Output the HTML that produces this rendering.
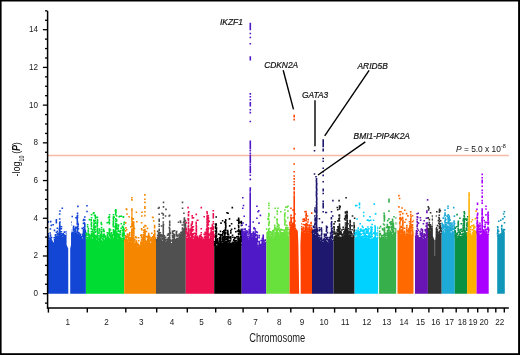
<!DOCTYPE html>
<html><head><meta charset="utf-8"><style>
html,body{margin:0;padding:0;background:#fff;}
svg{display:block;will-change:transform;}
</style></head><body>
<svg width="520" height="355" viewBox="0 0 520 355" font-family="Liberation Sans, sans-serif">
<rect x="0" y="0" width="520" height="355" fill="#000"/>
<rect x="1.6" y="1.5" width="516.5" height="351.7" fill="#fff"/>
<line x1="47.6" y1="155.5" x2="508.8" y2="155.5" stroke="#F5B9A5" stroke-width="1.6"/>
<path fill="#1446D6" d="M47.9,293.7 47.9,239.9 48.9,239.9 48.9,239.2 49.9,239.2 49.9,239 50.9,239 50.9,238.5 51.9,238.5 51.9,240.6 52.9,240.6 52.9,242.2 53.9,242.2 53.9,239.7 54.9,239.7 54.9,237.9 55.9,237.9 55.9,237.3 56.9,237.3 56.9,235.2 57.9,235.2 57.9,235.4 58.9,235.4 58.9,235.7 59.9,235.7 59.9,235.5 60.9,235.5 60.9,234.8 61.9,234.8 61.9,236.5 62.9,236.5 62.9,236.9 63.9,236.9 63.9,237.1 64.9,237.1 64.9,236.9 65.9,236.9 65.9,236.9 66.9,236.9 66.9,236.6 67.9,236.6 67.9,233.7 68.9,233.7 68.9,232.8 69.9,232.8 69.9,233 70.9,233 70.9,233.4 71.9,233.4 71.9,233.4 72.9,233.4 72.9,232.3 73.9,232.3 73.9,232.2 74.9,232.2 74.9,232.3 75.9,232.3 75.9,234.6 76.9,234.6 76.9,235.2 77.9,235.2 77.9,234.6 78.9,234.6 78.9,234.4 79.9,234.4 79.9,235.3 80.9,235.3 80.9,237.5 81.9,237.5 81.9,238.4 82.9,238.4 82.9,238.4 83.9,238.4 83.9,237.7 84.9,237.7 84.9,236.5 85.9,236.5 85.9,293.7ZM47.5 221.1h1.6v1.6h-1.6zM47.5 233.1h1.6v1.6h-1.6zM47.6 235.1h1.6v1.6h-1.6zM47.6 236.1h1.6v1.6h-1.6zM47.6 237.1h1.6v1.6h-1.6zM47.4 238.1h1.6v1.6h-1.6zM48.7 237.4h1.6v1.6h-1.6zM49.6 228.2h1.6v1.6h-1.6zM49.4 232.2h1.6v1.6h-1.6zM49.7 234.2h1.6v1.6h-1.6zM49.7 235.2h1.6v1.6h-1.6zM49.4 237.2h1.6v1.6h-1.6zM49.6 238.2h1.6v1.6h-1.6zM50.8 236.7h1.6v1.6h-1.6zM53.4 236.9h1.6v1.6h-1.6zM53.7 238.9h1.6v1.6h-1.6zM54.7 234.1h1.6v1.6h-1.6zM54.6 235.1h1.6v1.6h-1.6zM54.6 237.1h1.6v1.6h-1.6zM55.5 220.5h1.6v1.6h-1.6zM55.6 231.5h1.6v1.6h-1.6zM55.7 235.5h1.6v1.6h-1.6zM55.5 236.5h1.6v1.6h-1.6zM56.5 227.4h1.6v1.6h-1.6zM56.7 230.4h1.6v1.6h-1.6zM56.7 232.4h1.6v1.6h-1.6zM56.5 233.4h1.6v1.6h-1.6zM57.6 233.6h1.6v1.6h-1.6zM58.6 227.9h1.6v1.6h-1.6zM58.5 228.9h1.6v1.6h-1.6zM58.5 231.9h1.6v1.6h-1.6zM58.7 233.9h1.6v1.6h-1.6zM58.7 234.9h1.6v1.6h-1.6zM59.4 232.7h1.6v1.6h-1.6zM59.4 233.7h1.6v1.6h-1.6zM59.8 234.7h1.6v1.6h-1.6zM60.7 226h1.6v1.6h-1.6zM60.6 228h1.6v1.6h-1.6zM60.6 231h1.6v1.6h-1.6zM60.7 233h1.6v1.6h-1.6zM61.8 233.7h1.6v1.6h-1.6zM61.5 234.7h1.6v1.6h-1.6zM62.5 233.1h1.6v1.6h-1.6zM62.7 235.1h1.6v1.6h-1.6zM63.6 231.3h1.6v1.6h-1.6zM63.5 234.3h1.6v1.6h-1.6zM63.4 235.3h1.6v1.6h-1.6zM64.8 235.1h1.6v1.6h-1.6zM64.7 236.1h1.6v1.6h-1.6zM65.5 231.1h1.6v1.6h-1.6zM65.7 233.1h1.6v1.6h-1.6zM65.6 235.1h1.6v1.6h-1.6zM66.5 235.8h1.6v1.6h-1.6zM67.7 218.9h1.6v1.6h-1.6zM67.7 220.9h1.6v1.6h-1.6zM67.8 221.9h1.6v1.6h-1.6zM67.7 223.9h1.6v1.6h-1.6zM67.6 225.9h1.6v1.6h-1.6zM67.5 229.9h1.6v1.6h-1.6zM67.6 231.9h1.6v1.6h-1.6zM68.4 227h1.6v1.6h-1.6zM68.6 228h1.6v1.6h-1.6zM68.4 229h1.6v1.6h-1.6zM68.5 230h1.6v1.6h-1.6zM68.5 231h1.6v1.6h-1.6zM68.6 232h1.6v1.6h-1.6zM69.6 223.2h1.6v1.6h-1.6zM69.8 224.2h1.6v1.6h-1.6zM69.4 228.2h1.6v1.6h-1.6zM69.7 229.2h1.6v1.6h-1.6zM69.7 231.2h1.6v1.6h-1.6zM70.4 232.6h1.6v1.6h-1.6zM71.8 231.6h1.6v1.6h-1.6zM71.8 232.6h1.6v1.6h-1.6zM72.8 225.5h1.6v1.6h-1.6zM72.7 227.5h1.6v1.6h-1.6zM72.6 228.5h1.6v1.6h-1.6zM72.6 229.5h1.6v1.6h-1.6zM72.7 231.5h1.6v1.6h-1.6zM73.5 228.4h1.6v1.6h-1.6zM73.6 230.4h1.6v1.6h-1.6zM74.8 226.5h1.6v1.6h-1.6zM74.7 227.5h1.6v1.6h-1.6zM74.5 228.5h1.6v1.6h-1.6zM74.5 229.5h1.6v1.6h-1.6zM74.7 230.5h1.6v1.6h-1.6zM74.8 231.5h1.6v1.6h-1.6zM75.7 226.8h1.6v1.6h-1.6zM75.6 232.8h1.6v1.6h-1.6zM75.8 233.8h1.6v1.6h-1.6zM76.7 212.4h1.6v1.6h-1.6zM76.8 214.4h1.6v1.6h-1.6zM76.4 215.4h1.6v1.6h-1.6zM76.8 216.4h1.6v1.6h-1.6zM76.4 218.4h1.6v1.6h-1.6zM76.5 219.4h1.6v1.6h-1.6zM76.5 220.4h1.6v1.6h-1.6zM76.8 221.4h1.6v1.6h-1.6zM76.4 222.4h1.6v1.6h-1.6zM76.5 223.4h1.6v1.6h-1.6zM76.7 225.4h1.6v1.6h-1.6zM76.7 226.4h1.6v1.6h-1.6zM76.8 227.4h1.6v1.6h-1.6zM76.6 228.4h1.6v1.6h-1.6zM76.8 229.4h1.6v1.6h-1.6zM76.6 230.4h1.6v1.6h-1.6zM76.6 231.4h1.6v1.6h-1.6zM76.6 233.4h1.6v1.6h-1.6zM76.6 234.4h1.6v1.6h-1.6zM77.6 227.8h1.6v1.6h-1.6zM77.6 231.8h1.6v1.6h-1.6zM77.5 233.8h1.6v1.6h-1.6zM78.4 232.6h1.6v1.6h-1.6zM79.6 233.5h1.6v1.6h-1.6zM79.4 234.5h1.6v1.6h-1.6zM80.6 235.7h1.6v1.6h-1.6zM80.5 236.7h1.6v1.6h-1.6zM81.4 227.6h1.6v1.6h-1.6zM81.7 233.6h1.6v1.6h-1.6zM81.8 235.6h1.6v1.6h-1.6zM82.6 230.6h1.6v1.6h-1.6zM82.6 231.6h1.6v1.6h-1.6zM82.6 233.6h1.6v1.6h-1.6zM82.5 234.6h1.6v1.6h-1.6zM82.7 235.6h1.6v1.6h-1.6zM82.6 236.6h1.6v1.6h-1.6zM82.7 237.6h1.6v1.6h-1.6zM83.5 221.9h1.6v1.6h-1.6zM83.7 227.9h1.6v1.6h-1.6zM83.8 228.9h1.6v1.6h-1.6zM83.5 229.9h1.6v1.6h-1.6zM83.7 231.9h1.6v1.6h-1.6zM83.7 232.9h1.6v1.6h-1.6zM83.7 234.9h1.6v1.6h-1.6zM83.5 235.9h1.6v1.6h-1.6zM83.7 236.9h1.6v1.6h-1.6zM84.5 229.7h1.6v1.6h-1.6zM84.5 230.7h1.6v1.6h-1.6zM84.8 231.7h1.6v1.6h-1.6zM84.7 232.7h1.6v1.6h-1.6zM84.6 233.7h1.6v1.6h-1.6zM84.8 234.7h1.6v1.6h-1.6zM84.6 235.7h1.6v1.6h-1.6zM59.2 210.2h1.6v1.6h-1.6zM58.9 213.2h1.6v1.6h-1.6zM58.9 218.2h1.6v1.6h-1.6zM59.2 221.2h1.6v1.6h-1.6zM58.9 222.2h1.6v1.6h-1.6zM58.9 223.2h1.6v1.6h-1.6zM59 224.2h1.6v1.6h-1.6zM59.1 225.2h1.6v1.6h-1.6zM58.8 226.2h1.6v1.6h-1.6zM59.1 227.2h1.6v1.6h-1.6zM59.1 228.2h1.6v1.6h-1.6zM59 229.2h1.6v1.6h-1.6zM59.1 230.2h1.6v1.6h-1.6zM58.9 231.2h1.6v1.6h-1.6zM59 232.2h1.6v1.6h-1.6zM58.8 233.2h1.6v1.6h-1.6zM83 218.7h1.6v1.6h-1.6zM82.6 219.7h1.6v1.6h-1.6zM82.6 222.7h1.6v1.6h-1.6zM83 226.7h1.6v1.6h-1.6zM82.8 228.7h1.6v1.6h-1.6zM82.7 229.7h1.6v1.6h-1.6zM82.9 232.7h1.6v1.6h-1.6zM82.8 233.7h1.6v1.6h-1.6zM82.7 234.7h1.6v1.6h-1.6zM84 216.2h1.6v1.6h-1.6zM84 219.2h1.6v1.6h-1.6zM84 223.2h1.6v1.6h-1.6zM84 224.2h1.6v1.6h-1.6zM84 225.2h1.6v1.6h-1.6zM84 226.2h1.6v1.6h-1.6zM84 228.2h1.6v1.6h-1.6zM84 229.2h1.6v1.6h-1.6zM84 231.2h1.6v1.6h-1.6zM84 232.2h1.6v1.6h-1.6zM84 233.2h1.6v1.6h-1.6zM84 234.2h1.6v1.6h-1.6zM61.5 207.5h1.6v1.6h-1.6zM49.9 220.8h1.6v1.6h-1.6zM50.5 224.6h1.6v1.6h-1.6zM52.4 223.9h1.6v1.6h-1.6zM55.6 218.9h1.6v1.6h-1.6zM55.6 222h1.6v1.6h-1.6zM53.7 229.6h1.6v1.6h-1.6zM71.4 215.7h1.6v1.6h-1.6zM70.2 221.4h1.6v1.6h-1.6zM72.7 226.5h1.6v1.6h-1.6zM75.2 217h1.6v1.6h-1.6zM76.5 217.6h1.6v1.6h-1.6zM77.1 205.6h1.6v1.6h-1.6zM77.4 223.3h1.6v1.6h-1.6zM77.4 225.2h1.6v1.6h-1.6zM86.2 205h1.6v1.6h-1.6zM86.2 210.7h1.6v1.6h-1.6z"/>
<path fill="#00DC32" d="M85.9,293.7 85.9,239.3 86.9,239.3 86.9,239.8 87.9,239.8 87.9,239.6 88.9,239.6 88.9,238.6 89.9,238.6 89.9,240.5 90.9,240.5 90.9,237.7 91.9,237.7 91.9,238.6 92.9,238.6 92.9,236.9 93.9,236.9 93.9,238.3 94.9,238.3 94.9,238.2 95.9,238.2 95.9,240 96.9,240 96.9,237.6 97.9,237.6 97.9,240.2 98.9,240.2 98.9,239 99.9,239 99.9,238.7 100.9,238.7 100.9,240.5 101.9,240.5 101.9,241.7 102.9,241.7 102.9,240.4 103.9,240.4 103.9,239.4 104.9,239.4 104.9,240.1 105.9,240.1 105.9,241.4 106.9,241.4 106.9,238.7 107.9,238.7 107.9,237.2 108.9,237.2 108.9,238.8 109.9,238.8 109.9,240 110.9,240 110.9,239.7 111.9,239.7 111.9,237.7 112.9,237.7 112.9,237.8 113.9,237.8 113.9,236.6 114.9,236.6 114.9,237.8 115.9,237.8 115.9,238.5 116.9,238.5 116.9,239.7 117.9,239.7 117.9,237.1 118.9,237.1 118.9,236.4 119.9,236.4 119.9,236.5 120.9,236.5 120.9,239.3 121.9,239.3 121.9,239.3 122.9,239.3 122.9,239.2 123.9,239.2 123.9,239.4 124.2,239.4 124.2,293.7ZM85.7 232.5h1.6v1.6h-1.6zM85.4 233.5h1.6v1.6h-1.6zM85.8 234.5h1.6v1.6h-1.6zM85.4 236.5h1.6v1.6h-1.6zM85.6 238.5h1.6v1.6h-1.6zM86.8 224h1.6v1.6h-1.6zM86.8 226h1.6v1.6h-1.6zM86.6 237h1.6v1.6h-1.6zM86.7 238h1.6v1.6h-1.6zM87.6 227.8h1.6v1.6h-1.6zM87.4 229.8h1.6v1.6h-1.6zM87.6 230.8h1.6v1.6h-1.6zM87.5 232.8h1.6v1.6h-1.6zM87.4 233.8h1.6v1.6h-1.6zM87.7 234.8h1.6v1.6h-1.6zM87.6 236.8h1.6v1.6h-1.6zM87.5 238.8h1.6v1.6h-1.6zM88.6 218.8h1.6v1.6h-1.6zM88.7 233.8h1.6v1.6h-1.6zM88.8 235.8h1.6v1.6h-1.6zM88.6 236.8h1.6v1.6h-1.6zM89.7 234.7h1.6v1.6h-1.6zM89.7 237.7h1.6v1.6h-1.6zM89.6 238.7h1.6v1.6h-1.6zM89.5 239.7h1.6v1.6h-1.6zM90.7 213.9h1.6v1.6h-1.6zM90.8 216.9h1.6v1.6h-1.6zM90.4 218.9h1.6v1.6h-1.6zM90.4 219.9h1.6v1.6h-1.6zM90.7 221.9h1.6v1.6h-1.6zM90.6 222.9h1.6v1.6h-1.6zM90.5 223.9h1.6v1.6h-1.6zM90.7 224.9h1.6v1.6h-1.6zM90.7 225.9h1.6v1.6h-1.6zM90.4 227.9h1.6v1.6h-1.6zM90.6 230.9h1.6v1.6h-1.6zM90.8 232.9h1.6v1.6h-1.6zM90.8 233.9h1.6v1.6h-1.6zM90.7 234.9h1.6v1.6h-1.6zM90.5 235.9h1.6v1.6h-1.6zM90.6 236.9h1.6v1.6h-1.6zM91.5 228.8h1.6v1.6h-1.6zM91.5 230.8h1.6v1.6h-1.6zM91.5 232.8h1.6v1.6h-1.6zM91.7 233.8h1.6v1.6h-1.6zM91.4 234.8h1.6v1.6h-1.6zM91.7 235.8h1.6v1.6h-1.6zM92.7 234.1h1.6v1.6h-1.6zM92.6 235.1h1.6v1.6h-1.6zM92.6 236.1h1.6v1.6h-1.6zM93.7 234.5h1.6v1.6h-1.6zM93.5 235.5h1.6v1.6h-1.6zM93.7 236.5h1.6v1.6h-1.6zM93.6 237.5h1.6v1.6h-1.6zM94.5 214.4h1.6v1.6h-1.6zM94.4 215.4h1.6v1.6h-1.6zM94.6 216.4h1.6v1.6h-1.6zM94.7 217.4h1.6v1.6h-1.6zM94.5 219.4h1.6v1.6h-1.6zM94.8 221.4h1.6v1.6h-1.6zM94.6 222.4h1.6v1.6h-1.6zM94.6 225.4h1.6v1.6h-1.6zM94.5 226.4h1.6v1.6h-1.6zM94.5 228.4h1.6v1.6h-1.6zM94.8 230.4h1.6v1.6h-1.6zM94.5 231.4h1.6v1.6h-1.6zM94.5 234.4h1.6v1.6h-1.6zM94.5 235.4h1.6v1.6h-1.6zM94.8 236.4h1.6v1.6h-1.6zM94.8 237.4h1.6v1.6h-1.6zM95.7 235.2h1.6v1.6h-1.6zM95.7 236.2h1.6v1.6h-1.6zM95.8 237.2h1.6v1.6h-1.6zM95.7 239.2h1.6v1.6h-1.6zM96.7 218.8h1.6v1.6h-1.6zM96.7 219.8h1.6v1.6h-1.6zM96.7 220.8h1.6v1.6h-1.6zM96.8 221.8h1.6v1.6h-1.6zM96.4 222.8h1.6v1.6h-1.6zM96.5 223.8h1.6v1.6h-1.6zM96.6 224.8h1.6v1.6h-1.6zM96.4 225.8h1.6v1.6h-1.6zM96.7 227.8h1.6v1.6h-1.6zM96.5 228.8h1.6v1.6h-1.6zM96.6 229.8h1.6v1.6h-1.6zM96.8 230.8h1.6v1.6h-1.6zM96.7 231.8h1.6v1.6h-1.6zM96.6 233.8h1.6v1.6h-1.6zM96.8 234.8h1.6v1.6h-1.6zM96.7 235.8h1.6v1.6h-1.6zM96.6 236.8h1.6v1.6h-1.6zM97.5 232.4h1.6v1.6h-1.6zM97.7 238.4h1.6v1.6h-1.6zM98.5 228.2h1.6v1.6h-1.6zM98.7 229.2h1.6v1.6h-1.6zM98.6 230.2h1.6v1.6h-1.6zM98.5 232.2h1.6v1.6h-1.6zM98.4 235.2h1.6v1.6h-1.6zM98.4 237.2h1.6v1.6h-1.6zM98.4 238.2h1.6v1.6h-1.6zM99.6 233.9h1.6v1.6h-1.6zM99.5 234.9h1.6v1.6h-1.6zM99.8 235.9h1.6v1.6h-1.6zM99.6 236.9h1.6v1.6h-1.6zM99.6 237.9h1.6v1.6h-1.6zM100.5 221.7h1.6v1.6h-1.6zM100.5 222.7h1.6v1.6h-1.6zM100.8 223.7h1.6v1.6h-1.6zM100.7 226.7h1.6v1.6h-1.6zM100.7 228.7h1.6v1.6h-1.6zM100.4 230.7h1.6v1.6h-1.6zM100.6 231.7h1.6v1.6h-1.6zM100.5 232.7h1.6v1.6h-1.6zM100.8 233.7h1.6v1.6h-1.6zM100.7 234.7h1.6v1.6h-1.6zM100.7 235.7h1.6v1.6h-1.6zM100.6 236.7h1.6v1.6h-1.6zM100.7 239.7h1.6v1.6h-1.6zM101.5 235.9h1.6v1.6h-1.6zM101.5 237.9h1.6v1.6h-1.6zM101.5 240.9h1.6v1.6h-1.6zM102.7 228.6h1.6v1.6h-1.6zM102.8 229.6h1.6v1.6h-1.6zM102.4 230.6h1.6v1.6h-1.6zM102.6 233.6h1.6v1.6h-1.6zM102.5 234.6h1.6v1.6h-1.6zM102.6 235.6h1.6v1.6h-1.6zM102.7 236.6h1.6v1.6h-1.6zM102.4 238.6h1.6v1.6h-1.6zM102.8 239.6h1.6v1.6h-1.6zM103.4 230.6h1.6v1.6h-1.6zM103.5 233.6h1.6v1.6h-1.6zM103.4 234.6h1.6v1.6h-1.6zM103.5 235.6h1.6v1.6h-1.6zM104.5 235.3h1.6v1.6h-1.6zM104.5 236.3h1.6v1.6h-1.6zM104.6 237.3h1.6v1.6h-1.6zM104.5 238.3h1.6v1.6h-1.6zM105.8 237.6h1.6v1.6h-1.6zM105.7 238.6h1.6v1.6h-1.6zM105.6 239.6h1.6v1.6h-1.6zM105.5 240.6h1.6v1.6h-1.6zM106.4 221.9h1.6v1.6h-1.6zM106.5 231.9h1.6v1.6h-1.6zM106.7 233.9h1.6v1.6h-1.6zM106.5 234.9h1.6v1.6h-1.6zM106.5 235.9h1.6v1.6h-1.6zM106.6 236.9h1.6v1.6h-1.6zM106.5 237.9h1.6v1.6h-1.6zM107.7 221.4h1.6v1.6h-1.6zM107.5 232.4h1.6v1.6h-1.6zM107.6 236.4h1.6v1.6h-1.6zM108.7 214h1.6v1.6h-1.6zM108.7 216h1.6v1.6h-1.6zM108.5 217h1.6v1.6h-1.6zM108.6 219h1.6v1.6h-1.6zM108.6 220h1.6v1.6h-1.6zM108.6 222h1.6v1.6h-1.6zM108.6 223h1.6v1.6h-1.6zM108.7 228h1.6v1.6h-1.6zM108.5 229h1.6v1.6h-1.6zM108.7 230h1.6v1.6h-1.6zM108.6 231h1.6v1.6h-1.6zM108.7 232h1.6v1.6h-1.6zM108.7 233h1.6v1.6h-1.6zM108.6 234h1.6v1.6h-1.6zM108.6 235h1.6v1.6h-1.6zM108.7 238h1.6v1.6h-1.6zM109.7 229.2h1.6v1.6h-1.6zM109.5 234.2h1.6v1.6h-1.6zM109.8 235.2h1.6v1.6h-1.6zM109.6 236.2h1.6v1.6h-1.6zM109.4 239.2h1.6v1.6h-1.6zM110.7 231.9h1.6v1.6h-1.6zM110.5 232.9h1.6v1.6h-1.6zM110.6 234.9h1.6v1.6h-1.6zM110.5 235.9h1.6v1.6h-1.6zM110.4 236.9h1.6v1.6h-1.6zM110.5 237.9h1.6v1.6h-1.6zM110.6 238.9h1.6v1.6h-1.6zM111.5 233.9h1.6v1.6h-1.6zM111.7 234.9h1.6v1.6h-1.6zM111.6 235.9h1.6v1.6h-1.6zM111.7 236.9h1.6v1.6h-1.6zM112.7 214h1.6v1.6h-1.6zM112.7 216h1.6v1.6h-1.6zM112.5 217h1.6v1.6h-1.6zM112.6 218h1.6v1.6h-1.6zM112.7 219h1.6v1.6h-1.6zM112.7 220h1.6v1.6h-1.6zM112.5 221h1.6v1.6h-1.6zM112.7 222h1.6v1.6h-1.6zM112.5 223h1.6v1.6h-1.6zM112.4 224h1.6v1.6h-1.6zM112.5 225h1.6v1.6h-1.6zM112.7 226h1.6v1.6h-1.6zM112.7 229h1.6v1.6h-1.6zM112.7 230h1.6v1.6h-1.6zM112.7 231h1.6v1.6h-1.6zM112.8 232h1.6v1.6h-1.6zM112.8 233h1.6v1.6h-1.6zM112.8 234h1.6v1.6h-1.6zM113.6 230.8h1.6v1.6h-1.6zM113.6 232.8h1.6v1.6h-1.6zM113.8 233.8h1.6v1.6h-1.6zM113.6 234.8h1.6v1.6h-1.6zM113.7 235.8h1.6v1.6h-1.6zM114.8 225h1.6v1.6h-1.6zM114.5 226h1.6v1.6h-1.6zM114.6 227h1.6v1.6h-1.6zM114.4 230h1.6v1.6h-1.6zM114.4 232h1.6v1.6h-1.6zM114.6 233h1.6v1.6h-1.6zM114.7 236h1.6v1.6h-1.6zM114.5 237h1.6v1.6h-1.6zM115.4 223.7h1.6v1.6h-1.6zM115.4 231.7h1.6v1.6h-1.6zM115.7 233.7h1.6v1.6h-1.6zM115.6 234.7h1.6v1.6h-1.6zM115.6 236.7h1.6v1.6h-1.6zM115.5 237.7h1.6v1.6h-1.6zM116.4 232.9h1.6v1.6h-1.6zM116.5 233.9h1.6v1.6h-1.6zM116.5 234.9h1.6v1.6h-1.6zM116.7 235.9h1.6v1.6h-1.6zM116.5 236.9h1.6v1.6h-1.6zM116.6 238.9h1.6v1.6h-1.6zM117.8 224.3h1.6v1.6h-1.6zM117.6 225.3h1.6v1.6h-1.6zM117.4 227.3h1.6v1.6h-1.6zM117.4 229.3h1.6v1.6h-1.6zM117.6 230.3h1.6v1.6h-1.6zM117.5 233.3h1.6v1.6h-1.6zM117.5 234.3h1.6v1.6h-1.6zM117.5 235.3h1.6v1.6h-1.6zM117.7 236.3h1.6v1.6h-1.6zM118.5 230.6h1.6v1.6h-1.6zM118.4 233.6h1.6v1.6h-1.6zM118.7 234.6h1.6v1.6h-1.6zM118.4 235.6h1.6v1.6h-1.6zM119.6 229.7h1.6v1.6h-1.6zM119.6 230.7h1.6v1.6h-1.6zM119.6 231.7h1.6v1.6h-1.6zM119.4 233.7h1.6v1.6h-1.6zM120.7 215.5h1.6v1.6h-1.6zM120.4 227.5h1.6v1.6h-1.6zM120.7 237.5h1.6v1.6h-1.6zM120.7 238.5h1.6v1.6h-1.6zM121.7 225.5h1.6v1.6h-1.6zM121.7 226.5h1.6v1.6h-1.6zM121.6 229.5h1.6v1.6h-1.6zM121.7 232.5h1.6v1.6h-1.6zM121.6 233.5h1.6v1.6h-1.6zM121.5 234.5h1.6v1.6h-1.6zM121.8 235.5h1.6v1.6h-1.6zM121.6 237.5h1.6v1.6h-1.6zM122.5 226.4h1.6v1.6h-1.6zM122.7 227.4h1.6v1.6h-1.6zM122.5 228.4h1.6v1.6h-1.6zM122.5 229.4h1.6v1.6h-1.6zM122.4 230.4h1.6v1.6h-1.6zM122.6 231.4h1.6v1.6h-1.6zM122.6 232.4h1.6v1.6h-1.6zM122.8 234.4h1.6v1.6h-1.6zM122.7 237.4h1.6v1.6h-1.6zM122.8 238.4h1.6v1.6h-1.6zM123.4 221.6h1.6v1.6h-1.6zM123.2 223.6h1.6v1.6h-1.6zM123.3 228.6h1.6v1.6h-1.6zM123.1 230.6h1.6v1.6h-1.6zM123.4 232.6h1.6v1.6h-1.6zM123.2 233.6h1.6v1.6h-1.6zM123.3 234.6h1.6v1.6h-1.6zM123.2 236.6h1.6v1.6h-1.6zM123.2 237.6h1.6v1.6h-1.6zM123.4 238.6h1.6v1.6h-1.6zM93 219.6h1.6v1.6h-1.6zM93.3 220.6h1.6v1.6h-1.6zM93.4 222.6h1.6v1.6h-1.6zM93.1 223.6h1.6v1.6h-1.6zM93.1 224.6h1.6v1.6h-1.6zM93.2 225.6h1.6v1.6h-1.6zM93.2 226.6h1.6v1.6h-1.6zM93.1 227.6h1.6v1.6h-1.6zM93.3 228.6h1.6v1.6h-1.6zM93.4 229.6h1.6v1.6h-1.6zM93 231.6h1.6v1.6h-1.6zM93.2 232.6h1.6v1.6h-1.6zM93 233.6h1.6v1.6h-1.6zM93.3 234.6h1.6v1.6h-1.6zM93.3 235.6h1.6v1.6h-1.6zM93.1 236.6h1.6v1.6h-1.6zM115.8 215.2h1.6v1.6h-1.6zM115.8 219.2h1.6v1.6h-1.6zM115.9 220.2h1.6v1.6h-1.6zM115.8 223.2h1.6v1.6h-1.6zM116 224.2h1.6v1.6h-1.6zM115.7 225.2h1.6v1.6h-1.6zM115.7 226.2h1.6v1.6h-1.6zM115.9 227.2h1.6v1.6h-1.6zM116.1 228.2h1.6v1.6h-1.6zM115.9 231.2h1.6v1.6h-1.6zM115.9 232.2h1.6v1.6h-1.6zM115.9 233.2h1.6v1.6h-1.6zM116 234.2h1.6v1.6h-1.6zM115.8 236.2h1.6v1.6h-1.6zM115.9 237.2h1.6v1.6h-1.6zM114.9 208.9h1.6v1.6h-1.6zM114.9 210.9h1.6v1.6h-1.6zM114.9 212.9h1.6v1.6h-1.6zM114.9 213.9h1.6v1.6h-1.6zM114.9 217.9h1.6v1.6h-1.6zM114.9 218.9h1.6v1.6h-1.6zM114.9 220.9h1.6v1.6h-1.6zM114.9 222.9h1.6v1.6h-1.6zM114.9 223.9h1.6v1.6h-1.6zM114.9 225.9h1.6v1.6h-1.6zM114.9 226.9h1.6v1.6h-1.6zM114.9 227.9h1.6v1.6h-1.6zM114.9 228.9h1.6v1.6h-1.6zM114.9 229.9h1.6v1.6h-1.6zM114.9 230.9h1.6v1.6h-1.6zM114.9 231.9h1.6v1.6h-1.6zM114.9 232.9h1.6v1.6h-1.6zM114.9 233.9h1.6v1.6h-1.6zM114.9 234.9h1.6v1.6h-1.6zM114.9 235.9h1.6v1.6h-1.6zM114.9 236.9h1.6v1.6h-1.6zM92.5 212.6h1.6v1.6h-1.6zM93.8 214.5h1.6v1.6h-1.6zM96.3 216.4h1.6v1.6h-1.6zM107.7 217h1.6v1.6h-1.6zM115.2 209.4h1.6v1.6h-1.6zM115.2 211.3h1.6v1.6h-1.6zM113.4 216.4h1.6v1.6h-1.6zM118.4 216h1.6v1.6h-1.6zM122.7 216h1.6v1.6h-1.6zM120.5 223h1.6v1.6h-1.6zM93.2 212h1.6v1.6h-1.6zM96.6 216.5h1.6v1.6h-1.6zM107.9 216.5h1.6v1.6h-1.6zM114.6 209.8h1.6v1.6h-1.6zM119.2 215.4h1.6v1.6h-1.6zM122.5 216.5h1.6v1.6h-1.6z"/>
<path fill="#F58700" d="M124.2,293.7 124.2,240.2 125.2,240.2 125.2,240.9 126.2,240.9 126.2,240.7 127.2,240.7 127.2,240.1 128.2,240.1 128.2,241.5 129.2,241.5 129.2,239.8 130.2,239.8 130.2,239.9 131.2,239.9 131.2,242.9 132.2,242.9 132.2,243.8 133.2,243.8 133.2,243.1 134.2,243.1 134.2,242.8 135.2,242.8 135.2,240.7 136.2,240.7 136.2,239.7 137.2,239.7 137.2,246.3 138.2,246.3 138.2,246.8 139.2,246.8 139.2,245.4 140.2,245.4 140.2,245.4 141.2,245.4 141.2,242.7 142.2,242.7 142.2,240.9 143.2,240.9 143.2,241.2 144.2,241.2 144.2,242.8 145.2,242.8 145.2,241.9 146.2,241.9 146.2,242.5 147.2,242.5 147.2,241.4 148.2,241.4 148.2,241.5 149.2,241.5 149.2,240.6 150.2,240.6 150.2,242.8 151.2,242.8 151.2,241.2 152.2,241.2 152.2,239.8 153.2,239.8 153.2,238.9 154.2,238.9 154.2,240.6 155.2,240.6 155.2,241.1 156,241.1 156,293.7ZM123.8 239.4h1.6v1.6h-1.6zM124.9 222.1h1.6v1.6h-1.6zM125.1 227.1h1.6v1.6h-1.6zM124.7 230.1h1.6v1.6h-1.6zM125 235.1h1.6v1.6h-1.6zM125 236.1h1.6v1.6h-1.6zM125.1 237.1h1.6v1.6h-1.6zM124.7 239.1h1.6v1.6h-1.6zM125 240.1h1.6v1.6h-1.6zM125.9 228.9h1.6v1.6h-1.6zM125.9 235.9h1.6v1.6h-1.6zM125.8 236.9h1.6v1.6h-1.6zM125.8 237.9h1.6v1.6h-1.6zM125.8 238.9h1.6v1.6h-1.6zM125.8 239.9h1.6v1.6h-1.6zM126.7 233.3h1.6v1.6h-1.6zM127.1 234.3h1.6v1.6h-1.6zM127.1 235.3h1.6v1.6h-1.6zM126.9 236.3h1.6v1.6h-1.6zM127 239.3h1.6v1.6h-1.6zM127.8 236.7h1.6v1.6h-1.6zM128 237.7h1.6v1.6h-1.6zM127.9 238.7h1.6v1.6h-1.6zM127.8 239.7h1.6v1.6h-1.6zM129 232h1.6v1.6h-1.6zM128.8 233h1.6v1.6h-1.6zM128.8 234h1.6v1.6h-1.6zM128.8 235h1.6v1.6h-1.6zM128.8 237h1.6v1.6h-1.6zM128.8 239h1.6v1.6h-1.6zM130 226.1h1.6v1.6h-1.6zM129.7 237.1h1.6v1.6h-1.6zM130 238.1h1.6v1.6h-1.6zM129.9 239.1h1.6v1.6h-1.6zM131 230.1h1.6v1.6h-1.6zM130.9 231.1h1.6v1.6h-1.6zM131 232.1h1.6v1.6h-1.6zM131.1 233.1h1.6v1.6h-1.6zM130.9 234.1h1.6v1.6h-1.6zM131 235.1h1.6v1.6h-1.6zM131 236.1h1.6v1.6h-1.6zM130.9 237.1h1.6v1.6h-1.6zM131.1 238.1h1.6v1.6h-1.6zM131 239.1h1.6v1.6h-1.6zM131.1 241.1h1.6v1.6h-1.6zM131.9 221h1.6v1.6h-1.6zM131.9 222h1.6v1.6h-1.6zM132 223h1.6v1.6h-1.6zM132 225h1.6v1.6h-1.6zM131.8 226h1.6v1.6h-1.6zM131.7 230h1.6v1.6h-1.6zM131.9 232h1.6v1.6h-1.6zM132 234h1.6v1.6h-1.6zM131.8 235h1.6v1.6h-1.6zM132 237h1.6v1.6h-1.6zM132 238h1.6v1.6h-1.6zM132 239h1.6v1.6h-1.6zM132 240h1.6v1.6h-1.6zM131.8 242h1.6v1.6h-1.6zM131.9 243h1.6v1.6h-1.6zM132.9 221.3h1.6v1.6h-1.6zM132.8 222.3h1.6v1.6h-1.6zM132.7 223.3h1.6v1.6h-1.6zM132.9 224.3h1.6v1.6h-1.6zM132.8 225.3h1.6v1.6h-1.6zM133.1 226.3h1.6v1.6h-1.6zM132.7 227.3h1.6v1.6h-1.6zM132.8 228.3h1.6v1.6h-1.6zM132.7 229.3h1.6v1.6h-1.6zM133.1 230.3h1.6v1.6h-1.6zM132.9 231.3h1.6v1.6h-1.6zM133.1 232.3h1.6v1.6h-1.6zM133.1 234.3h1.6v1.6h-1.6zM132.9 236.3h1.6v1.6h-1.6zM133.1 237.3h1.6v1.6h-1.6zM132.9 238.3h1.6v1.6h-1.6zM132.9 239.3h1.6v1.6h-1.6zM132.7 240.3h1.6v1.6h-1.6zM133 241.3h1.6v1.6h-1.6zM133.7 228h1.6v1.6h-1.6zM134 239h1.6v1.6h-1.6zM133.7 240h1.6v1.6h-1.6zM135 235.9h1.6v1.6h-1.6zM135.1 236.9h1.6v1.6h-1.6zM135.7 236.9h1.6v1.6h-1.6zM136.9 242.5h1.6v1.6h-1.6zM137 243.5h1.6v1.6h-1.6zM137.1 244.5h1.6v1.6h-1.6zM137.8 237h1.6v1.6h-1.6zM137.9 240h1.6v1.6h-1.6zM138 244h1.6v1.6h-1.6zM137.9 245h1.6v1.6h-1.6zM137.9 246h1.6v1.6h-1.6zM140 234.6h1.6v1.6h-1.6zM140.1 241.6h1.6v1.6h-1.6zM140 242.6h1.6v1.6h-1.6zM139.9 244.6h1.6v1.6h-1.6zM140.8 221.9h1.6v1.6h-1.6zM140.8 227.9h1.6v1.6h-1.6zM140.9 228.9h1.6v1.6h-1.6zM141.1 233.9h1.6v1.6h-1.6zM141 234.9h1.6v1.6h-1.6zM141 235.9h1.6v1.6h-1.6zM140.7 236.9h1.6v1.6h-1.6zM140.8 238.9h1.6v1.6h-1.6zM140.8 239.9h1.6v1.6h-1.6zM141 241.9h1.6v1.6h-1.6zM142 237.1h1.6v1.6h-1.6zM142.1 238.1h1.6v1.6h-1.6zM141.7 239.1h1.6v1.6h-1.6zM143 226.4h1.6v1.6h-1.6zM142.8 229.4h1.6v1.6h-1.6zM142.9 231.4h1.6v1.6h-1.6zM143 233.4h1.6v1.6h-1.6zM143 234.4h1.6v1.6h-1.6zM143 235.4h1.6v1.6h-1.6zM142.9 236.4h1.6v1.6h-1.6zM143 237.4h1.6v1.6h-1.6zM142.8 238.4h1.6v1.6h-1.6zM142.7 239.4h1.6v1.6h-1.6zM142.8 240.4h1.6v1.6h-1.6zM144 239h1.6v1.6h-1.6zM143.9 240h1.6v1.6h-1.6zM144.1 241h1.6v1.6h-1.6zM144.9 225.1h1.6v1.6h-1.6zM145.1 236.1h1.6v1.6h-1.6zM144.7 240.1h1.6v1.6h-1.6zM144.8 241.1h1.6v1.6h-1.6zM145.7 230.7h1.6v1.6h-1.6zM146 235.7h1.6v1.6h-1.6zM146 240.7h1.6v1.6h-1.6zM146 241.7h1.6v1.6h-1.6zM146.7 227.6h1.6v1.6h-1.6zM147 235.6h1.6v1.6h-1.6zM147 236.6h1.6v1.6h-1.6zM146.8 238.6h1.6v1.6h-1.6zM147 239.6h1.6v1.6h-1.6zM147 240.6h1.6v1.6h-1.6zM147.9 232.7h1.6v1.6h-1.6zM147.9 233.7h1.6v1.6h-1.6zM148 234.7h1.6v1.6h-1.6zM147.8 235.7h1.6v1.6h-1.6zM147.8 236.7h1.6v1.6h-1.6zM147.8 237.7h1.6v1.6h-1.6zM147.7 238.7h1.6v1.6h-1.6zM147.8 239.7h1.6v1.6h-1.6zM147.9 240.7h1.6v1.6h-1.6zM148.8 235.8h1.6v1.6h-1.6zM149 237.8h1.6v1.6h-1.6zM149.1 239.8h1.6v1.6h-1.6zM150.1 237h1.6v1.6h-1.6zM150 239h1.6v1.6h-1.6zM149.9 240h1.6v1.6h-1.6zM151 232.4h1.6v1.6h-1.6zM151 238.4h1.6v1.6h-1.6zM150.8 239.4h1.6v1.6h-1.6zM150.9 240.4h1.6v1.6h-1.6zM151.9 236h1.6v1.6h-1.6zM151.8 237h1.6v1.6h-1.6zM152.1 239h1.6v1.6h-1.6zM153.1 234.1h1.6v1.6h-1.6zM153 235.1h1.6v1.6h-1.6zM152.9 236.1h1.6v1.6h-1.6zM152.8 237.1h1.6v1.6h-1.6zM152.8 238.1h1.6v1.6h-1.6zM153.8 224.8h1.6v1.6h-1.6zM153.8 225.8h1.6v1.6h-1.6zM153.8 226.8h1.6v1.6h-1.6zM153.7 229.8h1.6v1.6h-1.6zM153.9 230.8h1.6v1.6h-1.6zM154 232.8h1.6v1.6h-1.6zM154 233.8h1.6v1.6h-1.6zM153.8 234.8h1.6v1.6h-1.6zM153.9 235.8h1.6v1.6h-1.6zM154.1 236.8h1.6v1.6h-1.6zM153.9 238.8h1.6v1.6h-1.6zM154 239.8h1.6v1.6h-1.6zM154.6 237.3h1.6v1.6h-1.6zM154.9 239.3h1.6v1.6h-1.6zM154.8 240.3h1.6v1.6h-1.6zM131.1 208.2h1.6v1.6h-1.6zM131.1 209.2h1.6v1.6h-1.6zM131.1 210.2h1.6v1.6h-1.6zM131.1 212.2h1.6v1.6h-1.6zM131.1 214.2h1.6v1.6h-1.6zM131.1 216.2h1.6v1.6h-1.6zM131.1 217.2h1.6v1.6h-1.6zM131.1 218.2h1.6v1.6h-1.6zM131.1 219.2h1.6v1.6h-1.6zM131.1 220.2h1.6v1.6h-1.6zM131.1 222.2h1.6v1.6h-1.6zM131.1 223.2h1.6v1.6h-1.6zM131.1 224.2h1.6v1.6h-1.6zM131.1 225.2h1.6v1.6h-1.6zM131.1 228.2h1.6v1.6h-1.6zM131.1 229.2h1.6v1.6h-1.6zM131.1 230.2h1.6v1.6h-1.6zM131.1 231.2h1.6v1.6h-1.6zM131.1 232.2h1.6v1.6h-1.6zM131.1 233.2h1.6v1.6h-1.6zM131.1 234.2h1.6v1.6h-1.6zM131.1 235.2h1.6v1.6h-1.6zM131.1 236.2h1.6v1.6h-1.6zM131.1 237.2h1.6v1.6h-1.6zM131.1 238.2h1.6v1.6h-1.6zM131.1 239.2h1.6v1.6h-1.6zM131.1 240.2h1.6v1.6h-1.6zM144.1 214.8h1.6v1.6h-1.6zM144.2 224.8h1.6v1.6h-1.6zM144.2 228.8h1.6v1.6h-1.6zM143.9 229.8h1.6v1.6h-1.6zM144.1 230.8h1.6v1.6h-1.6zM144.2 231.8h1.6v1.6h-1.6zM144.3 232.8h1.6v1.6h-1.6zM143.9 233.8h1.6v1.6h-1.6zM144.3 234.8h1.6v1.6h-1.6zM144 235.8h1.6v1.6h-1.6zM144 236.8h1.6v1.6h-1.6zM144.1 237.8h1.6v1.6h-1.6zM144.2 238.8h1.6v1.6h-1.6zM144 239.8h1.6v1.6h-1.6zM144.2 240.8h1.6v1.6h-1.6zM131.1 196.9h1.6v1.6h-1.6zM131.1 199.1h1.6v1.6h-1.6zM144.1 194.1h1.6v1.6h-1.6zM144.1 198.4h1.6v1.6h-1.6zM144.1 201.6h1.6v1.6h-1.6zM144.1 206.1h1.6v1.6h-1.6zM144.1 207.5h1.6v1.6h-1.6zM144.1 211h1.6v1.6h-1.6zM125.5 208.2h1.6v1.6h-1.6zM126.2 213.2h1.6v1.6h-1.6zM128.3 216h1.6v1.6h-1.6zM135.6 211.5h1.6v1.6h-1.6zM141.2 211.5h1.6v1.6h-1.6zM141 215.2h1.6v1.6h-1.6zM132.5 218.1h1.6v1.6h-1.6zM131.1 218.8h1.6v1.6h-1.6zM152.2 216.7h1.6v1.6h-1.6zM152.9 220.2h1.6v1.6h-1.6zM136 220.9h1.6v1.6h-1.6zM125.9 208.6h1.6v1.6h-1.6zM151.8 216.5h1.6v1.6h-1.6z"/>
<path fill="#505050" d="M156,293.7 156,239.7 157,239.7 157,238.2 158,238.2 158,237.4 159,237.4 159,239.4 160,239.4 160,238.8 161,238.8 161,240 162,240 162,241.2 163,241.2 163,239.7 164,239.7 164,239.9 165,239.9 165,241.2 166,241.2 166,241.9 167,241.9 167,239.2 168,239.2 168,238.7 169,238.7 169,238.6 170,238.6 170,241.1 171,241.1 171,243 172,243 172,241.2 173,241.2 173,240.1 174,240.1 174,239.7 175,239.7 175,239.9 176,239.9 176,239.6 177,239.6 177,241.3 178,241.3 178,240.2 179,240.2 179,240.1 180,240.1 180,234.5 181,234.5 181,236.4 182,236.4 182,234 183,234 183,233.4 184,233.4 184,233 185,233 185,232.6 185.8,232.6 185.8,293.7ZM155.6 238.9h1.6v1.6h-1.6zM156.8 230.4h1.6v1.6h-1.6zM156.8 234.4h1.6v1.6h-1.6zM156.8 236.4h1.6v1.6h-1.6zM156.8 237.4h1.6v1.6h-1.6zM157.7 231.6h1.6v1.6h-1.6zM157.7 232.6h1.6v1.6h-1.6zM157.8 234.6h1.6v1.6h-1.6zM157.9 235.6h1.6v1.6h-1.6zM157.5 236.6h1.6v1.6h-1.6zM158.6 233.6h1.6v1.6h-1.6zM158.6 236.6h1.6v1.6h-1.6zM158.7 237.6h1.6v1.6h-1.6zM158.7 238.6h1.6v1.6h-1.6zM159.6 232h1.6v1.6h-1.6zM159.9 234h1.6v1.6h-1.6zM159.8 235h1.6v1.6h-1.6zM159.8 236h1.6v1.6h-1.6zM159.8 238h1.6v1.6h-1.6zM160.7 225.2h1.6v1.6h-1.6zM160.8 234.2h1.6v1.6h-1.6zM160.9 235.2h1.6v1.6h-1.6zM160.6 236.2h1.6v1.6h-1.6zM160.7 238.2h1.6v1.6h-1.6zM161.9 235.4h1.6v1.6h-1.6zM161.6 237.4h1.6v1.6h-1.6zM161.7 238.4h1.6v1.6h-1.6zM161.6 240.4h1.6v1.6h-1.6zM162.7 223.9h1.6v1.6h-1.6zM162.5 234.9h1.6v1.6h-1.6zM162.8 235.9h1.6v1.6h-1.6zM162.7 236.9h1.6v1.6h-1.6zM162.8 238.9h1.6v1.6h-1.6zM163.6 235.1h1.6v1.6h-1.6zM163.6 237.1h1.6v1.6h-1.6zM163.6 238.1h1.6v1.6h-1.6zM163.7 239.1h1.6v1.6h-1.6zM164.8 236.4h1.6v1.6h-1.6zM164.9 238.4h1.6v1.6h-1.6zM164.5 239.4h1.6v1.6h-1.6zM165.5 239.1h1.6v1.6h-1.6zM165.8 241.1h1.6v1.6h-1.6zM166.7 234.4h1.6v1.6h-1.6zM166.8 238.4h1.6v1.6h-1.6zM167.5 232.9h1.6v1.6h-1.6zM167.5 233.9h1.6v1.6h-1.6zM167.6 236.9h1.6v1.6h-1.6zM167.5 237.9h1.6v1.6h-1.6zM168.5 226.8h1.6v1.6h-1.6zM168.9 227.8h1.6v1.6h-1.6zM168.9 229.8h1.6v1.6h-1.6zM168.9 230.8h1.6v1.6h-1.6zM168.9 231.8h1.6v1.6h-1.6zM168.8 232.8h1.6v1.6h-1.6zM168.7 233.8h1.6v1.6h-1.6zM168.7 234.8h1.6v1.6h-1.6zM168.8 237.8h1.6v1.6h-1.6zM169.6 232.3h1.6v1.6h-1.6zM169.6 239.3h1.6v1.6h-1.6zM170.9 240.2h1.6v1.6h-1.6zM171.7 230.4h1.6v1.6h-1.6zM171.8 231.4h1.6v1.6h-1.6zM171.8 232.4h1.6v1.6h-1.6zM171.7 234.4h1.6v1.6h-1.6zM171.8 235.4h1.6v1.6h-1.6zM171.8 236.4h1.6v1.6h-1.6zM171.8 238.4h1.6v1.6h-1.6zM171.6 239.4h1.6v1.6h-1.6zM171.9 240.4h1.6v1.6h-1.6zM172.7 230.3h1.6v1.6h-1.6zM172.8 233.3h1.6v1.6h-1.6zM172.9 234.3h1.6v1.6h-1.6zM172.6 235.3h1.6v1.6h-1.6zM172.8 236.3h1.6v1.6h-1.6zM172.7 238.3h1.6v1.6h-1.6zM173.8 229.9h1.6v1.6h-1.6zM173.7 233.9h1.6v1.6h-1.6zM173.6 234.9h1.6v1.6h-1.6zM173.7 235.9h1.6v1.6h-1.6zM173.5 236.9h1.6v1.6h-1.6zM173.6 237.9h1.6v1.6h-1.6zM173.6 238.9h1.6v1.6h-1.6zM174.8 239.1h1.6v1.6h-1.6zM175.9 230.8h1.6v1.6h-1.6zM175.5 231.8h1.6v1.6h-1.6zM175.6 232.8h1.6v1.6h-1.6zM175.9 233.8h1.6v1.6h-1.6zM175.6 234.8h1.6v1.6h-1.6zM175.9 237.8h1.6v1.6h-1.6zM175.6 238.8h1.6v1.6h-1.6zM176.7 235.5h1.6v1.6h-1.6zM176.9 238.5h1.6v1.6h-1.6zM176.8 239.5h1.6v1.6h-1.6zM176.7 240.5h1.6v1.6h-1.6zM177.7 221.4h1.6v1.6h-1.6zM177.6 234.4h1.6v1.6h-1.6zM177.5 237.4h1.6v1.6h-1.6zM177.8 239.4h1.6v1.6h-1.6zM178.6 233.3h1.6v1.6h-1.6zM178.7 235.3h1.6v1.6h-1.6zM178.6 236.3h1.6v1.6h-1.6zM178.5 237.3h1.6v1.6h-1.6zM178.6 238.3h1.6v1.6h-1.6zM178.7 239.3h1.6v1.6h-1.6zM179.9 221.7h1.6v1.6h-1.6zM179.9 231.7h1.6v1.6h-1.6zM179.7 233.7h1.6v1.6h-1.6zM180.8 231.6h1.6v1.6h-1.6zM180.9 232.6h1.6v1.6h-1.6zM180.5 233.6h1.6v1.6h-1.6zM180.8 234.6h1.6v1.6h-1.6zM180.7 235.6h1.6v1.6h-1.6zM181.5 224.2h1.6v1.6h-1.6zM181.8 227.2h1.6v1.6h-1.6zM181.5 228.2h1.6v1.6h-1.6zM181.7 230.2h1.6v1.6h-1.6zM181.7 231.2h1.6v1.6h-1.6zM181.9 232.2h1.6v1.6h-1.6zM181.7 233.2h1.6v1.6h-1.6zM182.7 221.6h1.6v1.6h-1.6zM182.7 228.6h1.6v1.6h-1.6zM182.9 229.6h1.6v1.6h-1.6zM182.6 230.6h1.6v1.6h-1.6zM182.7 231.6h1.6v1.6h-1.6zM183.7 217.2h1.6v1.6h-1.6zM183.7 219.2h1.6v1.6h-1.6zM183.8 221.2h1.6v1.6h-1.6zM183.6 223.2h1.6v1.6h-1.6zM183.6 225.2h1.6v1.6h-1.6zM183.9 227.2h1.6v1.6h-1.6zM183.8 228.2h1.6v1.6h-1.6zM183.8 230.2h1.6v1.6h-1.6zM183.7 231.2h1.6v1.6h-1.6zM184.7 219.8h1.6v1.6h-1.6zM184.7 222.8h1.6v1.6h-1.6zM184.5 223.8h1.6v1.6h-1.6zM184.7 224.8h1.6v1.6h-1.6zM184.6 225.8h1.6v1.6h-1.6zM184.7 226.8h1.6v1.6h-1.6zM184.6 228.8h1.6v1.6h-1.6zM184.6 229.8h1.6v1.6h-1.6zM184.7 230.8h1.6v1.6h-1.6zM184.5 231.8h1.6v1.6h-1.6zM158.4 213.4h1.6v1.6h-1.6zM158.4 218.4h1.6v1.6h-1.6zM158.4 219.4h1.6v1.6h-1.6zM158.4 220.4h1.6v1.6h-1.6zM158.4 223.4h1.6v1.6h-1.6zM158.4 225.4h1.6v1.6h-1.6zM158.4 228.4h1.6v1.6h-1.6zM158.4 229.4h1.6v1.6h-1.6zM158.4 231.4h1.6v1.6h-1.6zM158.4 232.4h1.6v1.6h-1.6zM158.4 233.4h1.6v1.6h-1.6zM158.4 234.4h1.6v1.6h-1.6zM158.4 235.4h1.6v1.6h-1.6zM158.4 237.4h1.6v1.6h-1.6zM158.4 238.4h1.6v1.6h-1.6zM162.5 213.2h1.6v1.6h-1.6zM162.5 214.2h1.6v1.6h-1.6zM162.5 217.2h1.6v1.6h-1.6zM162.5 221.2h1.6v1.6h-1.6zM162.5 223.2h1.6v1.6h-1.6zM162.5 224.2h1.6v1.6h-1.6zM162.5 225.2h1.6v1.6h-1.6zM162.5 226.2h1.6v1.6h-1.6zM162.5 227.2h1.6v1.6h-1.6zM162.5 228.2h1.6v1.6h-1.6zM162.5 229.2h1.6v1.6h-1.6zM162.5 230.2h1.6v1.6h-1.6zM162.5 231.2h1.6v1.6h-1.6zM162.5 232.2h1.6v1.6h-1.6zM162.5 233.2h1.6v1.6h-1.6zM162.5 234.2h1.6v1.6h-1.6zM162.5 235.2h1.6v1.6h-1.6zM162.5 236.2h1.6v1.6h-1.6zM162.5 237.2h1.6v1.6h-1.6zM162.5 238.2h1.6v1.6h-1.6zM168.9 214.6h1.6v1.6h-1.6zM168.9 220.6h1.6v1.6h-1.6zM168.9 221.6h1.6v1.6h-1.6zM168.9 223.6h1.6v1.6h-1.6zM168.9 224.6h1.6v1.6h-1.6zM168.9 228.6h1.6v1.6h-1.6zM168.9 229.6h1.6v1.6h-1.6zM168.9 230.6h1.6v1.6h-1.6zM168.9 231.6h1.6v1.6h-1.6zM168.9 232.6h1.6v1.6h-1.6zM168.9 233.6h1.6v1.6h-1.6zM168.9 234.6h1.6v1.6h-1.6zM168.9 236.6h1.6v1.6h-1.6zM168.9 237.6h1.6v1.6h-1.6zM168.9 238.6h1.6v1.6h-1.6zM168.9 239.6h1.6v1.6h-1.6zM183.5 218.1h1.6v1.6h-1.6zM183.5 219.1h1.6v1.6h-1.6zM183.5 220.1h1.6v1.6h-1.6zM183.3 224.1h1.6v1.6h-1.6zM183.6 225.1h1.6v1.6h-1.6zM183.6 228.1h1.6v1.6h-1.6zM183.6 229.1h1.6v1.6h-1.6zM183.6 230.1h1.6v1.6h-1.6zM183.3 232.1h1.6v1.6h-1.6zM183.6 233.1h1.6v1.6h-1.6zM162.7 201.6h1.6v1.6h-1.6zM158.4 206.8h1.6v1.6h-1.6zM162.7 206.1h1.6v1.6h-1.6zM165.2 208.6h1.6v1.6h-1.6zM161.2 212.4h1.6v1.6h-1.6zM164.8 215.2h1.6v1.6h-1.6zM168.3 215.2h1.6v1.6h-1.6zM181.7 201.6h1.6v1.6h-1.6zM181.7 207.5h1.6v1.6h-1.6zM183.1 212.4h1.6v1.6h-1.6zM179.6 220.2h1.6v1.6h-1.6zM157.6 207.5h1.6v1.6h-1.6z"/>
<path fill="#EB0F50" d="M185.8,293.7 185.8,238.6 186.8,238.6 186.8,238 187.8,238 187.8,238.9 188.8,238.9 188.8,239.6 189.8,239.6 189.8,238 190.8,238 190.8,237.4 191.8,237.4 191.8,237.9 192.8,237.9 192.8,239.8 193.8,239.8 193.8,238.2 194.8,238.2 194.8,236.4 195.8,236.4 195.8,236.4 196.8,236.4 196.8,239.2 197.8,239.2 197.8,238.6 198.8,238.6 198.8,239.2 199.8,239.2 199.8,238.5 200.8,238.5 200.8,239.7 201.8,239.7 201.8,240.1 202.8,240.1 202.8,239.2 203.8,239.2 203.8,240.4 204.8,240.4 204.8,237.3 205.8,237.3 205.8,236.8 206.8,236.8 206.8,237.3 207.8,237.3 207.8,236.9 208.8,236.9 208.8,238.2 209.8,238.2 209.8,237.2 210.8,237.2 210.8,238.9 211.8,238.9 211.8,237.1 212.8,237.1 212.8,237.9 213.8,237.9 213.8,238.6 214.2,238.6 214.2,293.7ZM185.5 221.8h1.6v1.6h-1.6zM185.6 227.8h1.6v1.6h-1.6zM185.6 228.8h1.6v1.6h-1.6zM185.3 230.8h1.6v1.6h-1.6zM185.5 232.8h1.6v1.6h-1.6zM185.6 235.8h1.6v1.6h-1.6zM185.7 237.8h1.6v1.6h-1.6zM186.4 232.2h1.6v1.6h-1.6zM186.7 233.2h1.6v1.6h-1.6zM186.6 234.2h1.6v1.6h-1.6zM186.5 235.2h1.6v1.6h-1.6zM187.5 226.1h1.6v1.6h-1.6zM187.6 229.1h1.6v1.6h-1.6zM187.4 231.1h1.6v1.6h-1.6zM187.5 234.1h1.6v1.6h-1.6zM187.5 236.1h1.6v1.6h-1.6zM187.4 238.1h1.6v1.6h-1.6zM188.4 234.8h1.6v1.6h-1.6zM188.3 235.8h1.6v1.6h-1.6zM188.4 237.8h1.6v1.6h-1.6zM188.7 238.8h1.6v1.6h-1.6zM189.7 228.2h1.6v1.6h-1.6zM189.4 229.2h1.6v1.6h-1.6zM189.4 230.2h1.6v1.6h-1.6zM189.4 232.2h1.6v1.6h-1.6zM189.6 233.2h1.6v1.6h-1.6zM189.4 234.2h1.6v1.6h-1.6zM189.5 237.2h1.6v1.6h-1.6zM190.6 223.6h1.6v1.6h-1.6zM190.5 224.6h1.6v1.6h-1.6zM190.7 226.6h1.6v1.6h-1.6zM190.4 228.6h1.6v1.6h-1.6zM190.3 229.6h1.6v1.6h-1.6zM190.4 230.6h1.6v1.6h-1.6zM190.5 231.6h1.6v1.6h-1.6zM190.5 233.6h1.6v1.6h-1.6zM190.6 234.6h1.6v1.6h-1.6zM190.6 235.6h1.6v1.6h-1.6zM190.4 236.6h1.6v1.6h-1.6zM191.4 215.1h1.6v1.6h-1.6zM191.6 217.1h1.6v1.6h-1.6zM191.6 221.1h1.6v1.6h-1.6zM191.4 222.1h1.6v1.6h-1.6zM191.4 223.1h1.6v1.6h-1.6zM191.7 226.1h1.6v1.6h-1.6zM191.5 227.1h1.6v1.6h-1.6zM191.6 229.1h1.6v1.6h-1.6zM191.6 230.1h1.6v1.6h-1.6zM191.4 233.1h1.6v1.6h-1.6zM191.4 234.1h1.6v1.6h-1.6zM191.3 235.1h1.6v1.6h-1.6zM191.3 236.1h1.6v1.6h-1.6zM191.6 237.1h1.6v1.6h-1.6zM192.7 217h1.6v1.6h-1.6zM192.5 226h1.6v1.6h-1.6zM192.6 229h1.6v1.6h-1.6zM192.4 233h1.6v1.6h-1.6zM192.4 234h1.6v1.6h-1.6zM192.4 236h1.6v1.6h-1.6zM192.3 239h1.6v1.6h-1.6zM193.6 232.4h1.6v1.6h-1.6zM193.5 236.4h1.6v1.6h-1.6zM193.6 237.4h1.6v1.6h-1.6zM194.6 232.6h1.6v1.6h-1.6zM194.4 234.6h1.6v1.6h-1.6zM194.5 235.6h1.6v1.6h-1.6zM195.5 213.6h1.6v1.6h-1.6zM195.4 221.6h1.6v1.6h-1.6zM195.4 222.6h1.6v1.6h-1.6zM195.4 224.6h1.6v1.6h-1.6zM195.6 225.6h1.6v1.6h-1.6zM195.6 226.6h1.6v1.6h-1.6zM195.5 227.6h1.6v1.6h-1.6zM195.6 228.6h1.6v1.6h-1.6zM195.4 229.6h1.6v1.6h-1.6zM195.6 230.6h1.6v1.6h-1.6zM195.6 232.6h1.6v1.6h-1.6zM195.5 233.6h1.6v1.6h-1.6zM195.4 235.6h1.6v1.6h-1.6zM196.3 235.4h1.6v1.6h-1.6zM196.5 236.4h1.6v1.6h-1.6zM196.6 237.4h1.6v1.6h-1.6zM196.5 238.4h1.6v1.6h-1.6zM197.6 237.8h1.6v1.6h-1.6zM198.6 235.4h1.6v1.6h-1.6zM198.4 236.4h1.6v1.6h-1.6zM198.7 237.4h1.6v1.6h-1.6zM198.6 238.4h1.6v1.6h-1.6zM199.4 234.7h1.6v1.6h-1.6zM199.7 235.7h1.6v1.6h-1.6zM200.5 227.9h1.6v1.6h-1.6zM200.5 231.9h1.6v1.6h-1.6zM200.3 233.9h1.6v1.6h-1.6zM200.7 235.9h1.6v1.6h-1.6zM200.5 236.9h1.6v1.6h-1.6zM200.4 237.9h1.6v1.6h-1.6zM200.4 238.9h1.6v1.6h-1.6zM201.5 237.3h1.6v1.6h-1.6zM201.5 239.3h1.6v1.6h-1.6zM202.5 238.4h1.6v1.6h-1.6zM203.4 233.6h1.6v1.6h-1.6zM203.6 236.6h1.6v1.6h-1.6zM203.3 238.6h1.6v1.6h-1.6zM203.5 239.6h1.6v1.6h-1.6zM204.4 231.5h1.6v1.6h-1.6zM204.5 232.5h1.6v1.6h-1.6zM204.7 233.5h1.6v1.6h-1.6zM204.4 235.5h1.6v1.6h-1.6zM204.5 236.5h1.6v1.6h-1.6zM205.6 229h1.6v1.6h-1.6zM205.5 232h1.6v1.6h-1.6zM205.4 233h1.6v1.6h-1.6zM205.5 234h1.6v1.6h-1.6zM205.5 236h1.6v1.6h-1.6zM206.4 212.5h1.6v1.6h-1.6zM206.7 214.5h1.6v1.6h-1.6zM206.3 215.5h1.6v1.6h-1.6zM206.4 216.5h1.6v1.6h-1.6zM206.4 218.5h1.6v1.6h-1.6zM206.4 219.5h1.6v1.6h-1.6zM206.6 222.5h1.6v1.6h-1.6zM206.4 223.5h1.6v1.6h-1.6zM206.6 224.5h1.6v1.6h-1.6zM206.5 225.5h1.6v1.6h-1.6zM206.4 227.5h1.6v1.6h-1.6zM206.5 228.5h1.6v1.6h-1.6zM206.3 229.5h1.6v1.6h-1.6zM206.5 230.5h1.6v1.6h-1.6zM206.5 231.5h1.6v1.6h-1.6zM206.6 232.5h1.6v1.6h-1.6zM206.6 233.5h1.6v1.6h-1.6zM206.5 235.5h1.6v1.6h-1.6zM206.4 236.5h1.6v1.6h-1.6zM207.5 215.1h1.6v1.6h-1.6zM207.6 217.1h1.6v1.6h-1.6zM207.5 218.1h1.6v1.6h-1.6zM207.5 220.1h1.6v1.6h-1.6zM207.6 221.1h1.6v1.6h-1.6zM207.4 222.1h1.6v1.6h-1.6zM207.6 224.1h1.6v1.6h-1.6zM207.4 227.1h1.6v1.6h-1.6zM207.6 228.1h1.6v1.6h-1.6zM207.4 229.1h1.6v1.6h-1.6zM207.3 231.1h1.6v1.6h-1.6zM207.5 233.1h1.6v1.6h-1.6zM207.7 234.1h1.6v1.6h-1.6zM207.5 235.1h1.6v1.6h-1.6zM207.5 236.1h1.6v1.6h-1.6zM208.4 220.4h1.6v1.6h-1.6zM208.4 234.4h1.6v1.6h-1.6zM209.6 227.4h1.6v1.6h-1.6zM209.5 232.4h1.6v1.6h-1.6zM209.4 233.4h1.6v1.6h-1.6zM209.7 235.4h1.6v1.6h-1.6zM209.6 236.4h1.6v1.6h-1.6zM210.6 227.1h1.6v1.6h-1.6zM210.3 228.1h1.6v1.6h-1.6zM210.4 230.1h1.6v1.6h-1.6zM210.5 231.1h1.6v1.6h-1.6zM210.3 232.1h1.6v1.6h-1.6zM210.7 233.1h1.6v1.6h-1.6zM210.4 234.1h1.6v1.6h-1.6zM210.6 236.1h1.6v1.6h-1.6zM210.7 238.1h1.6v1.6h-1.6zM211.5 224.3h1.6v1.6h-1.6zM211.7 225.3h1.6v1.6h-1.6zM211.4 227.3h1.6v1.6h-1.6zM211.5 228.3h1.6v1.6h-1.6zM211.5 231.3h1.6v1.6h-1.6zM211.5 233.3h1.6v1.6h-1.6zM211.5 234.3h1.6v1.6h-1.6zM211.6 235.3h1.6v1.6h-1.6zM211.7 236.3h1.6v1.6h-1.6zM212.3 234.1h1.6v1.6h-1.6zM212.6 236.1h1.6v1.6h-1.6zM212.7 237.1h1.6v1.6h-1.6zM213.2 233.8h1.6v1.6h-1.6zM213.4 235.8h1.6v1.6h-1.6zM206.4 215.2h1.6v1.6h-1.6zM206.4 217.2h1.6v1.6h-1.6zM206.2 218.2h1.6v1.6h-1.6zM206.4 219.2h1.6v1.6h-1.6zM206.1 221.2h1.6v1.6h-1.6zM206.3 224.2h1.6v1.6h-1.6zM206.3 225.2h1.6v1.6h-1.6zM206.2 227.2h1.6v1.6h-1.6zM206.1 228.2h1.6v1.6h-1.6zM206.2 229.2h1.6v1.6h-1.6zM206 231.2h1.6v1.6h-1.6zM206.1 232.2h1.6v1.6h-1.6zM206.4 233.2h1.6v1.6h-1.6zM206.4 234.2h1.6v1.6h-1.6zM206.4 235.2h1.6v1.6h-1.6zM206.1 236.2h1.6v1.6h-1.6zM212.5 209.9h1.6v1.6h-1.6zM212.5 212.9h1.6v1.6h-1.6zM212.5 213.9h1.6v1.6h-1.6zM212.5 214.9h1.6v1.6h-1.6zM212.5 215.9h1.6v1.6h-1.6zM212.5 216.9h1.6v1.6h-1.6zM212.5 220.9h1.6v1.6h-1.6zM212.5 222.9h1.6v1.6h-1.6zM212.5 225.9h1.6v1.6h-1.6zM212.5 226.9h1.6v1.6h-1.6zM212.5 227.9h1.6v1.6h-1.6zM212.5 228.9h1.6v1.6h-1.6zM212.5 230.9h1.6v1.6h-1.6zM212.5 231.9h1.6v1.6h-1.6zM212.5 232.9h1.6v1.6h-1.6zM212.5 233.9h1.6v1.6h-1.6zM212.5 234.9h1.6v1.6h-1.6zM212.5 235.9h1.6v1.6h-1.6zM187.7 212h1.6v1.6h-1.6zM187.7 214h1.6v1.6h-1.6zM187.7 215h1.6v1.6h-1.6zM187.7 218h1.6v1.6h-1.6zM187.7 219h1.6v1.6h-1.6zM187.7 220h1.6v1.6h-1.6zM187.7 222h1.6v1.6h-1.6zM187.7 223h1.6v1.6h-1.6zM187.7 225h1.6v1.6h-1.6zM187.7 226h1.6v1.6h-1.6zM187.7 228h1.6v1.6h-1.6zM187.7 229h1.6v1.6h-1.6zM187.7 230h1.6v1.6h-1.6zM187.7 231h1.6v1.6h-1.6zM187.7 232h1.6v1.6h-1.6zM187.7 233h1.6v1.6h-1.6zM187.7 234h1.6v1.6h-1.6zM187.7 235h1.6v1.6h-1.6zM187.7 236h1.6v1.6h-1.6zM187.7 237h1.6v1.6h-1.6zM187.3 206.8h1.6v1.6h-1.6zM188 211h1.6v1.6h-1.6zM187.3 218.1h1.6v1.6h-1.6zM196.5 219.5h1.6v1.6h-1.6zM191.5 220.9h1.6v1.6h-1.6zM200.5 206.8h1.6v1.6h-1.6zM206.2 211h1.6v1.6h-1.6zM197 219.5h1.6v1.6h-1.6zM203.4 216h1.6v1.6h-1.6zM207.6 218.1h1.6v1.6h-1.6z"/>
<path fill="#000000" d="M214.2,293.7 214.2,244.9 215.2,244.9 215.2,244.1 216.2,244.1 216.2,245.2 217.2,245.2 217.2,242.9 218.2,242.9 218.2,244.1 219.2,244.1 219.2,244.6 220.2,244.6 220.2,242.4 221.2,242.4 221.2,244.9 222.2,244.9 222.2,242.9 223.2,242.9 223.2,241.7 224.2,241.7 224.2,241.4 225.2,241.4 225.2,241.8 226.2,241.8 226.2,242.7 227.2,242.7 227.2,242.5 228.2,242.5 228.2,242.2 229.2,242.2 229.2,242.9 230.2,242.9 230.2,244.9 231.2,244.9 231.2,244.3 232.2,244.3 232.2,243.3 233.2,243.3 233.2,244.5 234.2,244.5 234.2,243.5 235.2,243.5 235.2,241.8 236.2,241.8 236.2,241.7 237.2,241.7 237.2,241 238.2,241 238.2,240.2 239.2,240.2 239.2,240 240.2,240 240.2,242.5 241.2,242.5 241.2,244.5 241.7,244.5 241.7,293.7ZM213.7 241.1h1.6v1.6h-1.6zM214 243.1h1.6v1.6h-1.6zM213.9 244.1h1.6v1.6h-1.6zM214.7 223.3h1.6v1.6h-1.6zM214.9 225.3h1.6v1.6h-1.6zM214.7 226.3h1.6v1.6h-1.6zM214.8 227.3h1.6v1.6h-1.6zM214.7 230.3h1.6v1.6h-1.6zM215.1 232.3h1.6v1.6h-1.6zM215 234.3h1.6v1.6h-1.6zM214.8 235.3h1.6v1.6h-1.6zM214.8 236.3h1.6v1.6h-1.6zM215 237.3h1.6v1.6h-1.6zM215.1 238.3h1.6v1.6h-1.6zM214.9 239.3h1.6v1.6h-1.6zM214.9 240.3h1.6v1.6h-1.6zM215 241.3h1.6v1.6h-1.6zM214.9 242.3h1.6v1.6h-1.6zM214.9 243.3h1.6v1.6h-1.6zM216 242.4h1.6v1.6h-1.6zM216.9 238.1h1.6v1.6h-1.6zM216.8 239.1h1.6v1.6h-1.6zM217 240.1h1.6v1.6h-1.6zM217 241.1h1.6v1.6h-1.6zM216.8 242.1h1.6v1.6h-1.6zM217.7 233.3h1.6v1.6h-1.6zM217.8 242.3h1.6v1.6h-1.6zM217.7 243.3h1.6v1.6h-1.6zM219.1 233.8h1.6v1.6h-1.6zM218.8 236.8h1.6v1.6h-1.6zM219 237.8h1.6v1.6h-1.6zM219.1 238.8h1.6v1.6h-1.6zM219.1 239.8h1.6v1.6h-1.6zM218.8 240.8h1.6v1.6h-1.6zM219 242.8h1.6v1.6h-1.6zM218.8 243.8h1.6v1.6h-1.6zM219.7 230.6h1.6v1.6h-1.6zM220 235.6h1.6v1.6h-1.6zM220 236.6h1.6v1.6h-1.6zM220 237.6h1.6v1.6h-1.6zM220.1 238.6h1.6v1.6h-1.6zM220 239.6h1.6v1.6h-1.6zM219.9 241.6h1.6v1.6h-1.6zM220.7 234.1h1.6v1.6h-1.6zM220.8 241.1h1.6v1.6h-1.6zM220.8 243.1h1.6v1.6h-1.6zM221 244.1h1.6v1.6h-1.6zM222 231.1h1.6v1.6h-1.6zM221.9 233.1h1.6v1.6h-1.6zM221.7 234.1h1.6v1.6h-1.6zM221.9 235.1h1.6v1.6h-1.6zM221.9 237.1h1.6v1.6h-1.6zM221.9 238.1h1.6v1.6h-1.6zM222.1 239.1h1.6v1.6h-1.6zM222 240.1h1.6v1.6h-1.6zM221.7 241.1h1.6v1.6h-1.6zM223 229.9h1.6v1.6h-1.6zM223 231.9h1.6v1.6h-1.6zM223 235.9h1.6v1.6h-1.6zM222.8 236.9h1.6v1.6h-1.6zM222.7 238.9h1.6v1.6h-1.6zM223 240.9h1.6v1.6h-1.6zM223.9 221.6h1.6v1.6h-1.6zM223.8 229.6h1.6v1.6h-1.6zM223.8 231.6h1.6v1.6h-1.6zM224 232.6h1.6v1.6h-1.6zM223.9 233.6h1.6v1.6h-1.6zM224 234.6h1.6v1.6h-1.6zM223.7 236.6h1.6v1.6h-1.6zM223.7 237.6h1.6v1.6h-1.6zM224 238.6h1.6v1.6h-1.6zM223.8 239.6h1.6v1.6h-1.6zM224.9 219h1.6v1.6h-1.6zM225 220h1.6v1.6h-1.6zM224.8 222h1.6v1.6h-1.6zM225 223h1.6v1.6h-1.6zM224.8 224h1.6v1.6h-1.6zM225 225h1.6v1.6h-1.6zM225.1 226h1.6v1.6h-1.6zM224.8 227h1.6v1.6h-1.6zM224.8 228h1.6v1.6h-1.6zM224.8 229h1.6v1.6h-1.6zM224.9 230h1.6v1.6h-1.6zM225 232h1.6v1.6h-1.6zM224.8 233h1.6v1.6h-1.6zM224.8 236h1.6v1.6h-1.6zM225 237h1.6v1.6h-1.6zM225.1 239h1.6v1.6h-1.6zM225 241h1.6v1.6h-1.6zM225.8 235.9h1.6v1.6h-1.6zM225.8 237.9h1.6v1.6h-1.6zM226 238.9h1.6v1.6h-1.6zM226 240.9h1.6v1.6h-1.6zM226.1 241.9h1.6v1.6h-1.6zM226.8 229.7h1.6v1.6h-1.6zM227.1 230.7h1.6v1.6h-1.6zM227 231.7h1.6v1.6h-1.6zM226.9 232.7h1.6v1.6h-1.6zM227 233.7h1.6v1.6h-1.6zM226.8 235.7h1.6v1.6h-1.6zM227.1 236.7h1.6v1.6h-1.6zM226.9 237.7h1.6v1.6h-1.6zM227 238.7h1.6v1.6h-1.6zM226.8 239.7h1.6v1.6h-1.6zM226.8 240.7h1.6v1.6h-1.6zM227.7 233.4h1.6v1.6h-1.6zM228.1 235.4h1.6v1.6h-1.6zM228 239.4h1.6v1.6h-1.6zM227.9 240.4h1.6v1.6h-1.6zM228.9 225.1h1.6v1.6h-1.6zM228.7 237.1h1.6v1.6h-1.6zM229.1 240.1h1.6v1.6h-1.6zM228.9 242.1h1.6v1.6h-1.6zM230 230.1h1.6v1.6h-1.6zM230 232.1h1.6v1.6h-1.6zM230 236.1h1.6v1.6h-1.6zM230 237.1h1.6v1.6h-1.6zM230 238.1h1.6v1.6h-1.6zM229.7 240.1h1.6v1.6h-1.6zM230.1 243.1h1.6v1.6h-1.6zM230 244.1h1.6v1.6h-1.6zM230.8 228.5h1.6v1.6h-1.6zM230.8 242.5h1.6v1.6h-1.6zM230.8 243.5h1.6v1.6h-1.6zM231.7 234.5h1.6v1.6h-1.6zM232.1 236.5h1.6v1.6h-1.6zM232.1 241.5h1.6v1.6h-1.6zM231.9 242.5h1.6v1.6h-1.6zM233 238.7h1.6v1.6h-1.6zM232.8 239.7h1.6v1.6h-1.6zM233.1 242.7h1.6v1.6h-1.6zM232.8 243.7h1.6v1.6h-1.6zM234 227.7h1.6v1.6h-1.6zM233.9 236.7h1.6v1.6h-1.6zM234 237.7h1.6v1.6h-1.6zM233.8 239.7h1.6v1.6h-1.6zM234.1 240.7h1.6v1.6h-1.6zM233.7 241.7h1.6v1.6h-1.6zM235 231h1.6v1.6h-1.6zM234.9 237h1.6v1.6h-1.6zM234.8 240h1.6v1.6h-1.6zM236 235.9h1.6v1.6h-1.6zM235.9 239.9h1.6v1.6h-1.6zM236.8 230.2h1.6v1.6h-1.6zM237.1 236.2h1.6v1.6h-1.6zM236.8 238.2h1.6v1.6h-1.6zM237.8 217.4h1.6v1.6h-1.6zM238 218.4h1.6v1.6h-1.6zM238.1 219.4h1.6v1.6h-1.6zM238.1 220.4h1.6v1.6h-1.6zM237.9 221.4h1.6v1.6h-1.6zM238 222.4h1.6v1.6h-1.6zM237.7 224.4h1.6v1.6h-1.6zM237.9 225.4h1.6v1.6h-1.6zM237.9 226.4h1.6v1.6h-1.6zM237.9 228.4h1.6v1.6h-1.6zM238 229.4h1.6v1.6h-1.6zM237.8 230.4h1.6v1.6h-1.6zM237.8 232.4h1.6v1.6h-1.6zM237.8 233.4h1.6v1.6h-1.6zM237.8 235.4h1.6v1.6h-1.6zM237.8 237.4h1.6v1.6h-1.6zM237.9 238.4h1.6v1.6h-1.6zM237.8 239.4h1.6v1.6h-1.6zM238.9 230.2h1.6v1.6h-1.6zM238.9 231.2h1.6v1.6h-1.6zM239 233.2h1.6v1.6h-1.6zM238.8 237.2h1.6v1.6h-1.6zM238.9 239.2h1.6v1.6h-1.6zM239.8 230.7h1.6v1.6h-1.6zM240.1 231.7h1.6v1.6h-1.6zM240 232.7h1.6v1.6h-1.6zM240 233.7h1.6v1.6h-1.6zM240 235.7h1.6v1.6h-1.6zM239.9 236.7h1.6v1.6h-1.6zM239.7 238.7h1.6v1.6h-1.6zM239.9 239.7h1.6v1.6h-1.6zM240.1 240.7h1.6v1.6h-1.6zM240 241.7h1.6v1.6h-1.6zM240.5 220.7h1.6v1.6h-1.6zM240.7 221.7h1.6v1.6h-1.6zM240.8 222.7h1.6v1.6h-1.6zM240.6 224.7h1.6v1.6h-1.6zM240.5 228.7h1.6v1.6h-1.6zM240.6 229.7h1.6v1.6h-1.6zM240.7 230.7h1.6v1.6h-1.6zM240.6 232.7h1.6v1.6h-1.6zM240.7 233.7h1.6v1.6h-1.6zM240.5 234.7h1.6v1.6h-1.6zM240.6 235.7h1.6v1.6h-1.6zM240.7 236.7h1.6v1.6h-1.6zM240.7 237.7h1.6v1.6h-1.6zM240.6 238.7h1.6v1.6h-1.6zM240.8 239.7h1.6v1.6h-1.6zM240.7 240.7h1.6v1.6h-1.6zM240.6 243.7h1.6v1.6h-1.6zM215.4 216.2h1.6v1.6h-1.6zM215.4 223.2h1.6v1.6h-1.6zM215.5 224.2h1.6v1.6h-1.6zM215.8 227.2h1.6v1.6h-1.6zM215.6 228.2h1.6v1.6h-1.6zM215.6 229.2h1.6v1.6h-1.6zM215.5 230.2h1.6v1.6h-1.6zM215.8 231.2h1.6v1.6h-1.6zM215.4 232.2h1.6v1.6h-1.6zM215.6 234.2h1.6v1.6h-1.6zM215.8 235.2h1.6v1.6h-1.6zM215.5 236.2h1.6v1.6h-1.6zM215.5 239.2h1.6v1.6h-1.6zM215.7 240.2h1.6v1.6h-1.6zM215.8 241.2h1.6v1.6h-1.6zM215.4 242.2h1.6v1.6h-1.6zM231.5 206.8h1.6v1.6h-1.6zM227.3 212.4h1.6v1.6h-1.6zM228.7 218.1h1.6v1.6h-1.6zM224.5 220.9h1.6v1.6h-1.6zM220.2 222.3h1.6v1.6h-1.6zM236.5 219.5h1.6v1.6h-1.6zM230.8 223h1.6v1.6h-1.6zM239.2 221.6h1.6v1.6h-1.6zM226.2 212h1.6v1.6h-1.6zM221.8 219.9h1.6v1.6h-1.6z"/>
<path fill="#5019C8" d="M241.7,293.7 241.7,235.2 242.7,235.2 242.7,235 243.7,235 243.7,235.2 244.7,235.2 244.7,236.1 245.7,236.1 245.7,237.8 246.7,237.8 246.7,238.4 247.7,238.4 247.7,239.3 248.7,239.3 248.7,236.5 249.7,236.5 249.7,235.9 250.7,235.9 250.7,238.1 251.7,238.1 251.7,236.7 252.7,236.7 252.7,236 253.7,236 253.7,237.7 254.7,237.7 254.7,236 255.7,236 255.7,237.9 256.7,237.9 256.7,241.4 257.7,241.4 257.7,246.5 258.7,246.5 258.7,245.6 259.7,245.6 259.7,246.3 260.7,246.3 260.7,245.5 261.7,245.5 261.7,243.6 262.7,243.6 262.7,242.3 263.7,242.3 263.7,242.1 264.7,242.1 264.7,244.1 265.7,244.1 265.7,243.3 266.3,243.3 266.3,293.7ZM241.3 224.4h1.6v1.6h-1.6zM241.5 228.4h1.6v1.6h-1.6zM241.3 229.4h1.6v1.6h-1.6zM241.3 230.4h1.6v1.6h-1.6zM241.5 231.4h1.6v1.6h-1.6zM241.2 232.4h1.6v1.6h-1.6zM241.4 233.4h1.6v1.6h-1.6zM241.3 234.4h1.6v1.6h-1.6zM242.3 222.2h1.6v1.6h-1.6zM242.5 231.2h1.6v1.6h-1.6zM242.6 232.2h1.6v1.6h-1.6zM242.2 233.2h1.6v1.6h-1.6zM243.4 215.4h1.6v1.6h-1.6zM243.4 228.4h1.6v1.6h-1.6zM243.2 230.4h1.6v1.6h-1.6zM243.6 232.4h1.6v1.6h-1.6zM243.3 233.4h1.6v1.6h-1.6zM243.6 234.4h1.6v1.6h-1.6zM244.4 228.3h1.6v1.6h-1.6zM244.4 231.3h1.6v1.6h-1.6zM244.5 232.3h1.6v1.6h-1.6zM244.4 233.3h1.6v1.6h-1.6zM244.4 234.3h1.6v1.6h-1.6zM244.5 235.3h1.6v1.6h-1.6zM245.4 224h1.6v1.6h-1.6zM245.3 230h1.6v1.6h-1.6zM245.3 232h1.6v1.6h-1.6zM245.5 233h1.6v1.6h-1.6zM245.3 234h1.6v1.6h-1.6zM245.4 235h1.6v1.6h-1.6zM245.5 237h1.6v1.6h-1.6zM246.3 230.6h1.6v1.6h-1.6zM246.5 231.6h1.6v1.6h-1.6zM246.5 235.6h1.6v1.6h-1.6zM246.2 236.6h1.6v1.6h-1.6zM246.3 237.6h1.6v1.6h-1.6zM247.3 233.5h1.6v1.6h-1.6zM247.5 235.5h1.6v1.6h-1.6zM247.4 237.5h1.6v1.6h-1.6zM248.3 225.7h1.6v1.6h-1.6zM248.3 228.7h1.6v1.6h-1.6zM248.6 229.7h1.6v1.6h-1.6zM248.3 230.7h1.6v1.6h-1.6zM248.4 231.7h1.6v1.6h-1.6zM248.5 232.7h1.6v1.6h-1.6zM249.4 224.1h1.6v1.6h-1.6zM249.6 231.1h1.6v1.6h-1.6zM249.2 232.1h1.6v1.6h-1.6zM249.5 233.1h1.6v1.6h-1.6zM249.3 235.1h1.6v1.6h-1.6zM250.5 234.3h1.6v1.6h-1.6zM250.3 236.3h1.6v1.6h-1.6zM251.2 232.9h1.6v1.6h-1.6zM251.3 234.9h1.6v1.6h-1.6zM252.4 221.2h1.6v1.6h-1.6zM252.6 231.2h1.6v1.6h-1.6zM252.4 232.2h1.6v1.6h-1.6zM252.6 233.2h1.6v1.6h-1.6zM252.6 234.2h1.6v1.6h-1.6zM253.3 226.9h1.6v1.6h-1.6zM253.2 227.9h1.6v1.6h-1.6zM253.4 232.9h1.6v1.6h-1.6zM253.2 233.9h1.6v1.6h-1.6zM253.2 234.9h1.6v1.6h-1.6zM253.5 235.9h1.6v1.6h-1.6zM253.3 236.9h1.6v1.6h-1.6zM254.5 228.2h1.6v1.6h-1.6zM254.5 230.2h1.6v1.6h-1.6zM254.3 232.2h1.6v1.6h-1.6zM254.3 233.2h1.6v1.6h-1.6zM254.5 234.2h1.6v1.6h-1.6zM254.3 235.2h1.6v1.6h-1.6zM255.4 231.1h1.6v1.6h-1.6zM255.3 234.1h1.6v1.6h-1.6zM256.5 231.6h1.6v1.6h-1.6zM256.6 234.6h1.6v1.6h-1.6zM256.5 235.6h1.6v1.6h-1.6zM256.5 236.6h1.6v1.6h-1.6zM256.4 237.6h1.6v1.6h-1.6zM256.4 238.6h1.6v1.6h-1.6zM256.3 239.6h1.6v1.6h-1.6zM256.4 240.6h1.6v1.6h-1.6zM257.3 240.7h1.6v1.6h-1.6zM257.5 244.7h1.6v1.6h-1.6zM258.5 234.8h1.6v1.6h-1.6zM258.3 236.8h1.6v1.6h-1.6zM258.5 240.8h1.6v1.6h-1.6zM258.5 241.8h1.6v1.6h-1.6zM258.6 242.8h1.6v1.6h-1.6zM258.6 243.8h1.6v1.6h-1.6zM258.4 244.8h1.6v1.6h-1.6zM259.2 245.5h1.6v1.6h-1.6zM260.3 239.7h1.6v1.6h-1.6zM260.2 243.7h1.6v1.6h-1.6zM260.3 244.7h1.6v1.6h-1.6zM261.5 237.8h1.6v1.6h-1.6zM261.4 239.8h1.6v1.6h-1.6zM261.6 240.8h1.6v1.6h-1.6zM261.4 241.8h1.6v1.6h-1.6zM261.3 242.8h1.6v1.6h-1.6zM262.4 234.5h1.6v1.6h-1.6zM262.4 235.5h1.6v1.6h-1.6zM262.3 236.5h1.6v1.6h-1.6zM262.4 237.5h1.6v1.6h-1.6zM262.4 238.5h1.6v1.6h-1.6zM262.6 239.5h1.6v1.6h-1.6zM262.4 240.5h1.6v1.6h-1.6zM263.3 240.3h1.6v1.6h-1.6zM264.5 239.3h1.6v1.6h-1.6zM264.5 242.3h1.6v1.6h-1.6zM264.6 243.3h1.6v1.6h-1.6zM265.3 241.5h1.6v1.6h-1.6zM249.4 189.2h1.6v1.6h-1.6zM249.4 190.2h1.6v1.6h-1.6zM249.4 192.2h1.6v1.6h-1.6zM249.4 193.2h1.6v1.6h-1.6zM249.4 194.2h1.6v1.6h-1.6zM249.4 195.2h1.6v1.6h-1.6zM249.4 196.2h1.6v1.6h-1.6zM249.4 197.2h1.6v1.6h-1.6zM249.4 198.2h1.6v1.6h-1.6zM249.4 199.2h1.6v1.6h-1.6zM249.4 200.2h1.6v1.6h-1.6zM249.4 201.2h1.6v1.6h-1.6zM249.4 202.2h1.6v1.6h-1.6zM249.4 203.2h1.6v1.6h-1.6zM249.4 204.2h1.6v1.6h-1.6zM249.4 205.2h1.6v1.6h-1.6zM249.4 206.2h1.6v1.6h-1.6zM249.4 207.2h1.6v1.6h-1.6zM249.4 208.2h1.6v1.6h-1.6zM249.4 209.2h1.6v1.6h-1.6zM249.4 210.2h1.6v1.6h-1.6zM249.4 211.2h1.6v1.6h-1.6zM249.4 212.2h1.6v1.6h-1.6zM249.4 213.2h1.6v1.6h-1.6zM249.4 214.2h1.6v1.6h-1.6zM249.4 215.2h1.6v1.6h-1.6zM249.4 216.2h1.6v1.6h-1.6zM249.4 217.2h1.6v1.6h-1.6zM249.4 218.2h1.6v1.6h-1.6zM249.4 219.2h1.6v1.6h-1.6zM249.4 220.2h1.6v1.6h-1.6zM249.4 221.2h1.6v1.6h-1.6zM249.4 222.2h1.6v1.6h-1.6zM249.4 223.2h1.6v1.6h-1.6zM249.4 224.2h1.6v1.6h-1.6zM249.4 225.2h1.6v1.6h-1.6zM249.4 226.2h1.6v1.6h-1.6zM249.4 227.2h1.6v1.6h-1.6zM249.4 228.2h1.6v1.6h-1.6zM249.4 229.2h1.6v1.6h-1.6zM249.4 230.2h1.6v1.6h-1.6zM249.4 231.2h1.6v1.6h-1.6zM249.4 232.2h1.6v1.6h-1.6zM249.4 233.2h1.6v1.6h-1.6zM249.4 234.2h1.6v1.6h-1.6zM249.4 235.2h1.6v1.6h-1.6zM242 196.9h1.6v1.6h-1.6zM242.7 204.7h1.6v1.6h-1.6zM242 207.5h1.6v1.6h-1.6zM256.1 205.4h1.6v1.6h-1.6zM257.2 211h1.6v1.6h-1.6zM259.6 214.6h1.6v1.6h-1.6zM256.1 217.4h1.6v1.6h-1.6zM258.2 222.3h1.6v1.6h-1.6zM258 209.9h1.6v1.6h-1.6zM249.5 22.7h1.6v1.6h-1.6zM249.5 23.7h1.6v1.6h-1.6zM249.5 24.7h1.6v1.6h-1.6zM249.5 25.7h1.6v1.6h-1.6zM249.5 26.7h1.6v1.6h-1.6zM249.5 27.7h1.6v1.6h-1.6zM249.5 28.7h1.6v1.6h-1.6zM249.5 32.7h1.6v1.6h-1.6zM249.5 36.7h1.6v1.6h-1.6zM249.5 43h1.6v1.6h-1.6zM249.5 56.2h1.6v1.6h-1.6zM249.5 57.7h1.6v1.6h-1.6zM249.5 59h1.6v1.6h-1.6zM249.5 93.1h1.6v1.6h-1.6zM249.5 96h1.6v1.6h-1.6zM249.5 99h1.6v1.6h-1.6zM249.5 102h1.6v1.6h-1.6zM249.5 103h1.6v1.6h-1.6zM249.5 104h1.6v1.6h-1.6zM249.5 104.9h1.6v1.6h-1.6zM249.5 108.9h1.6v1.6h-1.6zM249.5 111.8h1.6v1.6h-1.6zM249.5 120.7h1.6v1.6h-1.6zM249.5 140.4h1.6v1.6h-1.6zM249.5 141.4h1.6v1.6h-1.6zM249.5 142.4h1.6v1.6h-1.6zM249.5 143.4h1.6v1.6h-1.6zM249.5 147.3h1.6v1.6h-1.6zM249.5 140.6h1.6v1.6h-1.6zM249.5 141.8h1.6v1.6h-1.6zM249.5 143.2h1.6v1.6h-1.6zM249.5 144.7h1.6v1.6h-1.6zM249.5 146.2h1.6v1.6h-1.6zM249.5 147.7h1.6v1.6h-1.6zM249.5 149.8h1.6v1.6h-1.6zM249.5 152.6h1.6v1.6h-1.6zM249.5 154.7h1.6v1.6h-1.6zM249.5 155.7h1.6v1.6h-1.6zM249.5 156.7h1.6v1.6h-1.6zM249.5 157.7h1.6v1.6h-1.6zM249.5 158.7h1.6v1.6h-1.6zM249.5 159.7h1.6v1.6h-1.6zM249.5 160.7h1.6v1.6h-1.6zM249.5 161.7h1.6v1.6h-1.6zM249.5 163.8h1.6v1.6h-1.6zM249.5 166h1.6v1.6h-1.6zM249.5 167.2h1.6v1.6h-1.6zM249.5 168.2h1.6v1.6h-1.6zM249.5 169.2h1.6v1.6h-1.6zM249.5 170.2h1.6v1.6h-1.6zM249.5 171.6h1.6v1.6h-1.6zM249.5 174.4h1.6v1.6h-1.6zM249.5 178.6h1.6v1.6h-1.6zM249.5 187.2h1.6v1.6h-1.6zM249.5 188.2h1.6v1.6h-1.6z"/>
<path fill="#69E13C" d="M266.3,293.7 266.3,232.1 267.3,232.1 267.3,235.1 268.3,235.1 268.3,234 269.3,234 269.3,235.8 270.3,235.8 270.3,233.8 271.3,233.8 271.3,236.3 272.3,236.3 272.3,237.8 273.3,237.8 273.3,236 274.3,236 274.3,236.4 275.3,236.4 275.3,235.2 276.3,235.2 276.3,236 277.3,236 277.3,233.8 278.3,233.8 278.3,231.9 279.3,231.9 279.3,234.5 280.3,234.5 280.3,233.2 281.3,233.2 281.3,233.8 282.3,233.8 282.3,232.9 283.3,232.9 283.3,232.3 284.3,232.3 284.3,234 285.3,234 285.3,233.5 286.3,233.5 286.3,235.3 287.3,235.3 287.3,235.6 288.3,235.6 288.3,236.8 289.3,236.8 289.3,234.8 289.6,234.8 289.6,293.7ZM265.9 228.3h1.6v1.6h-1.6zM267.2 218.3h1.6v1.6h-1.6zM266.8 231.3h1.6v1.6h-1.6zM267 232.3h1.6v1.6h-1.6zM267 234.3h1.6v1.6h-1.6zM268 230.2h1.6v1.6h-1.6zM268.1 233.2h1.6v1.6h-1.6zM269 234h1.6v1.6h-1.6zM270.1 231h1.6v1.6h-1.6zM270 232h1.6v1.6h-1.6zM271 232.5h1.6v1.6h-1.6zM270.8 233.5h1.6v1.6h-1.6zM270.9 235.5h1.6v1.6h-1.6zM272 230h1.6v1.6h-1.6zM272.1 231h1.6v1.6h-1.6zM271.8 232h1.6v1.6h-1.6zM271.9 233h1.6v1.6h-1.6zM272 234h1.6v1.6h-1.6zM272.2 235h1.6v1.6h-1.6zM271.9 236h1.6v1.6h-1.6zM273.2 229.2h1.6v1.6h-1.6zM272.8 230.2h1.6v1.6h-1.6zM272.9 231.2h1.6v1.6h-1.6zM273 233.2h1.6v1.6h-1.6zM273.9 216.6h1.6v1.6h-1.6zM273.9 224.6h1.6v1.6h-1.6zM274.1 226.6h1.6v1.6h-1.6zM273.9 227.6h1.6v1.6h-1.6zM273.9 228.6h1.6v1.6h-1.6zM274.2 231.6h1.6v1.6h-1.6zM274.1 233.6h1.6v1.6h-1.6zM273.9 235.6h1.6v1.6h-1.6zM275.1 227.4h1.6v1.6h-1.6zM275.2 229.4h1.6v1.6h-1.6zM275.2 232.4h1.6v1.6h-1.6zM275 233.4h1.6v1.6h-1.6zM274.9 234.4h1.6v1.6h-1.6zM276 219.2h1.6v1.6h-1.6zM275.8 228.2h1.6v1.6h-1.6zM276.2 230.2h1.6v1.6h-1.6zM275.9 231.2h1.6v1.6h-1.6zM276.2 232.2h1.6v1.6h-1.6zM276 233.2h1.6v1.6h-1.6zM275.9 234.2h1.6v1.6h-1.6zM276.1 235.2h1.6v1.6h-1.6zM276.9 229h1.6v1.6h-1.6zM277.1 232h1.6v1.6h-1.6zM277.8 224.1h1.6v1.6h-1.6zM278.1 225.1h1.6v1.6h-1.6zM278.2 227.1h1.6v1.6h-1.6zM278.2 228.1h1.6v1.6h-1.6zM278.1 229.1h1.6v1.6h-1.6zM279.2 229.7h1.6v1.6h-1.6zM279.1 230.7h1.6v1.6h-1.6zM279 232.7h1.6v1.6h-1.6zM280.1 228.4h1.6v1.6h-1.6zM280 229.4h1.6v1.6h-1.6zM280 231.4h1.6v1.6h-1.6zM279.9 232.4h1.6v1.6h-1.6zM280.8 229h1.6v1.6h-1.6zM281.2 232h1.6v1.6h-1.6zM281.1 233h1.6v1.6h-1.6zM281.8 229.1h1.6v1.6h-1.6zM281.8 232.1h1.6v1.6h-1.6zM283.2 229.5h1.6v1.6h-1.6zM283.1 231.5h1.6v1.6h-1.6zM284.1 209.2h1.6v1.6h-1.6zM284.2 212.2h1.6v1.6h-1.6zM284.1 213.2h1.6v1.6h-1.6zM284 214.2h1.6v1.6h-1.6zM283.9 215.2h1.6v1.6h-1.6zM283.9 216.2h1.6v1.6h-1.6zM283.8 218.2h1.6v1.6h-1.6zM284.1 219.2h1.6v1.6h-1.6zM284.1 220.2h1.6v1.6h-1.6zM284 222.2h1.6v1.6h-1.6zM284 223.2h1.6v1.6h-1.6zM284.2 224.2h1.6v1.6h-1.6zM284 229.2h1.6v1.6h-1.6zM283.9 230.2h1.6v1.6h-1.6zM284.2 231.2h1.6v1.6h-1.6zM284 232.2h1.6v1.6h-1.6zM284.2 233.2h1.6v1.6h-1.6zM285 220.7h1.6v1.6h-1.6zM285.1 226.7h1.6v1.6h-1.6zM285 227.7h1.6v1.6h-1.6zM285.2 229.7h1.6v1.6h-1.6zM285.1 232.7h1.6v1.6h-1.6zM286 224.5h1.6v1.6h-1.6zM285.8 226.5h1.6v1.6h-1.6zM285.9 227.5h1.6v1.6h-1.6zM285.9 228.5h1.6v1.6h-1.6zM286.1 230.5h1.6v1.6h-1.6zM286 231.5h1.6v1.6h-1.6zM285.8 233.5h1.6v1.6h-1.6zM285.9 234.5h1.6v1.6h-1.6zM287 216.8h1.6v1.6h-1.6zM287 226.8h1.6v1.6h-1.6zM287.1 228.8h1.6v1.6h-1.6zM286.8 231.8h1.6v1.6h-1.6zM286.8 232.8h1.6v1.6h-1.6zM286.9 234.8h1.6v1.6h-1.6zM287.9 236h1.6v1.6h-1.6zM288.5 229h1.6v1.6h-1.6zM288.6 231h1.6v1.6h-1.6zM288.5 232h1.6v1.6h-1.6zM288.5 233h1.6v1.6h-1.6zM288.7 234h1.6v1.6h-1.6zM268 212.7h1.6v1.6h-1.6zM268.1 213.7h1.6v1.6h-1.6zM268.2 214.7h1.6v1.6h-1.6zM267.8 215.7h1.6v1.6h-1.6zM267.7 217.7h1.6v1.6h-1.6zM267.9 218.7h1.6v1.6h-1.6zM268.4 220.7h1.6v1.6h-1.6zM268.5 221.7h1.6v1.6h-1.6zM268.2 222.7h1.6v1.6h-1.6zM267.9 223.7h1.6v1.6h-1.6zM268 224.7h1.6v1.6h-1.6zM268.6 227.7h1.6v1.6h-1.6zM268 228.7h1.6v1.6h-1.6zM267.9 229.7h1.6v1.6h-1.6zM268.6 230.7h1.6v1.6h-1.6zM268.6 231.7h1.6v1.6h-1.6zM267.7 232.7h1.6v1.6h-1.6zM276.4 210.2h1.6v1.6h-1.6zM276.5 213.2h1.6v1.6h-1.6zM276.3 218.2h1.6v1.6h-1.6zM276.5 219.2h1.6v1.6h-1.6zM276.3 221.2h1.6v1.6h-1.6zM276.3 222.2h1.6v1.6h-1.6zM276.7 223.2h1.6v1.6h-1.6zM276.5 225.2h1.6v1.6h-1.6zM276.5 226.2h1.6v1.6h-1.6zM276.7 228.2h1.6v1.6h-1.6zM276.4 229.2h1.6v1.6h-1.6zM276.4 230.2h1.6v1.6h-1.6zM276.7 231.2h1.6v1.6h-1.6zM276.4 232.2h1.6v1.6h-1.6zM268.1 202.6h1.6v1.6h-1.6zM268.1 204.7h1.6v1.6h-1.6zM268.1 207.5h1.6v1.6h-1.6zM274.4 207.5h1.6v1.6h-1.6zM277.2 207.5h1.6v1.6h-1.6zM276.5 211h1.6v1.6h-1.6zM280 211h1.6v1.6h-1.6zM286.4 206.1h1.6v1.6h-1.6zM287.1 210.3h1.6v1.6h-1.6zM285 206.5h1.6v1.6h-1.6zM287.2 205.4h1.6v1.6h-1.6z"/>
<path fill="#FF4100" d="M289.6,293.7 289.6,226.3 290.6,226.3 290.6,225.2 291.6,225.2 291.6,225.6 292.6,225.6 292.6,227.1 293.6,227.1 293.6,225.9 294.6,225.9 294.6,227.1 295.6,227.1 295.6,229.7 296.6,229.7 296.6,228.5 297.6,228.5 297.6,227.8 298.6,227.8 298.6,229.3 299.6,229.3 299.6,230.9 300.6,230.9 300.6,231.7 301.6,231.7 301.6,232.1 302.6,232.1 302.6,231.2 303.6,231.2 303.6,231 304.6,231 304.6,232.8 305.6,232.8 305.6,230.6 306.6,230.6 306.6,232.4 307.6,232.4 307.6,233 308.6,233 308.6,231.1 309.6,231.1 309.6,231.8 310.6,231.8 310.6,233.5 311.6,233.5 311.6,231.1 312,231.1 312,293.7ZM289.2 221.5h1.6v1.6h-1.6zM289.2 222.5h1.6v1.6h-1.6zM289.2 223.5h1.6v1.6h-1.6zM289.3 224.5h1.6v1.6h-1.6zM290.2 207.4h1.6v1.6h-1.6zM290.3 214.4h1.6v1.6h-1.6zM290.1 216.4h1.6v1.6h-1.6zM290.3 217.4h1.6v1.6h-1.6zM290.4 218.4h1.6v1.6h-1.6zM290.2 219.4h1.6v1.6h-1.6zM290.5 220.4h1.6v1.6h-1.6zM290.3 221.4h1.6v1.6h-1.6zM290.3 224.4h1.6v1.6h-1.6zM291.2 222.8h1.6v1.6h-1.6zM291.4 223.8h1.6v1.6h-1.6zM291.4 224.8h1.6v1.6h-1.6zM292.4 222.3h1.6v1.6h-1.6zM292.4 223.3h1.6v1.6h-1.6zM292.4 225.3h1.6v1.6h-1.6zM292.3 226.3h1.6v1.6h-1.6zM293.1 217.1h1.6v1.6h-1.6zM293.5 218.1h1.6v1.6h-1.6zM293.3 220.1h1.6v1.6h-1.6zM293.4 221.1h1.6v1.6h-1.6zM293.4 223.1h1.6v1.6h-1.6zM293.2 224.1h1.6v1.6h-1.6zM293.1 225.1h1.6v1.6h-1.6zM294.2 224.3h1.6v1.6h-1.6zM294.2 225.3h1.6v1.6h-1.6zM295.2 227.9h1.6v1.6h-1.6zM296.1 227.7h1.6v1.6h-1.6zM297.2 224h1.6v1.6h-1.6zM297.2 225h1.6v1.6h-1.6zM297.1 227h1.6v1.6h-1.6zM298.4 226.5h1.6v1.6h-1.6zM299.3 208.1h1.6v1.6h-1.6zM299.2 217.1h1.6v1.6h-1.6zM299.1 222.1h1.6v1.6h-1.6zM299.1 223.1h1.6v1.6h-1.6zM299.3 224.1h1.6v1.6h-1.6zM299.3 225.1h1.6v1.6h-1.6zM299.1 227.1h1.6v1.6h-1.6zM299.5 228.1h1.6v1.6h-1.6zM299.3 229.1h1.6v1.6h-1.6zM299.1 230.1h1.6v1.6h-1.6zM300.2 222.9h1.6v1.6h-1.6zM300.4 225.9h1.6v1.6h-1.6zM300.2 227.9h1.6v1.6h-1.6zM300.2 228.9h1.6v1.6h-1.6zM300.2 229.9h1.6v1.6h-1.6zM300.3 230.9h1.6v1.6h-1.6zM301.3 228.3h1.6v1.6h-1.6zM302.4 218.4h1.6v1.6h-1.6zM302.3 220.4h1.6v1.6h-1.6zM302.3 226.4h1.6v1.6h-1.6zM302.4 227.4h1.6v1.6h-1.6zM302.2 228.4h1.6v1.6h-1.6zM302.2 229.4h1.6v1.6h-1.6zM302.1 230.4h1.6v1.6h-1.6zM303.4 218.2h1.6v1.6h-1.6zM303.4 220.2h1.6v1.6h-1.6zM303.5 230.2h1.6v1.6h-1.6zM304.2 211h1.6v1.6h-1.6zM304.1 224h1.6v1.6h-1.6zM304.5 225h1.6v1.6h-1.6zM304.4 227h1.6v1.6h-1.6zM304.2 228h1.6v1.6h-1.6zM304.4 229h1.6v1.6h-1.6zM304.3 230h1.6v1.6h-1.6zM304.4 231h1.6v1.6h-1.6zM305.2 210.8h1.6v1.6h-1.6zM305.5 212.8h1.6v1.6h-1.6zM305.4 213.8h1.6v1.6h-1.6zM305.2 214.8h1.6v1.6h-1.6zM305.3 216.8h1.6v1.6h-1.6zM305.4 217.8h1.6v1.6h-1.6zM305.3 219.8h1.6v1.6h-1.6zM305.5 222.8h1.6v1.6h-1.6zM305.3 223.8h1.6v1.6h-1.6zM305.1 225.8h1.6v1.6h-1.6zM305.2 227.8h1.6v1.6h-1.6zM305.3 228.8h1.6v1.6h-1.6zM306.3 223.6h1.6v1.6h-1.6zM306.5 224.6h1.6v1.6h-1.6zM306.1 226.6h1.6v1.6h-1.6zM306.2 227.6h1.6v1.6h-1.6zM306.2 228.6h1.6v1.6h-1.6zM306.1 230.6h1.6v1.6h-1.6zM306.2 231.6h1.6v1.6h-1.6zM307.1 221.2h1.6v1.6h-1.6zM307.2 228.2h1.6v1.6h-1.6zM307.1 230.2h1.6v1.6h-1.6zM307.3 231.2h1.6v1.6h-1.6zM308.3 224.3h1.6v1.6h-1.6zM308.2 226.3h1.6v1.6h-1.6zM308.4 227.3h1.6v1.6h-1.6zM308.4 228.3h1.6v1.6h-1.6zM308.3 229.3h1.6v1.6h-1.6zM309.3 225h1.6v1.6h-1.6zM309.5 229h1.6v1.6h-1.6zM309.3 230h1.6v1.6h-1.6zM309.4 231h1.6v1.6h-1.6zM310.3 221.7h1.6v1.6h-1.6zM310.3 222.7h1.6v1.6h-1.6zM310.3 224.7h1.6v1.6h-1.6zM310.2 226.7h1.6v1.6h-1.6zM310.4 227.7h1.6v1.6h-1.6zM310.3 228.7h1.6v1.6h-1.6zM310.5 229.7h1.6v1.6h-1.6zM310.1 230.7h1.6v1.6h-1.6zM310.5 231.7h1.6v1.6h-1.6zM310.2 232.7h1.6v1.6h-1.6zM310.9 212.3h1.6v1.6h-1.6zM311.2 228.3h1.6v1.6h-1.6zM311 230.3h1.6v1.6h-1.6zM293.4 191.2h1.6v1.6h-1.6zM293.4 192.2h1.6v1.6h-1.6zM293.4 193.2h1.6v1.6h-1.6zM293.4 195.2h1.6v1.6h-1.6zM293.4 196.2h1.6v1.6h-1.6zM293.4 197.2h1.6v1.6h-1.6zM293.4 198.2h1.6v1.6h-1.6zM293.4 199.2h1.6v1.6h-1.6zM293.4 200.2h1.6v1.6h-1.6zM293.4 201.2h1.6v1.6h-1.6zM293.4 202.2h1.6v1.6h-1.6zM293.4 203.2h1.6v1.6h-1.6zM293.4 204.2h1.6v1.6h-1.6zM293.4 205.2h1.6v1.6h-1.6zM293.4 206.2h1.6v1.6h-1.6zM293.4 207.2h1.6v1.6h-1.6zM293.4 208.2h1.6v1.6h-1.6zM293.4 209.2h1.6v1.6h-1.6zM293.4 210.2h1.6v1.6h-1.6zM293.4 211.2h1.6v1.6h-1.6zM293.4 212.2h1.6v1.6h-1.6zM293.4 213.2h1.6v1.6h-1.6zM293.4 214.2h1.6v1.6h-1.6zM293.4 215.2h1.6v1.6h-1.6zM293.4 216.2h1.6v1.6h-1.6zM293.4 217.2h1.6v1.6h-1.6zM293.4 218.2h1.6v1.6h-1.6zM293.4 219.2h1.6v1.6h-1.6zM293.4 220.2h1.6v1.6h-1.6zM293.4 221.2h1.6v1.6h-1.6zM293.4 222.2h1.6v1.6h-1.6zM293.4 223.2h1.6v1.6h-1.6zM293.4 224.2h1.6v1.6h-1.6zM293.4 225.2h1.6v1.6h-1.6zM293.4 226.2h1.6v1.6h-1.6zM293.4 114.8h1.6v1.6h-1.6zM293.4 116h1.6v1.6h-1.6zM293.4 118.8h1.6v1.6h-1.6zM293.4 147.8h1.6v1.6h-1.6zM293.4 163.2h1.6v1.6h-1.6zM293.4 171h1.6v1.6h-1.6zM293.4 175.2h1.6v1.6h-1.6zM293.4 178.1h1.6v1.6h-1.6zM293.4 180.9h1.6v1.6h-1.6zM293.4 183.7h1.6v1.6h-1.6zM293.4 186.9h1.6v1.6h-1.6zM293.4 188.6h1.6v1.6h-1.6zM306.7 215.2h1.6v1.6h-1.6zM307.4 218.8h1.6v1.6h-1.6zM303.9 219.5h1.6v1.6h-1.6zM302.5 223.7h1.6v1.6h-1.6zM292.1 209.2h1.6v1.6h-1.6zM294.7 213.2h1.6v1.6h-1.6zM292.2 217.2h1.6v1.6h-1.6zM294.8 220.2h1.6v1.6h-1.6z"/>
<path fill="#1E196E" d="M312,293.7 312,232.2 313,232.2 313,234.3 314,234.3 314,235.3 315,235.3 315,235.2 316,235.2 316,232.9 317,232.9 317,234.2 318,234.2 318,237.2 319,237.2 319,238.8 320,238.8 320,240.3 321,240.3 321,239.1 322,239.1 322,241.5 323,241.5 323,242.4 324,242.4 324,239.3 325,239.3 325,239.3 326,239.3 326,241.3 327,241.3 327,242.6 328,242.6 328,242.8 329,242.8 329,239.6 330,239.6 330,241 331,241 331,240.8 332,240.8 332,242.3 333,242.3 333,241.3 333.6,241.3 333.6,293.7ZM311.9 229.4h1.6v1.6h-1.6zM311.9 230.4h1.6v1.6h-1.6zM311.5 231.4h1.6v1.6h-1.6zM312.6 225.5h1.6v1.6h-1.6zM312.7 226.5h1.6v1.6h-1.6zM312.9 229.5h1.6v1.6h-1.6zM312.7 230.5h1.6v1.6h-1.6zM312.5 231.5h1.6v1.6h-1.6zM312.7 233.5h1.6v1.6h-1.6zM313.8 226.5h1.6v1.6h-1.6zM313.6 228.5h1.6v1.6h-1.6zM313.8 230.5h1.6v1.6h-1.6zM313.7 232.5h1.6v1.6h-1.6zM313.6 233.5h1.6v1.6h-1.6zM313.8 234.5h1.6v1.6h-1.6zM314.7 228.4h1.6v1.6h-1.6zM314.8 229.4h1.6v1.6h-1.6zM314.7 231.4h1.6v1.6h-1.6zM314.7 232.4h1.6v1.6h-1.6zM314.6 234.4h1.6v1.6h-1.6zM315.6 228.1h1.6v1.6h-1.6zM315.7 230.1h1.6v1.6h-1.6zM316.5 228.4h1.6v1.6h-1.6zM316.8 229.4h1.6v1.6h-1.6zM316.6 230.4h1.6v1.6h-1.6zM316.8 232.4h1.6v1.6h-1.6zM316.9 233.4h1.6v1.6h-1.6zM317.8 234.4h1.6v1.6h-1.6zM317.7 236.4h1.6v1.6h-1.6zM318.6 218h1.6v1.6h-1.6zM318.5 227h1.6v1.6h-1.6zM318.8 229h1.6v1.6h-1.6zM318.6 230h1.6v1.6h-1.6zM318.7 235h1.6v1.6h-1.6zM318.6 237h1.6v1.6h-1.6zM319.6 237.5h1.6v1.6h-1.6zM319.9 238.5h1.6v1.6h-1.6zM320.6 227.3h1.6v1.6h-1.6zM320.5 228.3h1.6v1.6h-1.6zM320.8 229.3h1.6v1.6h-1.6zM320.8 230.3h1.6v1.6h-1.6zM320.9 232.3h1.6v1.6h-1.6zM320.8 233.3h1.6v1.6h-1.6zM320.6 234.3h1.6v1.6h-1.6zM320.7 236.3h1.6v1.6h-1.6zM320.6 237.3h1.6v1.6h-1.6zM320.5 238.3h1.6v1.6h-1.6zM321.6 239.7h1.6v1.6h-1.6zM322.5 238.6h1.6v1.6h-1.6zM322.9 239.6h1.6v1.6h-1.6zM322.7 241.6h1.6v1.6h-1.6zM323.5 233.5h1.6v1.6h-1.6zM323.8 234.5h1.6v1.6h-1.6zM323.7 235.5h1.6v1.6h-1.6zM323.6 237.5h1.6v1.6h-1.6zM323.8 238.5h1.6v1.6h-1.6zM324.6 233.5h1.6v1.6h-1.6zM324.9 234.5h1.6v1.6h-1.6zM324.9 236.5h1.6v1.6h-1.6zM324.7 238.5h1.6v1.6h-1.6zM325.7 225.5h1.6v1.6h-1.6zM325.8 226.5h1.6v1.6h-1.6zM325.8 227.5h1.6v1.6h-1.6zM325.8 228.5h1.6v1.6h-1.6zM325.8 229.5h1.6v1.6h-1.6zM325.6 230.5h1.6v1.6h-1.6zM325.5 233.5h1.6v1.6h-1.6zM325.5 234.5h1.6v1.6h-1.6zM325.7 236.5h1.6v1.6h-1.6zM325.9 237.5h1.6v1.6h-1.6zM325.6 238.5h1.6v1.6h-1.6zM325.5 240.5h1.6v1.6h-1.6zM326.6 231.8h1.6v1.6h-1.6zM326.7 236.8h1.6v1.6h-1.6zM326.8 238.8h1.6v1.6h-1.6zM326.7 241.8h1.6v1.6h-1.6zM327.5 239h1.6v1.6h-1.6zM327.7 240h1.6v1.6h-1.6zM327.8 241h1.6v1.6h-1.6zM328.6 236.8h1.6v1.6h-1.6zM328.8 238.8h1.6v1.6h-1.6zM329.6 232.2h1.6v1.6h-1.6zM329.9 233.2h1.6v1.6h-1.6zM329.8 235.2h1.6v1.6h-1.6zM329.9 236.2h1.6v1.6h-1.6zM329.6 237.2h1.6v1.6h-1.6zM329.6 238.2h1.6v1.6h-1.6zM329.7 240.2h1.6v1.6h-1.6zM330.6 217h1.6v1.6h-1.6zM330.6 218h1.6v1.6h-1.6zM330.9 221h1.6v1.6h-1.6zM330.8 222h1.6v1.6h-1.6zM330.5 223h1.6v1.6h-1.6zM330.8 224h1.6v1.6h-1.6zM330.7 225h1.6v1.6h-1.6zM330.6 226h1.6v1.6h-1.6zM330.8 228h1.6v1.6h-1.6zM330.8 229h1.6v1.6h-1.6zM330.9 230h1.6v1.6h-1.6zM330.7 231h1.6v1.6h-1.6zM330.8 232h1.6v1.6h-1.6zM330.9 235h1.6v1.6h-1.6zM330.6 237h1.6v1.6h-1.6zM330.6 239h1.6v1.6h-1.6zM330.8 240h1.6v1.6h-1.6zM331.6 227.5h1.6v1.6h-1.6zM331.6 230.5h1.6v1.6h-1.6zM331.9 231.5h1.6v1.6h-1.6zM331.7 233.5h1.6v1.6h-1.6zM331.5 234.5h1.6v1.6h-1.6zM331.6 235.5h1.6v1.6h-1.6zM331.6 236.5h1.6v1.6h-1.6zM331.9 237.5h1.6v1.6h-1.6zM331.5 240.5h1.6v1.6h-1.6zM331.6 241.5h1.6v1.6h-1.6zM332.6 239.5h1.6v1.6h-1.6zM315.7 178.1h1.6v1.6h-1.6zM315.7 179.1h1.6v1.6h-1.6zM315.6 180.1h1.6v1.6h-1.6zM315.7 181.1h1.6v1.6h-1.6zM315.7 182.1h1.6v1.6h-1.6zM316 183.1h1.6v1.6h-1.6zM315.7 184.1h1.6v1.6h-1.6zM315.8 185.1h1.6v1.6h-1.6zM315.7 186.1h1.6v1.6h-1.6zM315.6 187.1h1.6v1.6h-1.6zM315.9 188.1h1.6v1.6h-1.6zM316 189.1h1.6v1.6h-1.6zM315.7 190.1h1.6v1.6h-1.6zM315.8 191.1h1.6v1.6h-1.6zM315.6 192.1h1.6v1.6h-1.6zM316 193.1h1.6v1.6h-1.6zM315.6 194.1h1.6v1.6h-1.6zM315.7 195.1h1.6v1.6h-1.6zM315.8 196.1h1.6v1.6h-1.6zM315.8 197.1h1.6v1.6h-1.6zM316 198.1h1.6v1.6h-1.6zM315.9 199.1h1.6v1.6h-1.6zM315.9 200.1h1.6v1.6h-1.6zM315.7 201.1h1.6v1.6h-1.6zM315.9 202.1h1.6v1.6h-1.6zM316 203.1h1.6v1.6h-1.6zM315.8 204.1h1.6v1.6h-1.6zM315.6 205.1h1.6v1.6h-1.6zM315.9 206.1h1.6v1.6h-1.6zM315.9 207.1h1.6v1.6h-1.6zM315.8 208.1h1.6v1.6h-1.6zM316 209.1h1.6v1.6h-1.6zM316 210.1h1.6v1.6h-1.6zM316 211.1h1.6v1.6h-1.6zM315.9 212.1h1.6v1.6h-1.6zM315.8 213.1h1.6v1.6h-1.6zM315.7 214.1h1.6v1.6h-1.6zM316 215.1h1.6v1.6h-1.6zM316 216.1h1.6v1.6h-1.6zM315.6 217.1h1.6v1.6h-1.6zM316 218.1h1.6v1.6h-1.6zM315.8 219.1h1.6v1.6h-1.6zM315.9 220.1h1.6v1.6h-1.6zM315.6 221.1h1.6v1.6h-1.6zM315.8 222.1h1.6v1.6h-1.6zM315.7 223.1h1.6v1.6h-1.6zM315.8 224.1h1.6v1.6h-1.6zM315.8 225.1h1.6v1.6h-1.6zM315.8 226.1h1.6v1.6h-1.6zM316 227.1h1.6v1.6h-1.6zM316 228.1h1.6v1.6h-1.6zM315.8 229.1h1.6v1.6h-1.6zM315.7 230.1h1.6v1.6h-1.6zM315.7 231.1h1.6v1.6h-1.6zM315.6 232.1h1.6v1.6h-1.6zM316 233.1h1.6v1.6h-1.6zM314.2 207.2h1.6v1.6h-1.6zM314 209.2h1.6v1.6h-1.6zM314.2 210.2h1.6v1.6h-1.6zM314.4 211.2h1.6v1.6h-1.6zM314 215.2h1.6v1.6h-1.6zM314.4 217.2h1.6v1.6h-1.6zM314.3 218.2h1.6v1.6h-1.6zM314.2 219.2h1.6v1.6h-1.6zM314.4 220.2h1.6v1.6h-1.6zM314.4 222.2h1.6v1.6h-1.6zM314.1 223.2h1.6v1.6h-1.6zM314 224.2h1.6v1.6h-1.6zM314.1 226.2h1.6v1.6h-1.6zM314 229.2h1.6v1.6h-1.6zM314.4 230.2h1.6v1.6h-1.6zM314.4 231.2h1.6v1.6h-1.6zM314.1 232.2h1.6v1.6h-1.6zM322.4 139.3h1.6v1.6h-1.6zM322.4 140.7h1.6v1.6h-1.6zM322.4 142h1.6v1.6h-1.6zM322.4 143.2h1.6v1.6h-1.6zM322.4 144.5h1.6v1.6h-1.6zM322.4 145.7h1.6v1.6h-1.6zM322.4 148.5h1.6v1.6h-1.6zM322.4 149.9h1.6v1.6h-1.6zM322.4 157.7h1.6v1.6h-1.6zM322.4 160.5h1.6v1.6h-1.6zM322.4 167.5h1.6v1.6h-1.6zM322.4 171h1.6v1.6h-1.6zM322.4 174.6h1.6v1.6h-1.6zM322.4 180.9h1.6v1.6h-1.6zM322.4 188.6h1.6v1.6h-1.6zM322.4 189.9h1.6v1.6h-1.6zM322.4 192.7h1.6v1.6h-1.6zM322.4 200.5h1.6v1.6h-1.6zM322.4 202.6h1.6v1.6h-1.6zM322.4 204h1.6v1.6h-1.6zM322.4 205.4h1.6v1.6h-1.6zM322.4 206.8h1.6v1.6h-1.6zM322.4 211h1.6v1.6h-1.6zM313.7 150h1.6v1.6h-1.6zM313.7 173.2h1.6v1.6h-1.6zM315.2 176h1.6v1.6h-1.6zM325 211.7h1.6v1.6h-1.6zM330.7 211h1.6v1.6h-1.6zM332.1 199.8h1.6v1.6h-1.6zM326.5 226.5h1.6v1.6h-1.6zM321.5 221.6h1.6v1.6h-1.6zM325.6 211.7h1.6v1.6h-1.6zM331.9 215.2h1.6v1.6h-1.6z"/>
<path fill="#1E1E1E" d="M333.6,293.7 333.6,235.9 334.6,235.9 334.6,235.7 335.6,235.7 335.6,236.3 336.6,236.3 336.6,235 337.6,235 337.6,236.9 338.6,236.9 338.6,235.8 339.6,235.8 339.6,236.6 340.6,236.6 340.6,237.5 341.6,237.5 341.6,235 342.6,235 342.6,235.2 343.6,235.2 343.6,234.9 344.6,234.9 344.6,234.3 345.6,234.3 345.6,234.1 346.6,234.1 346.6,235.6 347.6,235.6 347.6,236.8 348.6,236.8 348.6,236.2 349.6,236.2 349.6,235.6 350.6,235.6 350.6,235.1 351.6,235.1 351.6,236.8 352.6,236.8 352.6,237.1 353.6,237.1 353.6,235 354.6,235 354.6,293.7ZM333.3 223.1h1.6v1.6h-1.6zM333.1 226.1h1.6v1.6h-1.6zM333.4 227.1h1.6v1.6h-1.6zM333.4 229.1h1.6v1.6h-1.6zM333.3 231.1h1.6v1.6h-1.6zM333.2 232.1h1.6v1.6h-1.6zM333.2 233.1h1.6v1.6h-1.6zM334.3 220.9h1.6v1.6h-1.6zM334.2 232.9h1.6v1.6h-1.6zM335.2 231.5h1.6v1.6h-1.6zM335.2 232.5h1.6v1.6h-1.6zM335.2 234.5h1.6v1.6h-1.6zM335.3 235.5h1.6v1.6h-1.6zM336.3 229.2h1.6v1.6h-1.6zM336.4 233.2h1.6v1.6h-1.6zM336.4 234.2h1.6v1.6h-1.6zM337.2 220.1h1.6v1.6h-1.6zM337.1 226.1h1.6v1.6h-1.6zM337.5 227.1h1.6v1.6h-1.6zM337.5 228.1h1.6v1.6h-1.6zM337.1 229.1h1.6v1.6h-1.6zM337.2 230.1h1.6v1.6h-1.6zM337.1 231.1h1.6v1.6h-1.6zM337.1 233.1h1.6v1.6h-1.6zM337.2 234.1h1.6v1.6h-1.6zM337.3 235.1h1.6v1.6h-1.6zM338.1 218h1.6v1.6h-1.6zM338.3 234h1.6v1.6h-1.6zM339.2 227.8h1.6v1.6h-1.6zM339.3 231.8h1.6v1.6h-1.6zM339.3 232.8h1.6v1.6h-1.6zM340.1 230.7h1.6v1.6h-1.6zM340.3 231.7h1.6v1.6h-1.6zM340.5 232.7h1.6v1.6h-1.6zM340.3 233.7h1.6v1.6h-1.6zM340.5 236.7h1.6v1.6h-1.6zM341.1 229.2h1.6v1.6h-1.6zM341.2 234.2h1.6v1.6h-1.6zM342.4 226.4h1.6v1.6h-1.6zM342.4 228.4h1.6v1.6h-1.6zM342.2 233.4h1.6v1.6h-1.6zM343.3 231.1h1.6v1.6h-1.6zM343.2 232.1h1.6v1.6h-1.6zM343.1 233.1h1.6v1.6h-1.6zM344.3 228.5h1.6v1.6h-1.6zM344.1 229.5h1.6v1.6h-1.6zM344.2 231.5h1.6v1.6h-1.6zM344.2 232.5h1.6v1.6h-1.6zM344.4 233.5h1.6v1.6h-1.6zM345.2 226.3h1.6v1.6h-1.6zM345.2 227.3h1.6v1.6h-1.6zM345.3 229.3h1.6v1.6h-1.6zM345.2 230.3h1.6v1.6h-1.6zM345.5 231.3h1.6v1.6h-1.6zM345.4 233.3h1.6v1.6h-1.6zM346.2 210.8h1.6v1.6h-1.6zM346.4 211.8h1.6v1.6h-1.6zM346.1 213.8h1.6v1.6h-1.6zM346.4 214.8h1.6v1.6h-1.6zM346.4 215.8h1.6v1.6h-1.6zM346.3 216.8h1.6v1.6h-1.6zM346.3 217.8h1.6v1.6h-1.6zM346.5 219.8h1.6v1.6h-1.6zM346.3 220.8h1.6v1.6h-1.6zM346.4 221.8h1.6v1.6h-1.6zM346.2 222.8h1.6v1.6h-1.6zM346.3 223.8h1.6v1.6h-1.6zM346.3 224.8h1.6v1.6h-1.6zM346.2 225.8h1.6v1.6h-1.6zM346.3 226.8h1.6v1.6h-1.6zM346.4 228.8h1.6v1.6h-1.6zM346.5 229.8h1.6v1.6h-1.6zM346.2 230.8h1.6v1.6h-1.6zM346.2 231.8h1.6v1.6h-1.6zM346.5 232.8h1.6v1.6h-1.6zM346.4 233.8h1.6v1.6h-1.6zM346.4 234.8h1.6v1.6h-1.6zM347.2 223h1.6v1.6h-1.6zM347.4 228h1.6v1.6h-1.6zM347.1 230h1.6v1.6h-1.6zM347.5 231h1.6v1.6h-1.6zM347.4 232h1.6v1.6h-1.6zM347.4 233h1.6v1.6h-1.6zM347.3 235h1.6v1.6h-1.6zM347.4 236h1.6v1.6h-1.6zM348.4 231.4h1.6v1.6h-1.6zM348.2 234.4h1.6v1.6h-1.6zM349.3 219.8h1.6v1.6h-1.6zM349.5 220.8h1.6v1.6h-1.6zM349.3 221.8h1.6v1.6h-1.6zM349.4 223.8h1.6v1.6h-1.6zM349.1 224.8h1.6v1.6h-1.6zM349.3 225.8h1.6v1.6h-1.6zM349.4 226.8h1.6v1.6h-1.6zM349.4 227.8h1.6v1.6h-1.6zM349.2 228.8h1.6v1.6h-1.6zM349.2 230.8h1.6v1.6h-1.6zM349.2 231.8h1.6v1.6h-1.6zM349.2 232.8h1.6v1.6h-1.6zM349.2 233.8h1.6v1.6h-1.6zM349.2 234.8h1.6v1.6h-1.6zM350.4 231.3h1.6v1.6h-1.6zM350.3 232.3h1.6v1.6h-1.6zM351.2 225h1.6v1.6h-1.6zM351.3 229h1.6v1.6h-1.6zM351.1 233h1.6v1.6h-1.6zM351.2 234h1.6v1.6h-1.6zM352.4 235.3h1.6v1.6h-1.6zM353.2 222.2h1.6v1.6h-1.6zM353.3 224.2h1.6v1.6h-1.6zM353.4 225.2h1.6v1.6h-1.6zM353.4 226.2h1.6v1.6h-1.6zM353.3 227.2h1.6v1.6h-1.6zM353.4 229.2h1.6v1.6h-1.6zM353.3 230.2h1.6v1.6h-1.6zM353.3 231.2h1.6v1.6h-1.6zM353.5 232.2h1.6v1.6h-1.6zM353.4 233.2h1.6v1.6h-1.6zM353.5 234.2h1.6v1.6h-1.6zM338.7 205.2h1.6v1.6h-1.6zM338.7 207.2h1.6v1.6h-1.6zM338.7 208.2h1.6v1.6h-1.6zM338.7 214.2h1.6v1.6h-1.6zM338.7 215.2h1.6v1.6h-1.6zM338.7 217.2h1.6v1.6h-1.6zM338.7 220.2h1.6v1.6h-1.6zM338.7 223.2h1.6v1.6h-1.6zM338.7 224.2h1.6v1.6h-1.6zM338.7 225.2h1.6v1.6h-1.6zM338.7 226.2h1.6v1.6h-1.6zM338.7 227.2h1.6v1.6h-1.6zM338.7 228.2h1.6v1.6h-1.6zM338.7 229.2h1.6v1.6h-1.6zM338.7 230.2h1.6v1.6h-1.6zM338.7 231.2h1.6v1.6h-1.6zM338.7 232.2h1.6v1.6h-1.6zM338.7 233.2h1.6v1.6h-1.6zM344.7 211.2h1.6v1.6h-1.6zM344.7 212.2h1.6v1.6h-1.6zM344.7 215.2h1.6v1.6h-1.6zM344.7 216.2h1.6v1.6h-1.6zM344.7 217.2h1.6v1.6h-1.6zM344.7 219.2h1.6v1.6h-1.6zM344.7 222.2h1.6v1.6h-1.6zM344.7 224.2h1.6v1.6h-1.6zM344.7 226.2h1.6v1.6h-1.6zM344.7 228.2h1.6v1.6h-1.6zM344.7 229.2h1.6v1.6h-1.6zM344.7 230.2h1.6v1.6h-1.6zM344.7 231.2h1.6v1.6h-1.6zM344.7 232.2h1.6v1.6h-1.6zM344.7 233.2h1.6v1.6h-1.6zM338.3 199.8h1.6v1.6h-1.6zM345.3 196.9h1.6v1.6h-1.6zM339 206.1h1.6v1.6h-1.6zM336.9 208.9h1.6v1.6h-1.6zM344.6 211.7h1.6v1.6h-1.6zM345.3 214.6h1.6v1.6h-1.6zM338.3 214.6h1.6v1.6h-1.6zM351.7 215.2h1.6v1.6h-1.6zM353.8 217.4h1.6v1.6h-1.6zM343.9 218.1h1.6v1.6h-1.6zM338.3 218.8h1.6v1.6h-1.6zM336.5 206.7h1.6v1.6h-1.6zM339.4 205.8h1.6v1.6h-1.6z"/>
<path fill="#00D2FF" d="M354.6,293.7 354.6,237.5 355.6,237.5 355.6,237.3 356.6,237.3 356.6,239 357.6,239 357.6,237.1 358.6,237.1 358.6,237.9 359.6,237.9 359.6,239.7 360.6,239.7 360.6,240.1 361.6,240.1 361.6,237.2 362.6,237.2 362.6,238.5 363.6,238.5 363.6,238 364.6,238 364.6,236.6 365.6,236.6 365.6,237.8 366.6,237.8 366.6,238.3 367.6,238.3 367.6,240 368.6,240 368.6,237.7 369.6,237.7 369.6,238.7 370.6,238.7 370.6,238.1 371.6,238.1 371.6,239.5 372.6,239.5 372.6,239.5 373.6,239.5 373.6,238.8 374.6,238.8 374.6,240.2 375.6,240.2 375.6,239.4 376.6,239.4 376.6,239.1 377.6,239.1 377.6,238.3 378.3,238.3 378.3,293.7ZM354.4 231.7h1.6v1.6h-1.6zM354.3 233.7h1.6v1.6h-1.6zM354.2 234.7h1.6v1.6h-1.6zM355.3 229.5h1.6v1.6h-1.6zM355.3 231.5h1.6v1.6h-1.6zM355.2 232.5h1.6v1.6h-1.6zM355.3 233.5h1.6v1.6h-1.6zM355.4 236.5h1.6v1.6h-1.6zM356.3 218.2h1.6v1.6h-1.6zM356.1 231.2h1.6v1.6h-1.6zM356.2 232.2h1.6v1.6h-1.6zM356.4 234.2h1.6v1.6h-1.6zM356.3 236.2h1.6v1.6h-1.6zM356.5 237.2h1.6v1.6h-1.6zM356.4 238.2h1.6v1.6h-1.6zM357.5 227.3h1.6v1.6h-1.6zM357.2 229.3h1.6v1.6h-1.6zM357.3 230.3h1.6v1.6h-1.6zM357.5 232.3h1.6v1.6h-1.6zM357.2 233.3h1.6v1.6h-1.6zM357.5 234.3h1.6v1.6h-1.6zM357.4 235.3h1.6v1.6h-1.6zM357.3 236.3h1.6v1.6h-1.6zM358.1 231.1h1.6v1.6h-1.6zM358.3 232.1h1.6v1.6h-1.6zM358.2 233.1h1.6v1.6h-1.6zM358.2 234.1h1.6v1.6h-1.6zM358.2 235.1h1.6v1.6h-1.6zM358.3 236.1h1.6v1.6h-1.6zM359.4 222.9h1.6v1.6h-1.6zM359.4 228.9h1.6v1.6h-1.6zM359.4 230.9h1.6v1.6h-1.6zM359.2 232.9h1.6v1.6h-1.6zM359.3 233.9h1.6v1.6h-1.6zM359.1 234.9h1.6v1.6h-1.6zM359.2 235.9h1.6v1.6h-1.6zM359.2 236.9h1.6v1.6h-1.6zM359.4 237.9h1.6v1.6h-1.6zM359.4 238.9h1.6v1.6h-1.6zM360.1 228.3h1.6v1.6h-1.6zM360.1 229.3h1.6v1.6h-1.6zM360.3 233.3h1.6v1.6h-1.6zM360.2 236.3h1.6v1.6h-1.6zM360.2 237.3h1.6v1.6h-1.6zM360.3 238.3h1.6v1.6h-1.6zM361.5 225.4h1.6v1.6h-1.6zM361.5 229.4h1.6v1.6h-1.6zM361.3 230.4h1.6v1.6h-1.6zM361.2 235.4h1.6v1.6h-1.6zM361.3 236.4h1.6v1.6h-1.6zM362.2 226.7h1.6v1.6h-1.6zM362.3 229.7h1.6v1.6h-1.6zM362.1 232.7h1.6v1.6h-1.6zM362.4 235.7h1.6v1.6h-1.6zM362.2 237.7h1.6v1.6h-1.6zM363.3 229.2h1.6v1.6h-1.6zM363.2 230.2h1.6v1.6h-1.6zM363.1 231.2h1.6v1.6h-1.6zM363.3 232.2h1.6v1.6h-1.6zM363.3 233.2h1.6v1.6h-1.6zM363.2 235.2h1.6v1.6h-1.6zM363.2 236.2h1.6v1.6h-1.6zM364.4 228.8h1.6v1.6h-1.6zM364.2 232.8h1.6v1.6h-1.6zM364.4 233.8h1.6v1.6h-1.6zM364.3 234.8h1.6v1.6h-1.6zM365.2 228h1.6v1.6h-1.6zM365.3 229h1.6v1.6h-1.6zM365.4 231h1.6v1.6h-1.6zM365.4 232h1.6v1.6h-1.6zM365.3 235h1.6v1.6h-1.6zM365.2 236h1.6v1.6h-1.6zM365.3 237h1.6v1.6h-1.6zM366.2 228.5h1.6v1.6h-1.6zM366.1 230.5h1.6v1.6h-1.6zM366.4 232.5h1.6v1.6h-1.6zM366.2 235.5h1.6v1.6h-1.6zM366.1 237.5h1.6v1.6h-1.6zM367.2 219.2h1.6v1.6h-1.6zM367.1 226.2h1.6v1.6h-1.6zM367.2 229.2h1.6v1.6h-1.6zM367.3 230.2h1.6v1.6h-1.6zM367.2 231.2h1.6v1.6h-1.6zM367.1 232.2h1.6v1.6h-1.6zM367.2 235.2h1.6v1.6h-1.6zM367.4 236.2h1.6v1.6h-1.6zM367.4 237.2h1.6v1.6h-1.6zM367.3 238.2h1.6v1.6h-1.6zM367.2 239.2h1.6v1.6h-1.6zM368.4 219.9h1.6v1.6h-1.6zM368.1 227.9h1.6v1.6h-1.6zM368.3 232.9h1.6v1.6h-1.6zM368.2 233.9h1.6v1.6h-1.6zM368.4 234.9h1.6v1.6h-1.6zM368.4 235.9h1.6v1.6h-1.6zM368.3 236.9h1.6v1.6h-1.6zM369.3 231.9h1.6v1.6h-1.6zM369.5 235.9h1.6v1.6h-1.6zM370.2 226.3h1.6v1.6h-1.6zM370.4 228.3h1.6v1.6h-1.6zM370.3 229.3h1.6v1.6h-1.6zM370.2 230.3h1.6v1.6h-1.6zM370.3 231.3h1.6v1.6h-1.6zM370.2 232.3h1.6v1.6h-1.6zM370.3 233.3h1.6v1.6h-1.6zM370.2 234.3h1.6v1.6h-1.6zM370.1 235.3h1.6v1.6h-1.6zM370.2 236.3h1.6v1.6h-1.6zM371.3 223.7h1.6v1.6h-1.6zM371.3 226.7h1.6v1.6h-1.6zM371.3 228.7h1.6v1.6h-1.6zM371.1 230.7h1.6v1.6h-1.6zM371.2 232.7h1.6v1.6h-1.6zM371.2 233.7h1.6v1.6h-1.6zM371.4 235.7h1.6v1.6h-1.6zM371.3 238.7h1.6v1.6h-1.6zM372.3 237.7h1.6v1.6h-1.6zM372.3 238.7h1.6v1.6h-1.6zM373.1 232h1.6v1.6h-1.6zM373.3 233h1.6v1.6h-1.6zM373.3 237h1.6v1.6h-1.6zM373.2 238h1.6v1.6h-1.6zM374.4 230.4h1.6v1.6h-1.6zM374.1 231.4h1.6v1.6h-1.6zM374.4 233.4h1.6v1.6h-1.6zM374.5 235.4h1.6v1.6h-1.6zM374.4 236.4h1.6v1.6h-1.6zM374.3 237.4h1.6v1.6h-1.6zM374.2 238.4h1.6v1.6h-1.6zM374.3 239.4h1.6v1.6h-1.6zM375.4 232.6h1.6v1.6h-1.6zM375.4 237.6h1.6v1.6h-1.6zM375.2 238.6h1.6v1.6h-1.6zM376.5 234.3h1.6v1.6h-1.6zM376.3 237.3h1.6v1.6h-1.6zM376.5 238.3h1.6v1.6h-1.6zM377.2 226.5h1.6v1.6h-1.6zM377.2 227.5h1.6v1.6h-1.6zM377.3 229.5h1.6v1.6h-1.6zM377.2 231.5h1.6v1.6h-1.6zM377.3 232.5h1.6v1.6h-1.6zM377.2 234.5h1.6v1.6h-1.6zM377.3 236.5h1.6v1.6h-1.6zM377.3 237.5h1.6v1.6h-1.6zM374.2 225.2h1.6v1.6h-1.6zM374.3 226.2h1.6v1.6h-1.6zM374.5 227.2h1.6v1.6h-1.6zM374.3 228.2h1.6v1.6h-1.6zM374.5 229.2h1.6v1.6h-1.6zM374.3 230.2h1.6v1.6h-1.6zM374.3 231.2h1.6v1.6h-1.6zM374.2 233.2h1.6v1.6h-1.6zM374.5 234.2h1.6v1.6h-1.6zM374.5 235.2h1.6v1.6h-1.6zM374.2 236.2h1.6v1.6h-1.6zM358.7 202.6h1.6v1.6h-1.6zM358.7 204h1.6v1.6h-1.6zM355.9 204.7h1.6v1.6h-1.6zM358.7 206.8h1.6v1.6h-1.6zM373.5 203.3h1.6v1.6h-1.6zM362.9 211.7h1.6v1.6h-1.6zM362.9 215.2h1.6v1.6h-1.6zM369.2 216h1.6v1.6h-1.6zM366.5 219.5h1.6v1.6h-1.6zM372.8 219.5h1.6v1.6h-1.6zM374.8 213.1h1.6v1.6h-1.6zM369.9 219.5h1.6v1.6h-1.6zM355 204.8h1.6v1.6h-1.6z"/>
<path fill="#37AF4B" d="M379,293.7 379,236.2 380,236.2 380,237.5 381,237.5 381,238.5 382,238.5 382,239.8 383,239.8 383,237 384,237 384,237.9 385,237.9 385,237.5 386,237.5 386,239.2 387,239.2 387,238.6 388,238.6 388,234.4 389,234.4 389,235.5 390,235.5 390,233.6 391,233.6 391,232.7 392,232.7 392,234.2 393,234.2 393,235 394,235 394,235.5 395,235.5 395,234.6 396,234.6 396,232.9 396.4,232.9 396.4,293.7ZM378.6 227.4h1.6v1.6h-1.6zM378.8 230.4h1.6v1.6h-1.6zM378.6 232.4h1.6v1.6h-1.6zM378.7 233.4h1.6v1.6h-1.6zM378.6 234.4h1.6v1.6h-1.6zM379.6 232.7h1.6v1.6h-1.6zM379.6 233.7h1.6v1.6h-1.6zM380.7 234.7h1.6v1.6h-1.6zM380.9 235.7h1.6v1.6h-1.6zM380.6 236.7h1.6v1.6h-1.6zM380.5 237.7h1.6v1.6h-1.6zM381.7 228h1.6v1.6h-1.6zM381.8 229h1.6v1.6h-1.6zM381.8 235h1.6v1.6h-1.6zM381.8 237h1.6v1.6h-1.6zM381.8 238h1.6v1.6h-1.6zM381.8 239h1.6v1.6h-1.6zM382.7 223.2h1.6v1.6h-1.6zM382.6 229.2h1.6v1.6h-1.6zM382.7 234.2h1.6v1.6h-1.6zM383.8 229.1h1.6v1.6h-1.6zM383.7 230.1h1.6v1.6h-1.6zM383.7 232.1h1.6v1.6h-1.6zM383.9 233.1h1.6v1.6h-1.6zM383.8 234.1h1.6v1.6h-1.6zM383.8 235.1h1.6v1.6h-1.6zM383.6 236.1h1.6v1.6h-1.6zM384.5 232.7h1.6v1.6h-1.6zM384.5 233.7h1.6v1.6h-1.6zM384.5 234.7h1.6v1.6h-1.6zM384.7 236.7h1.6v1.6h-1.6zM385.6 226.4h1.6v1.6h-1.6zM385.6 232.4h1.6v1.6h-1.6zM385.9 234.4h1.6v1.6h-1.6zM385.8 236.4h1.6v1.6h-1.6zM385.7 238.4h1.6v1.6h-1.6zM386.9 219.8h1.6v1.6h-1.6zM386.5 223.8h1.6v1.6h-1.6zM386.6 224.8h1.6v1.6h-1.6zM386.8 225.8h1.6v1.6h-1.6zM386.5 226.8h1.6v1.6h-1.6zM386.7 229.8h1.6v1.6h-1.6zM386.8 230.8h1.6v1.6h-1.6zM386.9 231.8h1.6v1.6h-1.6zM386.7 232.8h1.6v1.6h-1.6zM386.7 233.8h1.6v1.6h-1.6zM386.9 234.8h1.6v1.6h-1.6zM386.6 236.8h1.6v1.6h-1.6zM387.5 226.6h1.6v1.6h-1.6zM387.8 227.6h1.6v1.6h-1.6zM387.8 229.6h1.6v1.6h-1.6zM387.7 232.6h1.6v1.6h-1.6zM387.9 233.6h1.6v1.6h-1.6zM388.9 221.7h1.6v1.6h-1.6zM388.9 226.7h1.6v1.6h-1.6zM388.7 229.7h1.6v1.6h-1.6zM388.7 231.7h1.6v1.6h-1.6zM388.6 232.7h1.6v1.6h-1.6zM388.8 233.7h1.6v1.6h-1.6zM388.8 234.7h1.6v1.6h-1.6zM389.8 222.8h1.6v1.6h-1.6zM389.7 230.8h1.6v1.6h-1.6zM389.8 231.8h1.6v1.6h-1.6zM390.8 220.9h1.6v1.6h-1.6zM390.7 222.9h1.6v1.6h-1.6zM390.6 225.9h1.6v1.6h-1.6zM390.7 226.9h1.6v1.6h-1.6zM390.9 227.9h1.6v1.6h-1.6zM390.8 228.9h1.6v1.6h-1.6zM390.5 231.9h1.6v1.6h-1.6zM391.7 218.4h1.6v1.6h-1.6zM391.8 219.4h1.6v1.6h-1.6zM391.8 220.4h1.6v1.6h-1.6zM391.9 222.4h1.6v1.6h-1.6zM391.6 223.4h1.6v1.6h-1.6zM391.8 224.4h1.6v1.6h-1.6zM391.9 225.4h1.6v1.6h-1.6zM391.8 226.4h1.6v1.6h-1.6zM391.6 228.4h1.6v1.6h-1.6zM391.8 229.4h1.6v1.6h-1.6zM391.7 230.4h1.6v1.6h-1.6zM391.7 231.4h1.6v1.6h-1.6zM392.5 222.2h1.6v1.6h-1.6zM392.6 223.2h1.6v1.6h-1.6zM392.5 224.2h1.6v1.6h-1.6zM392.7 225.2h1.6v1.6h-1.6zM392.5 226.2h1.6v1.6h-1.6zM392.8 227.2h1.6v1.6h-1.6zM392.5 229.2h1.6v1.6h-1.6zM392.8 230.2h1.6v1.6h-1.6zM392.8 231.2h1.6v1.6h-1.6zM392.7 232.2h1.6v1.6h-1.6zM392.5 233.2h1.6v1.6h-1.6zM392.9 234.2h1.6v1.6h-1.6zM393.6 227.7h1.6v1.6h-1.6zM393.9 232.7h1.6v1.6h-1.6zM393.7 233.7h1.6v1.6h-1.6zM393.6 234.7h1.6v1.6h-1.6zM394.7 231.8h1.6v1.6h-1.6zM394.6 232.8h1.6v1.6h-1.6zM395.4 217.1h1.6v1.6h-1.6zM395.5 222.1h1.6v1.6h-1.6zM395.6 223.1h1.6v1.6h-1.6zM395.3 228.1h1.6v1.6h-1.6zM395.5 229.1h1.6v1.6h-1.6zM395.3 230.1h1.6v1.6h-1.6zM395.3 231.1h1.6v1.6h-1.6zM395.3 232.1h1.6v1.6h-1.6zM383.6 214.2h1.6v1.6h-1.6zM383.5 215.2h1.6v1.6h-1.6zM383.8 216.2h1.6v1.6h-1.6zM383.4 217.2h1.6v1.6h-1.6zM383.7 218.2h1.6v1.6h-1.6zM383.6 219.2h1.6v1.6h-1.6zM383.5 220.2h1.6v1.6h-1.6zM383.6 224.2h1.6v1.6h-1.6zM383.5 227.2h1.6v1.6h-1.6zM383.8 228.2h1.6v1.6h-1.6zM383.5 230.2h1.6v1.6h-1.6zM383.7 231.2h1.6v1.6h-1.6zM383.6 233.2h1.6v1.6h-1.6zM383.5 234.2h1.6v1.6h-1.6zM383.5 235.2h1.6v1.6h-1.6zM383.8 236.2h1.6v1.6h-1.6zM389.9 221.9h1.6v1.6h-1.6zM390.1 223.9h1.6v1.6h-1.6zM388.4 225.9h1.6v1.6h-1.6zM388.1 227.9h1.6v1.6h-1.6zM388.5 229.9h1.6v1.6h-1.6zM390.1 231.9h1.6v1.6h-1.6zM388.2 198.4h1.6v1.6h-1.6zM388.2 199.8h1.6v1.6h-1.6zM388.2 201.2h1.6v1.6h-1.6zM388.2 210.3h1.6v1.6h-1.6zM383.3 212.4h1.6v1.6h-1.6zM383.3 215.2h1.6v1.6h-1.6zM393.2 216h1.6v1.6h-1.6zM388.2 218.1h1.6v1.6h-1.6zM390.3 220.9h1.6v1.6h-1.6zM379.8 225.8h1.6v1.6h-1.6z"/>
<path fill="#FF6900" d="M397.3,293.7 397.3,233.1 398.3,233.1 398.3,233.6 399.3,233.6 399.3,236 400.3,236 400.3,234.5 401.3,234.5 401.3,233.1 402.3,233.1 402.3,235.6 403.3,235.6 403.3,234.9 404.3,234.9 404.3,233.3 405.3,233.3 405.3,235.5 406.3,235.5 406.3,234.6 407.3,234.6 407.3,234.9 408.3,234.9 408.3,234.1 409.3,234.1 409.3,232.9 410.3,232.9 410.3,235.9 411.3,235.9 411.3,234.7 412.3,234.7 412.3,236.7 413.3,236.7 413.3,235.6 413.7,235.6 413.7,293.7ZM396.9 230.3h1.6v1.6h-1.6zM397.2 231.3h1.6v1.6h-1.6zM397.2 232.3h1.6v1.6h-1.6zM397.8 230.8h1.6v1.6h-1.6zM398.2 231.8h1.6v1.6h-1.6zM398.2 232.8h1.6v1.6h-1.6zM399.1 217.2h1.6v1.6h-1.6zM399 218.2h1.6v1.6h-1.6zM399.2 221.2h1.6v1.6h-1.6zM398.9 222.2h1.6v1.6h-1.6zM399.1 223.2h1.6v1.6h-1.6zM399.2 225.2h1.6v1.6h-1.6zM399.2 227.2h1.6v1.6h-1.6zM399 228.2h1.6v1.6h-1.6zM398.9 229.2h1.6v1.6h-1.6zM398.9 230.2h1.6v1.6h-1.6zM399.2 231.2h1.6v1.6h-1.6zM399.1 232.2h1.6v1.6h-1.6zM399 234.2h1.6v1.6h-1.6zM398.8 235.2h1.6v1.6h-1.6zM400 217.7h1.6v1.6h-1.6zM400.2 230.7h1.6v1.6h-1.6zM399.9 233.7h1.6v1.6h-1.6zM400.8 226.3h1.6v1.6h-1.6zM400.8 229.3h1.6v1.6h-1.6zM401.1 231.3h1.6v1.6h-1.6zM402 212.8h1.6v1.6h-1.6zM401.9 216.8h1.6v1.6h-1.6zM401.8 217.8h1.6v1.6h-1.6zM402.2 219.8h1.6v1.6h-1.6zM402.1 220.8h1.6v1.6h-1.6zM402 221.8h1.6v1.6h-1.6zM402.2 222.8h1.6v1.6h-1.6zM401.8 223.8h1.6v1.6h-1.6zM402.1 224.8h1.6v1.6h-1.6zM402.1 226.8h1.6v1.6h-1.6zM402.1 227.8h1.6v1.6h-1.6zM401.8 228.8h1.6v1.6h-1.6zM401.9 229.8h1.6v1.6h-1.6zM402.1 230.8h1.6v1.6h-1.6zM401.9 231.8h1.6v1.6h-1.6zM402 232.8h1.6v1.6h-1.6zM402.1 233.8h1.6v1.6h-1.6zM401.9 234.8h1.6v1.6h-1.6zM403.1 232.1h1.6v1.6h-1.6zM403 234.1h1.6v1.6h-1.6zM404 209.5h1.6v1.6h-1.6zM404.1 221.5h1.6v1.6h-1.6zM403.9 227.5h1.6v1.6h-1.6zM403.9 230.5h1.6v1.6h-1.6zM403.9 231.5h1.6v1.6h-1.6zM404 232.5h1.6v1.6h-1.6zM405.1 218.7h1.6v1.6h-1.6zM405 233.7h1.6v1.6h-1.6zM405.8 212.8h1.6v1.6h-1.6zM406.1 224.8h1.6v1.6h-1.6zM406 226.8h1.6v1.6h-1.6zM405.9 228.8h1.6v1.6h-1.6zM406.2 229.8h1.6v1.6h-1.6zM406.1 230.8h1.6v1.6h-1.6zM406.1 231.8h1.6v1.6h-1.6zM406 233.8h1.6v1.6h-1.6zM407.1 215.1h1.6v1.6h-1.6zM407.1 230.1h1.6v1.6h-1.6zM407 233.1h1.6v1.6h-1.6zM407.1 234.1h1.6v1.6h-1.6zM407.9 228.3h1.6v1.6h-1.6zM408 231.3h1.6v1.6h-1.6zM409.1 225.1h1.6v1.6h-1.6zM409.1 226.1h1.6v1.6h-1.6zM409 227.1h1.6v1.6h-1.6zM408.9 228.1h1.6v1.6h-1.6zM409 229.1h1.6v1.6h-1.6zM409 230.1h1.6v1.6h-1.6zM409.9 211.1h1.6v1.6h-1.6zM409.9 214.1h1.6v1.6h-1.6zM410.2 216.1h1.6v1.6h-1.6zM410.1 218.1h1.6v1.6h-1.6zM409.9 219.1h1.6v1.6h-1.6zM410 220.1h1.6v1.6h-1.6zM410.1 221.1h1.6v1.6h-1.6zM410 222.1h1.6v1.6h-1.6zM409.9 224.1h1.6v1.6h-1.6zM410.1 225.1h1.6v1.6h-1.6zM410.2 226.1h1.6v1.6h-1.6zM410.1 227.1h1.6v1.6h-1.6zM410.2 228.1h1.6v1.6h-1.6zM409.9 230.1h1.6v1.6h-1.6zM409.9 231.1h1.6v1.6h-1.6zM410.1 232.1h1.6v1.6h-1.6zM409.8 233.1h1.6v1.6h-1.6zM410.1 234.1h1.6v1.6h-1.6zM410.1 235.1h1.6v1.6h-1.6zM411 223.9h1.6v1.6h-1.6zM411 225.9h1.6v1.6h-1.6zM411.1 226.9h1.6v1.6h-1.6zM410.9 227.9h1.6v1.6h-1.6zM411 229.9h1.6v1.6h-1.6zM411.9 214.9h1.6v1.6h-1.6zM412 220.9h1.6v1.6h-1.6zM411.9 223.9h1.6v1.6h-1.6zM411.8 224.9h1.6v1.6h-1.6zM412.2 226.9h1.6v1.6h-1.6zM411.9 228.9h1.6v1.6h-1.6zM411.9 229.9h1.6v1.6h-1.6zM412.1 230.9h1.6v1.6h-1.6zM412.2 231.9h1.6v1.6h-1.6zM412 232.9h1.6v1.6h-1.6zM412 233.9h1.6v1.6h-1.6zM411.9 234.9h1.6v1.6h-1.6zM412.1 235.9h1.6v1.6h-1.6zM412.8 219.8h1.6v1.6h-1.6zM412.5 231.8h1.6v1.6h-1.6zM412.7 233.8h1.6v1.6h-1.6zM412.7 234.8h1.6v1.6h-1.6zM399.6 216.7h1.6v1.6h-1.6zM400.1 217.7h1.6v1.6h-1.6zM400.6 218.7h1.6v1.6h-1.6zM399.8 219.7h1.6v1.6h-1.6zM400.4 225.7h1.6v1.6h-1.6zM400.3 226.7h1.6v1.6h-1.6zM400 229.7h1.6v1.6h-1.6zM399.5 230.7h1.6v1.6h-1.6zM399.8 231.7h1.6v1.6h-1.6zM400.8 233.7h1.6v1.6h-1.6zM409.2 222.9h1.6v1.6h-1.6zM408.8 226.9h1.6v1.6h-1.6zM408.8 227.9h1.6v1.6h-1.6zM409 228.9h1.6v1.6h-1.6zM408.5 229.9h1.6v1.6h-1.6zM408.1 230.9h1.6v1.6h-1.6zM408.3 231.9h1.6v1.6h-1.6zM398.1 194.8h1.6v1.6h-1.6zM398.8 197.7h1.6v1.6h-1.6zM398.1 206.1h1.6v1.6h-1.6zM401.3 207.2h1.6v1.6h-1.6zM398.8 211h1.6v1.6h-1.6zM400.2 211h1.6v1.6h-1.6zM399.5 213.8h1.6v1.6h-1.6zM410 213.8h1.6v1.6h-1.6zM408.6 220.9h1.6v1.6h-1.6zM410 220.9h1.6v1.6h-1.6z"/>
<path fill="#6914B4" d="M414.8,293.7 414.8,236.6 415.8,236.6 415.8,234.9 416.8,234.9 416.8,236.8 417.8,236.8 417.8,235.3 418.8,235.3 418.8,237.1 419.8,237.1 419.8,237.8 420.8,237.8 420.8,239 421.8,239 421.8,239.5 422.8,239.5 422.8,239.8 423.8,239.8 423.8,237.7 424.8,237.7 424.8,238.7 425.8,238.7 425.8,236.3 426.8,236.3 426.8,237.1 427.8,237.1 427.8,237 427.9,237 427.9,293.7ZM414.6 235.8h1.6v1.6h-1.6zM415.6 230.1h1.6v1.6h-1.6zM415.7 231.1h1.6v1.6h-1.6zM415.6 232.1h1.6v1.6h-1.6zM415.4 233.1h1.6v1.6h-1.6zM415.4 234.1h1.6v1.6h-1.6zM416.3 213h1.6v1.6h-1.6zM416.5 216h1.6v1.6h-1.6zM416.6 217h1.6v1.6h-1.6zM416.3 219h1.6v1.6h-1.6zM416.4 221h1.6v1.6h-1.6zM416.6 222h1.6v1.6h-1.6zM416.6 224h1.6v1.6h-1.6zM416.4 225h1.6v1.6h-1.6zM416.3 226h1.6v1.6h-1.6zM416.6 228h1.6v1.6h-1.6zM416.5 231h1.6v1.6h-1.6zM416.6 233h1.6v1.6h-1.6zM416.6 235h1.6v1.6h-1.6zM416.5 236h1.6v1.6h-1.6zM417.4 212.5h1.6v1.6h-1.6zM417.6 229.5h1.6v1.6h-1.6zM419.6 217h1.6v1.6h-1.6zM419.3 231h1.6v1.6h-1.6zM419.5 233h1.6v1.6h-1.6zM419.5 234h1.6v1.6h-1.6zM419.7 237h1.6v1.6h-1.6zM420.6 228.2h1.6v1.6h-1.6zM420.4 229.2h1.6v1.6h-1.6zM420.3 232.2h1.6v1.6h-1.6zM420.6 233.2h1.6v1.6h-1.6zM420.6 234.2h1.6v1.6h-1.6zM420.4 235.2h1.6v1.6h-1.6zM420.5 236.2h1.6v1.6h-1.6zM420.5 237.2h1.6v1.6h-1.6zM420.4 238.2h1.6v1.6h-1.6zM421.6 228.7h1.6v1.6h-1.6zM421.7 229.7h1.6v1.6h-1.6zM421.7 230.7h1.6v1.6h-1.6zM421.5 231.7h1.6v1.6h-1.6zM421.4 232.7h1.6v1.6h-1.6zM421.5 233.7h1.6v1.6h-1.6zM421.7 235.7h1.6v1.6h-1.6zM421.5 237.7h1.6v1.6h-1.6zM421.6 238.7h1.6v1.6h-1.6zM422.4 235h1.6v1.6h-1.6zM422.3 236h1.6v1.6h-1.6zM422.7 237h1.6v1.6h-1.6zM422.5 239h1.6v1.6h-1.6zM423.4 219.9h1.6v1.6h-1.6zM423.3 232.9h1.6v1.6h-1.6zM423.3 233.9h1.6v1.6h-1.6zM423.3 234.9h1.6v1.6h-1.6zM423.6 235.9h1.6v1.6h-1.6zM423.7 236.9h1.6v1.6h-1.6zM424.4 228.9h1.6v1.6h-1.6zM424.4 229.9h1.6v1.6h-1.6zM424.7 233.9h1.6v1.6h-1.6zM424.4 234.9h1.6v1.6h-1.6zM424.5 237.9h1.6v1.6h-1.6zM425.6 217.5h1.6v1.6h-1.6zM425.7 222.5h1.6v1.6h-1.6zM425.7 224.5h1.6v1.6h-1.6zM425.4 225.5h1.6v1.6h-1.6zM425.6 228.5h1.6v1.6h-1.6zM425.3 229.5h1.6v1.6h-1.6zM425.6 230.5h1.6v1.6h-1.6zM425.4 231.5h1.6v1.6h-1.6zM425.7 232.5h1.6v1.6h-1.6zM425.5 233.5h1.6v1.6h-1.6zM425.5 234.5h1.6v1.6h-1.6zM426.3 226.3h1.6v1.6h-1.6zM426.4 228.3h1.6v1.6h-1.6zM426.6 229.3h1.6v1.6h-1.6zM426.5 230.3h1.6v1.6h-1.6zM426.5 231.3h1.6v1.6h-1.6zM426.4 234.3h1.6v1.6h-1.6zM426.4 236.3h1.6v1.6h-1.6zM426.9 229.2h1.6v1.6h-1.6zM427 233.2h1.6v1.6h-1.6zM426.9 234.2h1.6v1.6h-1.6zM427 235.2h1.6v1.6h-1.6zM427.2 236.2h1.6v1.6h-1.6zM426.5 217.2h1.6v1.6h-1.6zM426.4 222.2h1.6v1.6h-1.6zM426.5 224.2h1.6v1.6h-1.6zM426.3 227.2h1.6v1.6h-1.6zM426.4 229.2h1.6v1.6h-1.6zM426.3 231.2h1.6v1.6h-1.6zM426.5 232.2h1.6v1.6h-1.6zM426.4 233.2h1.6v1.6h-1.6zM426.6 234.2h1.6v1.6h-1.6zM426.3 235.2h1.6v1.6h-1.6zM426.8 199.1h1.6v1.6h-1.6zM426.1 210.3h1.6v1.6h-1.6zM426.1 211.7h1.6v1.6h-1.6zM416.9 216.7h1.6v1.6h-1.6zM419.8 219.5h1.6v1.6h-1.6zM417.7 222.3h1.6v1.6h-1.6zM422.6 223h1.6v1.6h-1.6z"/>
<path fill="#323232" d="M427.9,293.7 427.9,229.9 428.9,229.9 428.9,230.6 429.9,230.6 429.9,230.7 430.9,230.7 430.9,229.6 431.9,229.6 431.9,231.7 432.9,231.7 432.9,231.9 433.9,231.9 433.9,232.3 434.9,232.3 434.9,232.8 435.9,232.8 435.9,233.7 436.9,233.7 436.9,232.6 437.9,232.6 437.9,234.6 438.9,234.6 438.9,232.2 439.9,232.2 439.9,232.7 440.9,232.7 440.9,233.3 441.7,233.3 441.7,293.7ZM427.8 209.1h1.6v1.6h-1.6zM427.5 217.1h1.6v1.6h-1.6zM427.7 224.1h1.6v1.6h-1.6zM427.4 228.1h1.6v1.6h-1.6zM428.6 218.8h1.6v1.6h-1.6zM428.5 221.8h1.6v1.6h-1.6zM428.5 223.8h1.6v1.6h-1.6zM428.6 224.8h1.6v1.6h-1.6zM428.8 225.8h1.6v1.6h-1.6zM428.6 227.8h1.6v1.6h-1.6zM428.4 228.8h1.6v1.6h-1.6zM428.5 229.8h1.6v1.6h-1.6zM429.8 211.9h1.6v1.6h-1.6zM429.7 223.9h1.6v1.6h-1.6zM429.5 224.9h1.6v1.6h-1.6zM429.6 225.9h1.6v1.6h-1.6zM429.7 226.9h1.6v1.6h-1.6zM429.7 227.9h1.6v1.6h-1.6zM429.5 228.9h1.6v1.6h-1.6zM430.8 225.8h1.6v1.6h-1.6zM430.8 227.8h1.6v1.6h-1.6zM430.7 228.8h1.6v1.6h-1.6zM431.7 228.9h1.6v1.6h-1.6zM431.6 229.9h1.6v1.6h-1.6zM431.5 230.9h1.6v1.6h-1.6zM432.6 216.1h1.6v1.6h-1.6zM432.7 217.1h1.6v1.6h-1.6zM432.6 218.1h1.6v1.6h-1.6zM432.7 219.1h1.6v1.6h-1.6zM432.7 220.1h1.6v1.6h-1.6zM432.4 222.1h1.6v1.6h-1.6zM432.4 223.1h1.6v1.6h-1.6zM432.5 224.1h1.6v1.6h-1.6zM432.6 225.1h1.6v1.6h-1.6zM432.5 226.1h1.6v1.6h-1.6zM432.7 227.1h1.6v1.6h-1.6zM432.5 228.1h1.6v1.6h-1.6zM432.4 229.1h1.6v1.6h-1.6zM432.4 231.1h1.6v1.6h-1.6zM433.7 224.5h1.6v1.6h-1.6zM433.7 229.5h1.6v1.6h-1.6zM433.7 230.5h1.6v1.6h-1.6zM433.6 231.5h1.6v1.6h-1.6zM434.5 228h1.6v1.6h-1.6zM434.8 229h1.6v1.6h-1.6zM434.7 231h1.6v1.6h-1.6zM434.4 232h1.6v1.6h-1.6zM435.7 226.9h1.6v1.6h-1.6zM435.4 227.9h1.6v1.6h-1.6zM435.4 228.9h1.6v1.6h-1.6zM435.6 229.9h1.6v1.6h-1.6zM435.8 230.9h1.6v1.6h-1.6zM435.5 231.9h1.6v1.6h-1.6zM435.7 232.9h1.6v1.6h-1.6zM436.7 224.8h1.6v1.6h-1.6zM436.6 228.8h1.6v1.6h-1.6zM436.5 230.8h1.6v1.6h-1.6zM437.6 219.8h1.6v1.6h-1.6zM437.6 231.8h1.6v1.6h-1.6zM437.6 233.8h1.6v1.6h-1.6zM438.8 208.4h1.6v1.6h-1.6zM438.6 209.4h1.6v1.6h-1.6zM438.8 210.4h1.6v1.6h-1.6zM438.6 211.4h1.6v1.6h-1.6zM438.5 214.4h1.6v1.6h-1.6zM438.5 217.4h1.6v1.6h-1.6zM438.6 218.4h1.6v1.6h-1.6zM438.8 220.4h1.6v1.6h-1.6zM438.5 222.4h1.6v1.6h-1.6zM438.8 223.4h1.6v1.6h-1.6zM438.6 225.4h1.6v1.6h-1.6zM438.7 226.4h1.6v1.6h-1.6zM438.6 227.4h1.6v1.6h-1.6zM438.7 230.4h1.6v1.6h-1.6zM438.5 231.4h1.6v1.6h-1.6zM439.8 219.9h1.6v1.6h-1.6zM439.8 222.9h1.6v1.6h-1.6zM439.6 224.9h1.6v1.6h-1.6zM439.6 225.9h1.6v1.6h-1.6zM439.8 226.9h1.6v1.6h-1.6zM439.6 227.9h1.6v1.6h-1.6zM439.8 228.9h1.6v1.6h-1.6zM439.6 229.9h1.6v1.6h-1.6zM440.7 227.5h1.6v1.6h-1.6zM440.3 229.5h1.6v1.6h-1.6zM440.6 230.5h1.6v1.6h-1.6zM440.6 232.5h1.6v1.6h-1.6zM427.5 206.1h1.6v1.6h-1.6zM428.2 207.5h1.6v1.6h-1.6zM436 211h1.6v1.6h-1.6zM439.5 210h1.6v1.6h-1.6zM431.7 215.2h1.6v1.6h-1.6zM435.2 215.2h1.6v1.6h-1.6zM431.7 218.8h1.6v1.6h-1.6zM438.1 216.7h1.6v1.6h-1.6zM438.1 222.3h1.6v1.6h-1.6z"/>
<path fill="#1EAAD7" d="M441.7,293.7 441.7,231.3 442.7,231.3 442.7,232.1 443.7,232.1 443.7,232.4 444.7,232.4 444.7,233.1 445.7,233.1 445.7,230.7 446.7,230.7 446.7,229.1 447.7,229.1 447.7,230.8 448.7,230.8 448.7,229 449.7,229 449.7,230.1 450.7,230.1 450.7,232.5 451.7,232.5 451.7,230.1 452.7,230.1 452.7,232.1 453.7,232.1 453.7,232.1 454.7,232.1 454.7,231.4 454.8,231.4 454.8,293.7ZM441.2 222.5h1.6v1.6h-1.6zM441.5 223.5h1.6v1.6h-1.6zM441.5 224.5h1.6v1.6h-1.6zM441.6 225.5h1.6v1.6h-1.6zM441.5 226.5h1.6v1.6h-1.6zM441.3 228.5h1.6v1.6h-1.6zM442.4 217.3h1.6v1.6h-1.6zM442.5 224.3h1.6v1.6h-1.6zM442.6 226.3h1.6v1.6h-1.6zM442.4 227.3h1.6v1.6h-1.6zM442.3 230.3h1.6v1.6h-1.6zM442.4 231.3h1.6v1.6h-1.6zM443.2 225.6h1.6v1.6h-1.6zM443.4 228.6h1.6v1.6h-1.6zM444.2 209.3h1.6v1.6h-1.6zM444.2 212.3h1.6v1.6h-1.6zM444.2 213.3h1.6v1.6h-1.6zM444.5 214.3h1.6v1.6h-1.6zM444.5 217.3h1.6v1.6h-1.6zM444.4 218.3h1.6v1.6h-1.6zM444.6 219.3h1.6v1.6h-1.6zM444.2 220.3h1.6v1.6h-1.6zM444.2 221.3h1.6v1.6h-1.6zM444.3 223.3h1.6v1.6h-1.6zM444.5 224.3h1.6v1.6h-1.6zM444.5 225.3h1.6v1.6h-1.6zM444.2 226.3h1.6v1.6h-1.6zM444.5 228.3h1.6v1.6h-1.6zM444.6 229.3h1.6v1.6h-1.6zM444.4 230.3h1.6v1.6h-1.6zM444.4 231.3h1.6v1.6h-1.6zM444.3 232.3h1.6v1.6h-1.6zM445.5 221.9h1.6v1.6h-1.6zM445.4 223.9h1.6v1.6h-1.6zM445.3 225.9h1.6v1.6h-1.6zM445.6 226.9h1.6v1.6h-1.6zM445.5 227.9h1.6v1.6h-1.6zM445.3 228.9h1.6v1.6h-1.6zM445.4 229.9h1.6v1.6h-1.6zM446.3 215.3h1.6v1.6h-1.6zM446.4 225.3h1.6v1.6h-1.6zM446.3 226.3h1.6v1.6h-1.6zM446.2 227.3h1.6v1.6h-1.6zM446.6 228.3h1.6v1.6h-1.6zM447.5 214h1.6v1.6h-1.6zM447.2 217h1.6v1.6h-1.6zM447.3 218h1.6v1.6h-1.6zM447.5 221h1.6v1.6h-1.6zM447.5 222h1.6v1.6h-1.6zM447.4 223h1.6v1.6h-1.6zM447.5 226h1.6v1.6h-1.6zM447.4 227h1.6v1.6h-1.6zM447.3 229h1.6v1.6h-1.6zM447.3 230h1.6v1.6h-1.6zM448.3 215.2h1.6v1.6h-1.6zM448.5 216.2h1.6v1.6h-1.6zM448.6 217.2h1.6v1.6h-1.6zM448.5 218.2h1.6v1.6h-1.6zM448.2 219.2h1.6v1.6h-1.6zM448.4 220.2h1.6v1.6h-1.6zM448.6 222.2h1.6v1.6h-1.6zM448.5 223.2h1.6v1.6h-1.6zM448.5 225.2h1.6v1.6h-1.6zM448.5 227.2h1.6v1.6h-1.6zM448.4 228.2h1.6v1.6h-1.6zM449.3 219.3h1.6v1.6h-1.6zM449.5 222.3h1.6v1.6h-1.6zM449.6 224.3h1.6v1.6h-1.6zM449.3 226.3h1.6v1.6h-1.6zM449.2 227.3h1.6v1.6h-1.6zM449.3 228.3h1.6v1.6h-1.6zM449.5 229.3h1.6v1.6h-1.6zM450.5 224.7h1.6v1.6h-1.6zM450.4 226.7h1.6v1.6h-1.6zM450.4 227.7h1.6v1.6h-1.6zM450.2 228.7h1.6v1.6h-1.6zM450.6 229.7h1.6v1.6h-1.6zM451.2 222.3h1.6v1.6h-1.6zM451.2 223.3h1.6v1.6h-1.6zM451.4 225.3h1.6v1.6h-1.6zM451.3 226.3h1.6v1.6h-1.6zM451.3 227.3h1.6v1.6h-1.6zM451.5 228.3h1.6v1.6h-1.6zM452.4 228.3h1.6v1.6h-1.6zM452.6 231.3h1.6v1.6h-1.6zM453.6 215.3h1.6v1.6h-1.6zM453.3 220.3h1.6v1.6h-1.6zM453.2 221.3h1.6v1.6h-1.6zM453.3 223.3h1.6v1.6h-1.6zM453.2 224.3h1.6v1.6h-1.6zM453.2 225.3h1.6v1.6h-1.6zM453.5 226.3h1.6v1.6h-1.6zM453.4 227.3h1.6v1.6h-1.6zM453.3 228.3h1.6v1.6h-1.6zM453.8 222.6h1.6v1.6h-1.6zM453.8 229.6h1.6v1.6h-1.6zM453.8 230.6h1.6v1.6h-1.6zM444.5 218.2h1.6v1.6h-1.6zM447.4 219.2h1.6v1.6h-1.6zM446.2 222.2h1.6v1.6h-1.6zM445.5 227.2h1.6v1.6h-1.6zM446.3 228.2h1.6v1.6h-1.6zM445.6 229.2h1.6v1.6h-1.6zM447.2 205.4h1.6v1.6h-1.6zM447.2 207.5h1.6v1.6h-1.6zM452.9 206.8h1.6v1.6h-1.6zM443.7 215.2h1.6v1.6h-1.6zM446.5 215.2h1.6v1.6h-1.6zM445.1 218.8h1.6v1.6h-1.6z"/>
<path fill="#0A9141" d="M454.8,293.7 454.8,237.1 455.8,237.1 455.8,236.8 456.8,236.8 456.8,237.3 457.8,237.3 457.8,235.3 458.8,235.3 458.8,234.2 459.8,234.2 459.8,235.9 460.8,235.9 460.8,236.2 461.8,236.2 461.8,237.4 462.8,237.4 462.8,234.6 463.8,234.6 463.8,234.9 464.8,234.9 464.8,236.1 465.8,236.1 465.8,233.9 466.8,233.9 466.8,235.1 467.1,235.1 467.1,293.7ZM454.5 227.3h1.6v1.6h-1.6zM454.4 230.3h1.6v1.6h-1.6zM454.5 231.3h1.6v1.6h-1.6zM454.7 233.3h1.6v1.6h-1.6zM454.6 234.3h1.6v1.6h-1.6zM454.5 235.3h1.6v1.6h-1.6zM454.7 236.3h1.6v1.6h-1.6zM455.6 226h1.6v1.6h-1.6zM455.5 233h1.6v1.6h-1.6zM455.4 235h1.6v1.6h-1.6zM456.5 232.5h1.6v1.6h-1.6zM456.5 233.5h1.6v1.6h-1.6zM456.6 235.5h1.6v1.6h-1.6zM457.6 220.5h1.6v1.6h-1.6zM457.5 221.5h1.6v1.6h-1.6zM457.4 222.5h1.6v1.6h-1.6zM457.6 223.5h1.6v1.6h-1.6zM457.4 224.5h1.6v1.6h-1.6zM457.3 225.5h1.6v1.6h-1.6zM457.4 227.5h1.6v1.6h-1.6zM457.6 228.5h1.6v1.6h-1.6zM457.4 229.5h1.6v1.6h-1.6zM457.4 231.5h1.6v1.6h-1.6zM458.4 230.4h1.6v1.6h-1.6zM458.3 231.4h1.6v1.6h-1.6zM458.6 233.4h1.6v1.6h-1.6zM459.5 229.1h1.6v1.6h-1.6zM459.4 232.1h1.6v1.6h-1.6zM459.3 233.1h1.6v1.6h-1.6zM460.6 228.4h1.6v1.6h-1.6zM460.5 230.4h1.6v1.6h-1.6zM460.4 233.4h1.6v1.6h-1.6zM460.6 235.4h1.6v1.6h-1.6zM461.5 230.6h1.6v1.6h-1.6zM461.6 233.6h1.6v1.6h-1.6zM461.6 235.6h1.6v1.6h-1.6zM461.5 236.6h1.6v1.6h-1.6zM462.4 219.8h1.6v1.6h-1.6zM462.6 222.8h1.6v1.6h-1.6zM462.4 224.8h1.6v1.6h-1.6zM462.4 226.8h1.6v1.6h-1.6zM462.5 227.8h1.6v1.6h-1.6zM462.6 228.8h1.6v1.6h-1.6zM462.3 229.8h1.6v1.6h-1.6zM462.3 232.8h1.6v1.6h-1.6zM463.4 211.1h1.6v1.6h-1.6zM463.7 212.1h1.6v1.6h-1.6zM463.7 213.1h1.6v1.6h-1.6zM463.3 215.1h1.6v1.6h-1.6zM463.6 216.1h1.6v1.6h-1.6zM463.7 218.1h1.6v1.6h-1.6zM463.4 219.1h1.6v1.6h-1.6zM463.7 220.1h1.6v1.6h-1.6zM463.3 221.1h1.6v1.6h-1.6zM463.6 222.1h1.6v1.6h-1.6zM463.4 223.1h1.6v1.6h-1.6zM463.6 224.1h1.6v1.6h-1.6zM463.5 225.1h1.6v1.6h-1.6zM463.4 226.1h1.6v1.6h-1.6zM463.6 227.1h1.6v1.6h-1.6zM463.3 229.1h1.6v1.6h-1.6zM463.6 230.1h1.6v1.6h-1.6zM463.7 231.1h1.6v1.6h-1.6zM463.6 233.1h1.6v1.6h-1.6zM463.4 234.1h1.6v1.6h-1.6zM464.6 218.3h1.6v1.6h-1.6zM464.3 230.3h1.6v1.6h-1.6zM464.4 232.3h1.6v1.6h-1.6zM464.6 234.3h1.6v1.6h-1.6zM464.5 235.3h1.6v1.6h-1.6zM465.5 228.1h1.6v1.6h-1.6zM465.7 232.1h1.6v1.6h-1.6zM465.4 233.1h1.6v1.6h-1.6zM466.2 218.3h1.6v1.6h-1.6zM466 219.3h1.6v1.6h-1.6zM466.2 222.3h1.6v1.6h-1.6zM466.3 223.3h1.6v1.6h-1.6zM466.1 224.3h1.6v1.6h-1.6zM466.3 225.3h1.6v1.6h-1.6zM466 227.3h1.6v1.6h-1.6zM466.1 229.3h1.6v1.6h-1.6zM466.2 234.3h1.6v1.6h-1.6zM456.3 213.8h1.6v1.6h-1.6zM459.1 217.4h1.6v1.6h-1.6zM462.7 218.1h1.6v1.6h-1.6zM466.9 216h1.6v1.6h-1.6zM466.9 221.6h1.6v1.6h-1.6zM460.5 223h1.6v1.6h-1.6z"/>
<path fill="#FFAF00" d="M467.1,293.7 467.1,235.8 468.1,235.8 468.1,235.4 469.1,235.4 469.1,235 470.1,235 470.1,235.8 471.1,235.8 471.1,234.7 472.1,234.7 472.1,233.7 473.1,233.7 473.1,234 474.1,234 474.1,232.8 475.1,232.8 475.1,234.6 476.1,234.6 476.1,234.8 476.6,234.8 476.6,293.7ZM466.7 232h1.6v1.6h-1.6zM466.8 234h1.6v1.6h-1.6zM466.9 235h1.6v1.6h-1.6zM467.6 221.6h1.6v1.6h-1.6zM467.8 222.6h1.6v1.6h-1.6zM467.8 223.6h1.6v1.6h-1.6zM467.8 224.6h1.6v1.6h-1.6zM467.7 225.6h1.6v1.6h-1.6zM468 226.6h1.6v1.6h-1.6zM467.7 228.6h1.6v1.6h-1.6zM467.8 229.6h1.6v1.6h-1.6zM467.7 230.6h1.6v1.6h-1.6zM468 231.6h1.6v1.6h-1.6zM468 232.6h1.6v1.6h-1.6zM467.9 233.6h1.6v1.6h-1.6zM467.8 234.6h1.6v1.6h-1.6zM468.8 234.2h1.6v1.6h-1.6zM469.6 226h1.6v1.6h-1.6zM470 227h1.6v1.6h-1.6zM469.8 229h1.6v1.6h-1.6zM469.6 231h1.6v1.6h-1.6zM469.7 233h1.6v1.6h-1.6zM469.8 234h1.6v1.6h-1.6zM469.9 235h1.6v1.6h-1.6zM470.6 220.9h1.6v1.6h-1.6zM470.9 224.9h1.6v1.6h-1.6zM471.7 218.9h1.6v1.6h-1.6zM472 224.9h1.6v1.6h-1.6zM471.7 228.9h1.6v1.6h-1.6zM471.8 231.9h1.6v1.6h-1.6zM472.9 224.2h1.6v1.6h-1.6zM472.9 225.2h1.6v1.6h-1.6zM473 226.2h1.6v1.6h-1.6zM473 227.2h1.6v1.6h-1.6zM472.8 228.2h1.6v1.6h-1.6zM472.6 230.2h1.6v1.6h-1.6zM472.9 231.2h1.6v1.6h-1.6zM472.7 232.2h1.6v1.6h-1.6zM472.7 233.2h1.6v1.6h-1.6zM473.9 226h1.6v1.6h-1.6zM474 227h1.6v1.6h-1.6zM473.8 230h1.6v1.6h-1.6zM474.6 217.8h1.6v1.6h-1.6zM474.6 230.8h1.6v1.6h-1.6zM474.8 231.8h1.6v1.6h-1.6zM475 232.8h1.6v1.6h-1.6zM474.7 233.8h1.6v1.6h-1.6zM475.6 231h1.6v1.6h-1.6zM475.5 232h1.6v1.6h-1.6zM475.4 233h1.6v1.6h-1.6zM468.3 192.3h1.6v1.6h-1.6zM468.3 193.3h1.6v1.6h-1.6zM468.3 194.3h1.6v1.6h-1.6zM468.3 195.3h1.6v1.6h-1.6zM468.3 197.3h1.6v1.6h-1.6zM468.3 198.3h1.6v1.6h-1.6zM468.3 199.3h1.6v1.6h-1.6zM468.3 200.3h1.6v1.6h-1.6zM468.3 201.3h1.6v1.6h-1.6zM468.3 202.3h1.6v1.6h-1.6zM468.3 203.3h1.6v1.6h-1.6zM468.3 204.3h1.6v1.6h-1.6zM468.3 205.3h1.6v1.6h-1.6zM468.3 206.3h1.6v1.6h-1.6zM468.3 207.3h1.6v1.6h-1.6zM468.3 208.3h1.6v1.6h-1.6zM468.3 209.3h1.6v1.6h-1.6zM468.3 210.3h1.6v1.6h-1.6zM468.3 211.3h1.6v1.6h-1.6zM468.3 212.3h1.6v1.6h-1.6zM468.3 213.3h1.6v1.6h-1.6zM468.3 214.3h1.6v1.6h-1.6zM468.3 215.3h1.6v1.6h-1.6zM468.3 216.3h1.6v1.6h-1.6zM468.3 217.3h1.6v1.6h-1.6zM468.3 218.3h1.6v1.6h-1.6zM468.3 219.3h1.6v1.6h-1.6zM468.3 220.3h1.6v1.6h-1.6zM468.3 221.3h1.6v1.6h-1.6zM468.3 222.3h1.6v1.6h-1.6zM468.3 223.3h1.6v1.6h-1.6zM468.3 224.3h1.6v1.6h-1.6zM468.3 225.3h1.6v1.6h-1.6zM468.3 226.3h1.6v1.6h-1.6zM468.3 227.3h1.6v1.6h-1.6zM468.3 228.3h1.6v1.6h-1.6zM468.3 229.3h1.6v1.6h-1.6zM468.3 230.3h1.6v1.6h-1.6zM468.3 231.3h1.6v1.6h-1.6zM468.3 232.3h1.6v1.6h-1.6zM475.3 210.3h1.6v1.6h-1.6z"/>
<path fill="#AA00FF" d="M476.6,293.7 476.6,232.4 477.6,232.4 477.6,231.4 478.6,231.4 478.6,233.3 479.6,233.3 479.6,234.4 480.6,234.4 480.6,234.5 481.6,234.5 481.6,231.8 482.6,231.8 482.6,233.9 483.6,233.9 483.6,232.5 484.6,232.5 484.6,233.2 485.6,233.2 485.6,233.9 486.6,233.9 486.6,235.1 487.6,235.1 487.6,234.3 488.6,234.3 488.6,234.1 488.7,234.1 488.7,293.7ZM476.1 208.6h1.6v1.6h-1.6zM476.1 216.6h1.6v1.6h-1.6zM476.5 219.6h1.6v1.6h-1.6zM476.5 220.6h1.6v1.6h-1.6zM476.1 222.6h1.6v1.6h-1.6zM476.4 224.6h1.6v1.6h-1.6zM476.3 225.6h1.6v1.6h-1.6zM476.5 227.6h1.6v1.6h-1.6zM476.4 228.6h1.6v1.6h-1.6zM476.3 229.6h1.6v1.6h-1.6zM476.3 230.6h1.6v1.6h-1.6zM476.3 231.6h1.6v1.6h-1.6zM477.5 224.6h1.6v1.6h-1.6zM477.2 225.6h1.6v1.6h-1.6zM477.4 226.6h1.6v1.6h-1.6zM477.1 227.6h1.6v1.6h-1.6zM477.2 228.6h1.6v1.6h-1.6zM477.5 230.6h1.6v1.6h-1.6zM478.4 225.5h1.6v1.6h-1.6zM478.2 228.5h1.6v1.6h-1.6zM478.3 230.5h1.6v1.6h-1.6zM478.2 232.5h1.6v1.6h-1.6zM479.1 222.6h1.6v1.6h-1.6zM479.3 224.6h1.6v1.6h-1.6zM479.1 225.6h1.6v1.6h-1.6zM479.3 227.6h1.6v1.6h-1.6zM479.4 228.6h1.6v1.6h-1.6zM479.3 230.6h1.6v1.6h-1.6zM479.5 231.6h1.6v1.6h-1.6zM480.5 230.7h1.6v1.6h-1.6zM480.5 233.7h1.6v1.6h-1.6zM481.3 210h1.6v1.6h-1.6zM481.2 213h1.6v1.6h-1.6zM481.2 217h1.6v1.6h-1.6zM481.2 218h1.6v1.6h-1.6zM481.1 219h1.6v1.6h-1.6zM481.1 220h1.6v1.6h-1.6zM481.3 221h1.6v1.6h-1.6zM481.5 222h1.6v1.6h-1.6zM481.2 225h1.6v1.6h-1.6zM481.4 226h1.6v1.6h-1.6zM481.3 227h1.6v1.6h-1.6zM481.3 228h1.6v1.6h-1.6zM481.3 229h1.6v1.6h-1.6zM481.4 230h1.6v1.6h-1.6zM481.3 231h1.6v1.6h-1.6zM482.2 229.1h1.6v1.6h-1.6zM482.4 230.1h1.6v1.6h-1.6zM482.3 231.1h1.6v1.6h-1.6zM482.1 232.1h1.6v1.6h-1.6zM482.1 233.1h1.6v1.6h-1.6zM483.4 219.7h1.6v1.6h-1.6zM483.3 225.7h1.6v1.6h-1.6zM483.4 230.7h1.6v1.6h-1.6zM483.2 231.7h1.6v1.6h-1.6zM484.5 221.4h1.6v1.6h-1.6zM484.5 223.4h1.6v1.6h-1.6zM484.4 225.4h1.6v1.6h-1.6zM484.1 226.4h1.6v1.6h-1.6zM484.3 228.4h1.6v1.6h-1.6zM484.3 229.4h1.6v1.6h-1.6zM484.3 231.4h1.6v1.6h-1.6zM484.2 232.4h1.6v1.6h-1.6zM485.1 214.1h1.6v1.6h-1.6zM485.2 229.1h1.6v1.6h-1.6zM485.4 231.1h1.6v1.6h-1.6zM485.2 232.1h1.6v1.6h-1.6zM485.2 233.1h1.6v1.6h-1.6zM486.3 228.3h1.6v1.6h-1.6zM486.1 233.3h1.6v1.6h-1.6zM487.4 211.5h1.6v1.6h-1.6zM487.1 212.5h1.6v1.6h-1.6zM487.2 213.5h1.6v1.6h-1.6zM487.5 214.5h1.6v1.6h-1.6zM487.1 215.5h1.6v1.6h-1.6zM487.4 216.5h1.6v1.6h-1.6zM487.2 217.5h1.6v1.6h-1.6zM487.4 218.5h1.6v1.6h-1.6zM487.2 219.5h1.6v1.6h-1.6zM487.3 221.5h1.6v1.6h-1.6zM487.5 222.5h1.6v1.6h-1.6zM487.3 223.5h1.6v1.6h-1.6zM487.1 226.5h1.6v1.6h-1.6zM487.5 227.5h1.6v1.6h-1.6zM487.4 228.5h1.6v1.6h-1.6zM487.5 230.5h1.6v1.6h-1.6zM487.3 231.5h1.6v1.6h-1.6zM487.5 233.5h1.6v1.6h-1.6zM487.7 221.3h1.6v1.6h-1.6zM487.8 228.3h1.6v1.6h-1.6zM487.9 229.3h1.6v1.6h-1.6zM481.4 208.2h1.6v1.6h-1.6zM481.4 209.2h1.6v1.6h-1.6zM481.4 210.2h1.6v1.6h-1.6zM481.4 211.2h1.6v1.6h-1.6zM481.4 212.2h1.6v1.6h-1.6zM481.4 213.2h1.6v1.6h-1.6zM481.4 214.2h1.6v1.6h-1.6zM481.4 216.2h1.6v1.6h-1.6zM481.4 217.2h1.6v1.6h-1.6zM481.4 218.2h1.6v1.6h-1.6zM481.4 219.2h1.6v1.6h-1.6zM481.4 220.2h1.6v1.6h-1.6zM481.4 221.2h1.6v1.6h-1.6zM481.4 222.2h1.6v1.6h-1.6zM481.4 223.2h1.6v1.6h-1.6zM481.4 224.2h1.6v1.6h-1.6zM481.4 225.2h1.6v1.6h-1.6zM481.4 226.2h1.6v1.6h-1.6zM481.4 227.2h1.6v1.6h-1.6zM481.4 228.2h1.6v1.6h-1.6zM481.4 229.2h1.6v1.6h-1.6zM481.4 230.2h1.6v1.6h-1.6zM481.4 231.2h1.6v1.6h-1.6zM476.9 212.4h1.6v1.6h-1.6zM476.8 213.4h1.6v1.6h-1.6zM476.6 214.4h1.6v1.6h-1.6zM476.6 216.4h1.6v1.6h-1.6zM476.6 217.4h1.6v1.6h-1.6zM476.5 219.4h1.6v1.6h-1.6zM476.8 221.4h1.6v1.6h-1.6zM476.9 223.4h1.6v1.6h-1.6zM476.9 225.4h1.6v1.6h-1.6zM476.7 228.4h1.6v1.6h-1.6zM476.7 229.4h1.6v1.6h-1.6zM476.5 230.4h1.6v1.6h-1.6zM481.4 173.6h1.6v1.6h-1.6zM481.4 176.9h1.6v1.6h-1.6zM481.4 179.5h1.6v1.6h-1.6zM481.4 180.7h1.6v1.6h-1.6zM481.4 182h1.6v1.6h-1.6zM481.4 185.4h1.6v1.6h-1.6zM481.4 189.6h1.6v1.6h-1.6zM481.4 192.2h1.6v1.6h-1.6zM481.4 195.5h1.6v1.6h-1.6zM481.4 196.4h1.6v1.6h-1.6zM481.4 199.8h1.6v1.6h-1.6zM481.4 202.3h1.6v1.6h-1.6zM476.7 202.6h1.6v1.6h-1.6zM476.7 203.3h1.6v1.6h-1.6zM485.2 205.4h1.6v1.6h-1.6zM485.2 208.2h1.6v1.6h-1.6zM482.4 216.7h1.6v1.6h-1.6zM485.9 221.6h1.6v1.6h-1.6z"/>
<path fill="#0F96B9" d="M497.2,293.7 497.2,235.8 498.2,235.8 498.2,237.2 499.2,237.2 499.2,235 500.2,235 500.2,234.1 501.2,234.1 501.2,229.5 502.2,229.5 502.2,231.7 503.2,231.7 503.2,230.5 504.2,230.5 504.2,231.7 504.8,231.7 504.8,293.7ZM496.8 226h1.6v1.6h-1.6zM497.1 227h1.6v1.6h-1.6zM497 229h1.6v1.6h-1.6zM497 230h1.6v1.6h-1.6zM497 231h1.6v1.6h-1.6zM496.9 232h1.6v1.6h-1.6zM496.7 233h1.6v1.6h-1.6zM496.9 235h1.6v1.6h-1.6zM497.9 220.4h1.6v1.6h-1.6zM497.9 230.4h1.6v1.6h-1.6zM497.9 233.4h1.6v1.6h-1.6zM498.1 234.4h1.6v1.6h-1.6zM497.7 235.4h1.6v1.6h-1.6zM497.8 236.4h1.6v1.6h-1.6zM498.9 234.2h1.6v1.6h-1.6zM499.9 233.3h1.6v1.6h-1.6zM501 224.7h1.6v1.6h-1.6zM500.9 225.7h1.6v1.6h-1.6zM500.9 227.7h1.6v1.6h-1.6zM501 228.7h1.6v1.6h-1.6zM502 229.9h1.6v1.6h-1.6zM501.9 230.9h1.6v1.6h-1.6zM502.9 228.7h1.6v1.6h-1.6zM502.8 229.7h1.6v1.6h-1.6zM503.6 210.9h1.6v1.6h-1.6zM503.8 215.9h1.6v1.6h-1.6zM503.7 221.9h1.6v1.6h-1.6zM503.7 228.9h1.6v1.6h-1.6zM502.8 213.2h1.6v1.6h-1.6zM502.1 218.1h1.6v1.6h-1.6zM500 219.5h1.6v1.6h-1.6z"/>
<path fill="#fff" d="M66.5,200 L71.2,200 L71,245 L70.2,248.5 L70.2,294 L68.3,294 L68.2,248.5 L66.6,245Z"/>
<path fill="#fff" d="M295.8,160 L301.2,160 L301,231 L300.4,245 L300.7,294 L299.2,294 L298.4,245 L297.8,231 L295.8,228Z"/>
<rect x="378.3" y="200" width="0.8" height="94" fill="#fff"/>
<rect x="396.4" y="200" width="0.9" height="94" fill="#fff"/>
<rect x="413.7" y="200" width="1.1" height="94" fill="#fff"/>
<path fill="#fff" d="M432.8,200 L435.7,200 L435.6,236 L435.2,240 L434.4,240 L432.9,236Z" /><rect x="434.3" y="240" width="0.9" height="16" fill="#fff" opacity="0.35"/>
<line x1="47.6" y1="10.9" x2="47.6" y2="308.5" stroke="#000" stroke-width="1.5"/>
<line x1="46.9" y1="308" x2="508.8" y2="308" stroke="#000" stroke-width="1.6"/>
<line x1="45" y1="303.13" x2="47.5" y2="303.13" stroke="#000" stroke-width="1.3"/>
<line x1="42.9" y1="293.70" x2="47.5" y2="293.70" stroke="#000" stroke-width="1.3"/>
<line x1="45" y1="284.27" x2="47.5" y2="284.27" stroke="#000" stroke-width="1.3"/>
<line x1="45" y1="274.84" x2="47.5" y2="274.84" stroke="#000" stroke-width="1.3"/>
<line x1="45" y1="265.41" x2="47.5" y2="265.41" stroke="#000" stroke-width="1.3"/>
<line x1="42.9" y1="255.99" x2="47.5" y2="255.99" stroke="#000" stroke-width="1.3"/>
<line x1="45" y1="246.56" x2="47.5" y2="246.56" stroke="#000" stroke-width="1.3"/>
<line x1="45" y1="237.13" x2="47.5" y2="237.13" stroke="#000" stroke-width="1.3"/>
<line x1="45" y1="227.70" x2="47.5" y2="227.70" stroke="#000" stroke-width="1.3"/>
<line x1="42.9" y1="218.27" x2="47.5" y2="218.27" stroke="#000" stroke-width="1.3"/>
<line x1="45" y1="208.84" x2="47.5" y2="208.84" stroke="#000" stroke-width="1.3"/>
<line x1="45" y1="199.41" x2="47.5" y2="199.41" stroke="#000" stroke-width="1.3"/>
<line x1="45" y1="189.99" x2="47.5" y2="189.99" stroke="#000" stroke-width="1.3"/>
<line x1="42.9" y1="180.56" x2="47.5" y2="180.56" stroke="#000" stroke-width="1.3"/>
<line x1="45" y1="171.13" x2="47.5" y2="171.13" stroke="#000" stroke-width="1.3"/>
<line x1="45" y1="161.70" x2="47.5" y2="161.70" stroke="#000" stroke-width="1.3"/>
<line x1="45" y1="152.27" x2="47.5" y2="152.27" stroke="#000" stroke-width="1.3"/>
<line x1="42.9" y1="142.84" x2="47.5" y2="142.84" stroke="#000" stroke-width="1.3"/>
<line x1="45" y1="133.42" x2="47.5" y2="133.42" stroke="#000" stroke-width="1.3"/>
<line x1="45" y1="123.99" x2="47.5" y2="123.99" stroke="#000" stroke-width="1.3"/>
<line x1="45" y1="114.56" x2="47.5" y2="114.56" stroke="#000" stroke-width="1.3"/>
<line x1="42.9" y1="105.13" x2="47.5" y2="105.13" stroke="#000" stroke-width="1.3"/>
<line x1="45" y1="95.70" x2="47.5" y2="95.70" stroke="#000" stroke-width="1.3"/>
<line x1="45" y1="86.27" x2="47.5" y2="86.27" stroke="#000" stroke-width="1.3"/>
<line x1="45" y1="76.84" x2="47.5" y2="76.84" stroke="#000" stroke-width="1.3"/>
<line x1="42.9" y1="67.42" x2="47.5" y2="67.42" stroke="#000" stroke-width="1.3"/>
<line x1="45" y1="57.99" x2="47.5" y2="57.99" stroke="#000" stroke-width="1.3"/>
<line x1="45" y1="48.56" x2="47.5" y2="48.56" stroke="#000" stroke-width="1.3"/>
<line x1="45" y1="39.13" x2="47.5" y2="39.13" stroke="#000" stroke-width="1.3"/>
<line x1="42.9" y1="29.70" x2="47.5" y2="29.70" stroke="#000" stroke-width="1.3"/>
<line x1="45" y1="20.27" x2="47.5" y2="20.27" stroke="#000" stroke-width="1.3"/>
<line x1="45" y1="10.84" x2="47.5" y2="10.84" stroke="#000" stroke-width="1.3"/>
<line x1="48.4" y1="308" x2="48.4" y2="312.6" stroke="#000" stroke-width="1.4"/>
<line x1="87.3" y1="308" x2="87.3" y2="312.6" stroke="#000" stroke-width="1.4"/>
<line x1="125.8" y1="308" x2="125.8" y2="312.6" stroke="#000" stroke-width="1.4"/>
<line x1="156.7" y1="308" x2="156.7" y2="312.6" stroke="#000" stroke-width="1.4"/>
<line x1="187.3" y1="308" x2="187.3" y2="312.6" stroke="#000" stroke-width="1.4"/>
<line x1="215.7" y1="308" x2="215.7" y2="312.6" stroke="#000" stroke-width="1.4"/>
<line x1="243.1" y1="308" x2="243.1" y2="312.6" stroke="#000" stroke-width="1.4"/>
<line x1="267.7" y1="308" x2="267.7" y2="312.6" stroke="#000" stroke-width="1.4"/>
<line x1="290.8" y1="308" x2="290.8" y2="312.6" stroke="#000" stroke-width="1.4"/>
<line x1="313.4" y1="308" x2="313.4" y2="312.6" stroke="#000" stroke-width="1.4"/>
<line x1="334.6" y1="308" x2="334.6" y2="312.6" stroke="#000" stroke-width="1.4"/>
<line x1="356.0" y1="308" x2="356.0" y2="312.6" stroke="#000" stroke-width="1.4"/>
<line x1="377.7" y1="308" x2="377.7" y2="312.6" stroke="#000" stroke-width="1.4"/>
<line x1="395.7" y1="308" x2="395.7" y2="312.6" stroke="#000" stroke-width="1.4"/>
<line x1="412.3" y1="308" x2="412.3" y2="312.6" stroke="#000" stroke-width="1.4"/>
<line x1="428.9" y1="308" x2="428.9" y2="312.6" stroke="#000" stroke-width="1.4"/>
<line x1="442.8" y1="308" x2="442.8" y2="312.6" stroke="#000" stroke-width="1.4"/>
<line x1="456.2" y1="308" x2="456.2" y2="312.6" stroke="#000" stroke-width="1.4"/>
<line x1="468.1" y1="308" x2="468.1" y2="312.6" stroke="#000" stroke-width="1.4"/>
<line x1="477.7" y1="308" x2="477.7" y2="312.6" stroke="#000" stroke-width="1.4"/>
<line x1="487.9" y1="308" x2="487.9" y2="312.6" stroke="#000" stroke-width="1.4"/>
<line x1="495.8" y1="308" x2="495.8" y2="312.6" stroke="#000" stroke-width="1.4"/>
<line x1="504.3" y1="308" x2="504.3" y2="312.6" stroke="#000" stroke-width="1.4"/>
<g font-size="9" fill="#1a1a1a">
<text transform="translate(38.0,296.10) scale(0.9,1)" text-anchor="end">0</text>
<text transform="translate(38.0,258.39) scale(0.9,1)" text-anchor="end">2</text>
<text transform="translate(38.0,220.67) scale(0.9,1)" text-anchor="end">4</text>
<text transform="translate(38.0,182.96) scale(0.9,1)" text-anchor="end">6</text>
<text transform="translate(38.0,145.24) scale(0.9,1)" text-anchor="end">8</text>
<text transform="translate(38.0,107.53) scale(0.9,1)" text-anchor="end">10</text>
<text transform="translate(38.0,69.82) scale(0.9,1)" text-anchor="end">12</text>
<text transform="translate(38.0,32.10) scale(0.9,1)" text-anchor="end">14</text>
<text transform="translate(67.85,325) scale(0.9,1)" text-anchor="middle">1</text>
<text transform="translate(106.55,325) scale(0.9,1)" text-anchor="middle">2</text>
<text transform="translate(141.25,325) scale(0.9,1)" text-anchor="middle">3</text>
<text transform="translate(172.00,325) scale(0.9,1)" text-anchor="middle">4</text>
<text transform="translate(201.50,325) scale(0.9,1)" text-anchor="middle">5</text>
<text transform="translate(229.40,325) scale(0.9,1)" text-anchor="middle">6</text>
<text transform="translate(255.40,325) scale(0.9,1)" text-anchor="middle">7</text>
<text transform="translate(279.25,325) scale(0.9,1)" text-anchor="middle">8</text>
<text transform="translate(302.10,325) scale(0.9,1)" text-anchor="middle">9</text>
<text transform="translate(324.00,325) scale(0.9,1)" text-anchor="middle">10</text>
<text transform="translate(345.30,325) scale(0.9,1)" text-anchor="middle">11</text>
<text transform="translate(366.85,325) scale(0.9,1)" text-anchor="middle">12</text>
<text transform="translate(386.70,325) scale(0.9,1)" text-anchor="middle">13</text>
<text transform="translate(404.00,325) scale(0.9,1)" text-anchor="middle">14</text>
<text transform="translate(420.60,325) scale(0.9,1)" text-anchor="middle">15</text>
<text transform="translate(435.85,325) scale(0.9,1)" text-anchor="middle">16</text>
<text transform="translate(449.50,325) scale(0.9,1)" text-anchor="middle">17</text>
<text transform="translate(462.15,325) scale(0.9,1)" text-anchor="middle">18</text>
<text transform="translate(472.90,325) scale(0.9,1)" text-anchor="middle">19</text>
<text transform="translate(484.00,325) scale(0.9,1)" text-anchor="middle">20</text>
<text transform="translate(499.75,325) scale(0.9,1)" text-anchor="middle">22</text>
</g>
<text x="249.3" y="341.6" font-size="12.4" fill="#1a1a1a" textLength="56" lengthAdjust="spacingAndGlyphs">Chromosome</text>
<text transform="translate(20.3,176.6) rotate(-90) scale(0.79,1)" font-size="11.5" fill="#111">-log<tspan font-size="6.8" dy="3.6">10</tspan><tspan dy="-3.6" dx="2.2">(</tspan><tspan font-style="italic" font-weight="bold" dx="-0.3">P</tspan><tspan dx="-0.3">)</tspan></text>

<g font-family="Liberation Sans, sans-serif" font-style="italic" font-size="8.4" fill="#111" stroke="#111" stroke-width="0.2">
<text x="220" y="25">IKZF1</text>
<text x="264.2" y="67.8">CDKN2A</text>
<text x="302" y="97.7">GATA3</text>
<text x="357.5" y="69">ARID5B</text>
<text x="353.6" y="138.5">BMI1-PIP4K2A</text>
</g>
<g stroke="#000" stroke-width="1.4">
<line x1="283.2" y1="70.3" x2="293.5" y2="109.4"/>
<line x1="315" y1="100.3" x2="315" y2="146.2"/>
<line x1="369.1" y1="70.3" x2="324.7" y2="135.8"/>
<line x1="365.3" y1="141.9" x2="318" y2="175"/>
</g>
<g font-family="Liberation Sans, sans-serif" font-size="8.4" fill="#111">
<text x="456" y="151.6"><tspan font-style="italic">P</tspan> = 5.0 x 10<tspan font-size="5.5" dy="-3.2">-8</tspan></text>
</g>

</svg>
</body></html>
